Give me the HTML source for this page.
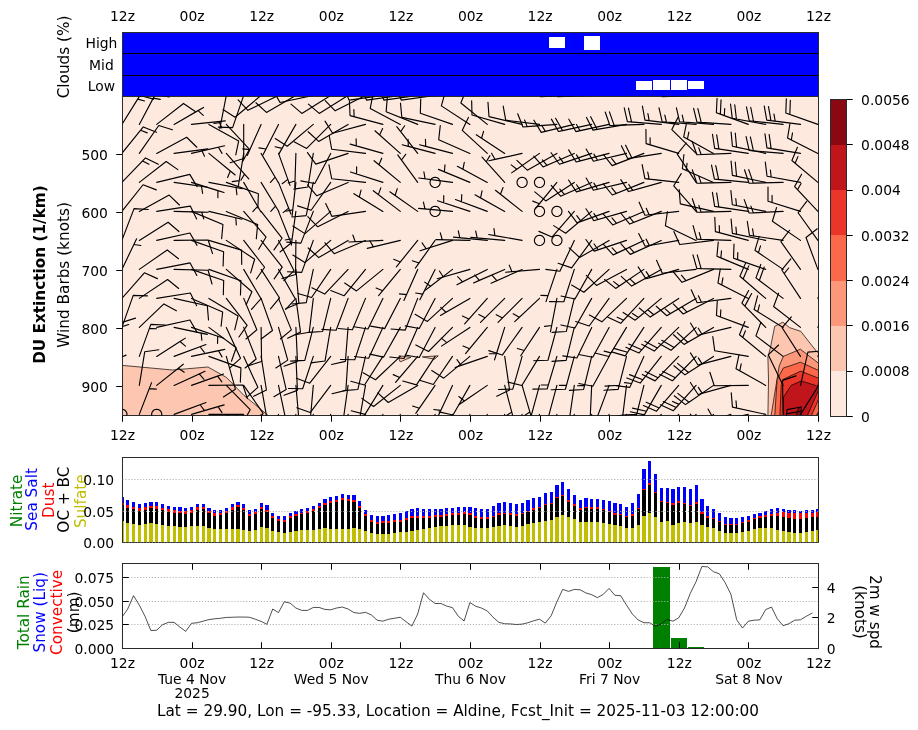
<!DOCTYPE html>
<html lang="en"><head><meta charset="utf-8"><title>Meteogram - Aldine</title>
<style>html,body{margin:0;padding:0;background:#fff;overflow:hidden}body{width:918px;height:730px;font-family:"DejaVu Sans","Liberation Sans",sans-serif}svg{display:block}g[id^=cr] path{shape-rendering:crispEdges}</style>
</head><body>
<svg width="918" height="730" viewBox="0 0 660.96 525.6">
 <defs>
  <style type="text/css">*{stroke-linejoin: round; stroke-linecap: butt}</style>
 </defs>
 <g id="figure_1">
  <g id="patch_1">
   <path d="M 0 525.6 L 660.96 525.6 L 660.96 0 L 0 0 z
" style="fill: #ffffff"/>
  </g>
  <g id="text_1">
   <text style="font-size: 11px; font-family: 'DejaVu Sans', 'Liberation Sans', sans-serif; text-anchor: middle" x="49.752" y="40.968" transform="rotate(-90 49.752 40.968)">Clouds (%)</text>
  </g>
  <g id="text_2">
   <text style="font-weight: 700; font-size: 11px; font-family: 'DejaVu Sans', 'Liberation Sans', sans-serif; text-anchor: middle" x="32.4" y="197.712" transform="rotate(-90 32.4 197.712)">DU Extinction (1/km)</text>
  </g>
  <g id="text_3">
   <text style="font-size: 11px; font-family: 'DejaVu Sans', 'Liberation Sans', sans-serif; text-anchor: middle" x="49.464" y="197.928" transform="rotate(-90 49.464 197.928)">Wind Barbs (knots)</text>
  </g>
  <g id="text_4">
   <text style="font-size: 11px; font-family: 'DejaVu Sans', 'Liberation Sans', sans-serif; text-anchor: middle; fill: #008000" x="15.984" y="360.648" transform="rotate(-90 15.984 360.648)">Nitrate</text>
  </g>
  <g id="text_5">
   <text style="font-size: 11px; font-family: 'DejaVu Sans', 'Liberation Sans', sans-serif; text-anchor: middle; fill: #0000ff" x="26.784" y="359.568" transform="rotate(-90 26.784 359.568)">Sea Salt</text>
  </g>
  <g id="text_6">
   <text style="font-size: 11px; font-family: 'DejaVu Sans', 'Liberation Sans', sans-serif; text-anchor: middle; fill: #ff0000" x="38.88" y="360.144" transform="rotate(-90 38.88 360.144)">Dust</text>
  </g>
  <g id="text_7">
   <text style="font-size: 11px; font-family: 'DejaVu Sans', 'Liberation Sans', sans-serif; text-anchor: middle" x="49.536" y="359.712" transform="rotate(-90 49.536 359.712)">OC + BC</text>
  </g>
  <g id="text_8">
   <text style="font-size: 11px; font-family: 'DejaVu Sans', 'Liberation Sans', sans-serif; text-anchor: middle; fill: #bfbf00" x="61.92" y="360.864" transform="rotate(-90 61.92 360.864)">Sulfate</text>
  </g>
  <g id="text_9">
   <text style="font-size: 11px; font-family: 'DejaVu Sans', 'Liberation Sans', sans-serif; text-anchor: middle; fill: #008000" x="21.24" y="440.856" transform="rotate(-90 21.24 440.856)">Total Rain</text>
  </g>
  <g id="text_10">
   <text style="font-size: 11px; font-family: 'DejaVu Sans', 'Liberation Sans', sans-serif; text-anchor: middle; fill: #0000ff" x="32.616" y="440.856" transform="rotate(-90 32.616 440.856)">Snow (Liq)</text>
  </g>
  <g id="text_11">
   <text style="font-size: 11px; font-family: 'DejaVu Sans', 'Liberation Sans', sans-serif; text-anchor: middle; fill: #ff0000" x="45" y="440.856" transform="rotate(-90 45 440.856)">Convective</text>
  </g>
  <g id="text_12">
   <text style="font-size: 11px; font-family: 'DejaVu Sans', 'Liberation Sans', sans-serif; text-anchor: middle" x="56.736" y="440.856" transform="rotate(-90 56.736 440.856)">(mm)</text>
  </g>
  <g id="text_13">
   <text style="font-size: 11px; font-family: 'DejaVu Sans', 'Liberation Sans', sans-serif; text-anchor: middle" x="626.616" y="440.64" transform="rotate(-270 626.616 440.64)">2m w spd</text>
  </g>
  <g id="text_14">
   <text style="font-size: 11px; font-family: 'DejaVu Sans', 'Liberation Sans', sans-serif; text-anchor: middle" x="615.6" y="440.64" transform="rotate(-270 615.6 440.64)">(knots)</text>
  </g>
  <g id="axes_1">
   <g id="patch_2">
    <path d="M 88.2 69.48 L 589.32 69.48 L 589.32 23.4 L 88.2 23.4 z
" style="fill: #0000ff"/>
   </g>
   <g id="matplotlib.axis_1">
    <g id="xtick_1">
     <g id="line2d_1"/>
     <g id="text_15">
      <text style="font-size: 10px; font-family: 'DejaVu Sans', 'Liberation Sans', sans-serif; text-anchor: middle" x="88.2" y="15.120313" transform="rotate(-0 88.2 15.120313)">12z</text>
     </g>
    </g>
    <g id="xtick_2">
     <g id="line2d_2"/>
     <g id="text_16">
      <text style="font-size: 10px; font-family: 'DejaVu Sans', 'Liberation Sans', sans-serif; text-anchor: middle" x="138.312" y="15.120313" transform="rotate(-0 138.312 15.120313)">00z</text>
     </g>
    </g>
    <g id="xtick_3">
     <g id="line2d_3"/>
     <g id="text_17">
      <text style="font-size: 10px; font-family: 'DejaVu Sans', 'Liberation Sans', sans-serif; text-anchor: middle" x="188.424" y="15.120313" transform="rotate(-0 188.424 15.120313)">12z</text>
     </g>
    </g>
    <g id="xtick_4">
     <g id="line2d_4"/>
     <g id="text_18">
      <text style="font-size: 10px; font-family: 'DejaVu Sans', 'Liberation Sans', sans-serif; text-anchor: middle" x="238.536" y="15.120313" transform="rotate(-0 238.536 15.120313)">00z</text>
     </g>
    </g>
    <g id="xtick_5">
     <g id="line2d_5"/>
     <g id="text_19">
      <text style="font-size: 10px; font-family: 'DejaVu Sans', 'Liberation Sans', sans-serif; text-anchor: middle" x="288.648" y="15.120313" transform="rotate(-0 288.648 15.120313)">12z</text>
     </g>
    </g>
    <g id="xtick_6">
     <g id="line2d_6"/>
     <g id="text_20">
      <text style="font-size: 10px; font-family: 'DejaVu Sans', 'Liberation Sans', sans-serif; text-anchor: middle" x="338.76" y="15.120313" transform="rotate(-0 338.76 15.120313)">00z</text>
     </g>
    </g>
    <g id="xtick_7">
     <g id="line2d_7"/>
     <g id="text_21">
      <text style="font-size: 10px; font-family: 'DejaVu Sans', 'Liberation Sans', sans-serif; text-anchor: middle" x="388.872" y="15.120313" transform="rotate(-0 388.872 15.120313)">12z</text>
     </g>
    </g>
    <g id="xtick_8">
     <g id="line2d_8"/>
     <g id="text_22">
      <text style="font-size: 10px; font-family: 'DejaVu Sans', 'Liberation Sans', sans-serif; text-anchor: middle" x="438.984" y="15.120313" transform="rotate(-0 438.984 15.120313)">00z</text>
     </g>
    </g>
    <g id="xtick_9">
     <g id="line2d_9"/>
     <g id="text_23">
      <text style="font-size: 10px; font-family: 'DejaVu Sans', 'Liberation Sans', sans-serif; text-anchor: middle" x="489.096" y="15.120313" transform="rotate(-0 489.096 15.120313)">12z</text>
     </g>
    </g>
    <g id="xtick_10">
     <g id="line2d_10"/>
     <g id="text_24">
      <text style="font-size: 10px; font-family: 'DejaVu Sans', 'Liberation Sans', sans-serif; text-anchor: middle" x="539.208" y="15.120313" transform="rotate(-0 539.208 15.120313)">00z</text>
     </g>
    </g>
    <g id="xtick_11">
     <g id="line2d_11"/>
     <g id="text_25">
      <text style="font-size: 10px; font-family: 'DejaVu Sans', 'Liberation Sans', sans-serif; text-anchor: middle" x="589.32" y="15.120313" transform="rotate(-0 589.32 15.120313)">12z</text>
     </g>
    </g>
   </g>
   <g id="matplotlib.axis_2"/>
   <g id="line2d_12">
    <path d="M 88.2 38.52 L 589.32 38.52 
" clip-path="url(#pad1b31eeb8)" style="fill: none; stroke: #000000; stroke-width: 0.8"/>
   </g>
   <g id="line2d_13">
    <path d="M 88.2 54.36 L 589.32 54.36 
" clip-path="url(#pad1b31eeb8)" style="fill: none; stroke: #000000; stroke-width: 0.8"/>
   </g>
   <g id="patch_3">
    <path d="M 88.2 69.48 L 88.2 23.4 
" style="fill: none; stroke: #2b2b2b; stroke-width: 0.72; stroke-linejoin: miter; stroke-linecap: square"/>
   </g>
   <g id="patch_4">
    <path d="M 589.32 69.48 L 589.32 23.4 
" style="fill: none; stroke: #2b2b2b; stroke-width: 0.72; stroke-linejoin: miter; stroke-linecap: square"/>
   </g>
   <g id="patch_5">
    <path d="M 88.2 69.48 L 589.32 69.48 
" style="fill: none; stroke: #2b2b2b; stroke-width: 0.72; stroke-linejoin: miter; stroke-linecap: square"/>
   </g>
   <g id="patch_6">
    <path d="M 88.2 23.4 L 589.32 23.4 
" style="fill: none; stroke: #2b2b2b; stroke-width: 0.72; stroke-linejoin: miter; stroke-linecap: square"/>
   </g>
   <g id="cr1">
    <path d="M 395.28 26.64 L 406.8 26.64 L 406.8 34.56 L 395.28 34.56 z
" clip-path="url(#pad1b31eeb8)" style="fill: #ffffff"/>
   </g>
   <g id="cr2">
    <path d="M 420.48 25.92 L 432 25.92 L 432 36 L 420.48 36 z
" clip-path="url(#pad1b31eeb8)" style="fill: #ffffff"/>
   </g>
   <g id="cr3">
    <path d="M 457.92 58.32 L 469.44 58.32 L 469.44 64.8 L 457.92 64.8 z
" clip-path="url(#pad1b31eeb8)" style="fill: #ffffff"/>
   </g>
   <g id="cr4">
    <path d="M 470.16 57.6 L 482.4 57.6 L 482.4 64.8 L 470.16 64.8 z
" clip-path="url(#pad1b31eeb8)" style="fill: #ffffff"/>
   </g>
   <g id="cr5">
    <path d="M 483.12 57.6 L 494.64 57.6 L 494.64 64.8 L 483.12 64.8 z
" clip-path="url(#pad1b31eeb8)" style="fill: #ffffff"/>
   </g>
   <g id="cr6">
    <path d="M 495.36 58.32 L 506.88 58.32 L 506.88 64.08 L 495.36 64.08 z
" clip-path="url(#pad1b31eeb8)" style="fill: #ffffff"/>
   </g>
  </g>
  <g id="axes_2">
   <g id="patch_7">
    <path d="M 88.2 299.16 L 589.32 299.16 L 589.32 69.48 L 88.2 69.48 z
" style="fill: #fee9df"/>
   </g>
   <g id="patch_8">
    <path d="M 87.48 263.016 L 124.2 266.4 L 149.76 264.24 L 163.08 271.8 L 175.68 284.688 L 192.96 299.016 L 192.96 299.88 L 87.48 299.88 z
" clip-path="url(#p995d3564c0)" style="fill: #fdc6b0; stroke: #000000; stroke-width: 0.5; stroke-linejoin: miter"/>
   </g>
   <g id="patch_9">
    <path d="M 287.28 256.176 L 295.848 257.256 L 288.144 260.568 L 287.28 258.48 z
" clip-path="url(#p995d3564c0)" style="fill: #fdc6b0; stroke: #000000; stroke-width: 0.5; stroke-linejoin: miter"/>
   </g>
   <g id="patch_10">
    <path d="M 304.056 256.968 L 315.576 256.176 L 312.84 258.624 z
" clip-path="url(#p995d3564c0)" style="fill: #fdc6b0; stroke: #000000; stroke-width: 0.5; stroke-linejoin: miter"/>
   </g>
   <g id="patch_11">
    <path d="M 552.888 299.88 L 553.32 273.6 L 552.888 257.04 L 554.616 250.704 L 557.784 234.936 L 563.688 231.984 L 568.44 235.872 L 576.576 238.608 L 587.664 252.72 L 590.04 254.88 L 590.04 299.88 z
" clip-path="url(#p995d3564c0)" style="fill: #fdc6b0; stroke: #000000; stroke-width: 0.5; stroke-linejoin: miter"/>
   </g>
   <g id="patch_12">
    <path d="M 555.12 299.88 L 561.024 263.52 L 563.976 256.608 L 576.288 251.424 L 590.04 262.08 L 590.04 299.88 z
" clip-path="url(#p995d3564c0)" style="fill: #fc9879; stroke: #000000; stroke-width: 0.5; stroke-linejoin: miter"/>
   </g>
   <g id="patch_13">
    <path d="M 557.784 299.88 L 559.512 273.384 L 563.976 264.96 L 568.44 263.52 L 576.288 260.784 L 590.04 266.976 L 590.04 295.2 L 587.304 299.88 z
" clip-path="url(#p995d3564c0)" style="fill: #fb694a; stroke: #000000; stroke-width: 0.5; stroke-linejoin: miter"/>
   </g>
   <g id="patch_14">
    <path d="M 561.528 299.88 L 562.464 276.84 L 563.76 273.168 L 576.576 267.192 L 590.04 272.592 L 590.04 286.056 L 583.92 299.88 z
" clip-path="url(#p995d3564c0)" style="fill: #ea362a; stroke: #000000; stroke-width: 0.5; stroke-linejoin: miter"/>
   </g>
   <g id="patch_15">
    <path d="M 564.12 299.88 L 564.12 286.056 L 569.52 277.56 L 576.936 274.248 L 587.304 277.56 L 590.04 279.36 L 581.04 299.88 z
" clip-path="url(#p995d3564c0)" style="fill: #bf151b; stroke: #000000; stroke-width: 0.5; stroke-linejoin: miter"/>
   </g>
   <g id="patch_16">
    <path d="M 575.28 293.472 L 576.936 293.04 L 576.936 299.88 L 572.76 299.88 z
" clip-path="url(#p995d3564c0)" style="fill: #8a0812; stroke: #000000; stroke-width: 0.5; stroke-linejoin: miter"/>
   </g>
   <g id="matplotlib.axis_3">
    <g id="xtick_12">
     <g id="line2d_14">
      
      <g>
       <path d="M 0 0 L 0 4.5 " transform="translate(88.2000 299.1600)" style="stroke: #000000; stroke-width: 0.72"/>
      </g>
     </g>
     <g id="text_26">
      <text style="font-size: 10px; font-family: 'DejaVu Sans', 'Liberation Sans', sans-serif; text-anchor: middle" x="88.2" y="316.938437" transform="rotate(-0 88.2 316.938437)">12z</text>
     </g>
    </g>
    <g id="xtick_13">
     <g id="line2d_15">
      <g>
       <path d="M 0 0 L 0 4.5 " transform="translate(138.6000 299.1600)" style="stroke: #000000; stroke-width: 0.72"/>
      </g>
     </g>
     <g id="text_27">
      <text style="font-size: 10px; font-family: 'DejaVu Sans', 'Liberation Sans', sans-serif; text-anchor: middle" x="138.312" y="316.938437" transform="rotate(-0 138.312 316.938437)">00z</text>
     </g>
    </g>
    <g id="xtick_14">
     <g id="line2d_16">
      <g>
       <path d="M 0 0 L 0 4.5 " transform="translate(188.2800 299.1600)" style="stroke: #000000; stroke-width: 0.72"/>
      </g>
     </g>
     <g id="text_28">
      <text style="font-size: 10px; font-family: 'DejaVu Sans', 'Liberation Sans', sans-serif; text-anchor: middle" x="188.424" y="316.938437" transform="rotate(-0 188.424 316.938437)">12z</text>
     </g>
    </g>
    <g id="xtick_15">
     <g id="line2d_17">
      <g>
       <path d="M 0 0 L 0 4.5 " transform="translate(238.6800 299.1600)" style="stroke: #000000; stroke-width: 0.72"/>
      </g>
     </g>
     <g id="text_29">
      <text style="font-size: 10px; font-family: 'DejaVu Sans', 'Liberation Sans', sans-serif; text-anchor: middle" x="238.536" y="316.938437" transform="rotate(-0 238.536 316.938437)">00z</text>
     </g>
    </g>
    <g id="xtick_16">
     <g id="line2d_18">
      <g>
       <path d="M 0 0 L 0 4.5 " transform="translate(288.3600 299.1600)" style="stroke: #000000; stroke-width: 0.72"/>
      </g>
     </g>
     <g id="text_30">
      <text style="font-size: 10px; font-family: 'DejaVu Sans', 'Liberation Sans', sans-serif; text-anchor: middle" x="288.648" y="316.938437" transform="rotate(-0 288.648 316.938437)">12z</text>
     </g>
    </g>
    <g id="xtick_17">
     <g id="line2d_19">
      <g>
       <path d="M 0 0 L 0 4.5 " transform="translate(338.7600 299.1600)" style="stroke: #000000; stroke-width: 0.72"/>
      </g>
     </g>
     <g id="text_31">
      <text style="font-size: 10px; font-family: 'DejaVu Sans', 'Liberation Sans', sans-serif; text-anchor: middle" x="338.76" y="316.938437" transform="rotate(-0 338.76 316.938437)">00z</text>
     </g>
    </g>
    <g id="xtick_18">
     <g id="line2d_20">
      <g>
       <path d="M 0 0 L 0 4.5 " transform="translate(389.1600 299.1600)" style="stroke: #000000; stroke-width: 0.72"/>
      </g>
     </g>
     <g id="text_32">
      <text style="font-size: 10px; font-family: 'DejaVu Sans', 'Liberation Sans', sans-serif; text-anchor: middle" x="388.872" y="316.938437" transform="rotate(-0 388.872 316.938437)">12z</text>
     </g>
    </g>
    <g id="xtick_19">
     <g id="line2d_21">
      <g>
       <path d="M 0 0 L 0 4.5 " transform="translate(438.8400 299.1600)" style="stroke: #000000; stroke-width: 0.72"/>
      </g>
     </g>
     <g id="text_33">
      <text style="font-size: 10px; font-family: 'DejaVu Sans', 'Liberation Sans', sans-serif; text-anchor: middle" x="438.984" y="316.938437" transform="rotate(-0 438.984 316.938437)">00z</text>
     </g>
    </g>
    <g id="xtick_20">
     <g id="line2d_22">
      <g>
       <path d="M 0 0 L 0 4.5 " transform="translate(489.2400 299.1600)" style="stroke: #000000; stroke-width: 0.72"/>
      </g>
     </g>
     <g id="text_34">
      <text style="font-size: 10px; font-family: 'DejaVu Sans', 'Liberation Sans', sans-serif; text-anchor: middle" x="489.096" y="316.938437" transform="rotate(-0 489.096 316.938437)">12z</text>
     </g>
    </g>
    <g id="xtick_21">
     <g id="line2d_23">
      <g>
       <path d="M 0 0 L 0 4.5 " transform="translate(538.9200 299.1600)" style="stroke: #000000; stroke-width: 0.72"/>
      </g>
     </g>
     <g id="text_35">
      <text style="font-size: 10px; font-family: 'DejaVu Sans', 'Liberation Sans', sans-serif; text-anchor: middle" x="539.208" y="316.938437" transform="rotate(-0 539.208 316.938437)">00z</text>
     </g>
    </g>
    <g id="xtick_22">
     <g id="line2d_24">
      <g>
       <path d="M 0 0 L 0 4.5 " transform="translate(589.3200 299.1600)" style="stroke: #000000; stroke-width: 0.72"/>
      </g>
     </g>
     <g id="text_36">
      <text style="font-size: 10px; font-family: 'DejaVu Sans', 'Liberation Sans', sans-serif; text-anchor: middle" x="589.32" y="316.938437" transform="rotate(-0 589.32 316.938437)">12z</text>
     </g>
    </g>
   </g>
   <g id="matplotlib.axis_4">
    <g id="ytick_1">
     <g id="line2d_25">
      
      <g>
       <path d="M 0 0 L -4.5 0 " transform="translate(88.2000 111.2400)" style="stroke: #000000; stroke-width: 0.72"/>
      </g>
     </g>
     <g id="text_37">
      <text style="font-size: 10px; font-family: 'DejaVu Sans', 'Liberation Sans', sans-serif; text-anchor: end" x="77.7" y="115.039219" transform="rotate(-0 77.7 115.039219)">500</text>
     </g>
    </g>
    <g id="ytick_2">
     <g id="line2d_26">
      <g>
       <path d="M 0 0 L -4.5 0 " transform="translate(88.2000 153.0000)" style="stroke: #000000; stroke-width: 0.72"/>
      </g>
     </g>
     <g id="text_38">
      <text style="font-size: 10px; font-family: 'DejaVu Sans', 'Liberation Sans', sans-serif; text-anchor: end" x="77.7" y="156.799219" transform="rotate(-0 77.7 156.799219)">600</text>
     </g>
    </g>
    <g id="ytick_3">
     <g id="line2d_27">
      <g>
       <path d="M 0 0 L -4.5 0 " transform="translate(88.2000 194.7600)" style="stroke: #000000; stroke-width: 0.72"/>
      </g>
     </g>
     <g id="text_39">
      <text style="font-size: 10px; font-family: 'DejaVu Sans', 'Liberation Sans', sans-serif; text-anchor: end" x="77.7" y="198.559219" transform="rotate(-0 77.7 198.559219)">700</text>
     </g>
    </g>
    <g id="ytick_4">
     <g id="line2d_28">
      <g>
       <path d="M 0 0 L -4.5 0 " transform="translate(88.2000 236.5200)" style="stroke: #000000; stroke-width: 0.72"/>
      </g>
     </g>
     <g id="text_40">
      <text style="font-size: 10px; font-family: 'DejaVu Sans', 'Liberation Sans', sans-serif; text-anchor: end" x="77.7" y="240.319219" transform="rotate(-0 77.7 240.319219)">800</text>
     </g>
    </g>
    <g id="ytick_5">
     <g id="line2d_29">
      <g>
       <path d="M 0 0 L -4.5 0 " transform="translate(88.2000 278.2800)" style="stroke: #000000; stroke-width: 0.72"/>
      </g>
     </g>
     <g id="text_41">
      <text style="font-size: 10px; font-family: 'DejaVu Sans', 'Liberation Sans', sans-serif; text-anchor: end" x="77.7" y="282.079219" transform="rotate(-0 77.7 282.079219)">900</text>
     </g>
    </g>
   </g>
   <g id="patch_17">
    <path d="M 88.2 299.16 L 88.2 69.48 
" style="fill: none; stroke: #2b2b2b; stroke-width: 0.72; stroke-linejoin: miter; stroke-linecap: square"/>
   </g>
   <g id="patch_18">
    <path d="M 589.32 299.16 L 589.32 69.48 
" style="fill: none; stroke: #2b2b2b; stroke-width: 0.72; stroke-linejoin: miter; stroke-linecap: square"/>
   </g>
   <g id="patch_19">
    <path d="M 88.2 299.16 L 589.32 299.16 
" style="fill: none; stroke: #2b2b2b; stroke-width: 0.72; stroke-linejoin: miter; stroke-linecap: square"/>
   </g>
   <g id="patch_20">
    <path d="M 88.2 69.48 L 589.32 69.48 
" style="fill: none; stroke: #2b2b2b; stroke-width: 0.72; stroke-linejoin: miter; stroke-linecap: square"/>
   </g>
   <g id="Barbs_1">
    <path d="M 87.768 68.688 L 100.018 47.470378 L 110.036299 49.718175 L 100.018 47.470378 L 98.48675 50.12258 L 103.495899 51.246479 L 98.48675 50.12258 z
" clip-path="url(#p995d3564c0)" style="stroke: #000000; stroke-width: 0.82"/>
    <path d="M 100.296 68.688 L 112.546 47.470378 L 122.564299 49.718175 L 112.546 47.470378 L 111.01475 50.12258 L 116.023899 51.246479 L 111.01475 50.12258 z
" clip-path="url(#p995d3564c0)" style="stroke: #000000; stroke-width: 0.82"/>
    <path d="M 112.824 68.688 L 128.572296 49.919911 L 138.048069 53.873219 L 128.572296 49.919911 z
" clip-path="url(#p995d3564c0)" style="stroke: #000000; stroke-width: 0.82"/>
    <path d="M 125.352 68.688 L 144.120089 52.939704 L 152.765419 58.478402 L 144.120089 52.939704 z
" clip-path="url(#p995d3564c0)" style="stroke: #000000; stroke-width: 0.82"/>
    <path d="M 137.88 68.688 L 160.902469 60.308506 L 156.585756 61.879662 L 159.700559 65.960437 L 156.585756 61.879662 z
" clip-path="url(#p995d3564c0)" style="stroke: #000000; stroke-width: 0.82"/>
    <path d="M 150.408 68.688 L 171.625622 56.438 L 167.647318 58.734875 L 171.42342 62.212774 L 167.647318 58.734875 z
" clip-path="url(#p995d3564c0)" style="stroke: #000000; stroke-width: 0.82"/>
    <path d="M 162.936 68.688 L 158.26118 92.737866 L 159.137708 88.228516 L 154.035559 88.796669 L 159.137708 88.228516 z
" clip-path="url(#p995d3564c0)" style="stroke: #000000; stroke-width: 0.82"/>
    <path d="M 175.464 68.688 L 167.48758 91.853205 L 157.224446 91.558288 L 167.48758 91.853205 z
" clip-path="url(#p995d3564c0)" style="stroke: #000000; stroke-width: 0.82"/>
    <path d="M 187.992 68.688 L 169.223911 84.436296 L 160.578581 78.897598 L 169.223911 84.436296 z
" clip-path="url(#p995d3564c0)" style="stroke: #000000; stroke-width: 0.82"/>
    <path d="M 200.52 68.688 L 178.499546 79.428093 L 171.450952 71.962423 L 178.499546 79.428093 z
" clip-path="url(#p995d3564c0)" style="stroke: #000000; stroke-width: 0.82"/>
    <path d="M 213.048 68.688 L 191.830378 80.938 L 184.278175 73.982201 L 191.830378 80.938 z
" clip-path="url(#p995d3564c0)" style="stroke: #000000; stroke-width: 0.82"/>
    <path d="M 225.576 68.688 L 201.611384 73.781836 L 196.578272 64.832719 L 201.611384 73.781836 z
" clip-path="url(#p995d3564c0)" style="stroke: #000000; stroke-width: 0.82"/>
    <path d="M 238.104 68.688 L 217.326822 81.671022 L 209.536466 74.983028 L 217.326822 81.671022 z
" clip-path="url(#p995d3564c0)" style="stroke: #000000; stroke-width: 0.82"/>
    <path d="M 250.632 68.688 L 229.854822 81.671022 L 222.064466 74.983028 L 229.854822 81.671022 z
" clip-path="url(#p995d3564c0)" style="stroke: #000000; stroke-width: 0.82"/>
    <path d="M 263.16 68.688 L 241.33034 79.810767 L 234.152526 72.469249 L 241.33034 79.810767 z
" clip-path="url(#p995d3564c0)" style="stroke: #000000; stroke-width: 0.82"/>
    <path d="M 275.688 68.688 L 251.426432 72.097741 L 247.02984 62.819332 L 251.426432 72.097741 z
" clip-path="url(#p995d3564c0)" style="stroke: #000000; stroke-width: 0.82"/>
    <path d="M 288.216 68.688 L 263.954432 72.097741 L 259.55784 62.819332 L 263.954432 72.097741 z
" clip-path="url(#p995d3564c0)" style="stroke: #000000; stroke-width: 0.82"/>
    <path d="M 300.744 68.688 L 276.482432 72.097741 L 272.08584 62.819332 L 276.482432 72.097741 z
" clip-path="url(#p995d3564c0)" style="stroke: #000000; stroke-width: 0.82"/>
    <path d="M 313.272 68.688 L 289.010432 72.097741 L 284.61384 62.819332 L 289.010432 72.097741 z
" clip-path="url(#p995d3564c0)" style="stroke: #000000; stroke-width: 0.82"/>
    <path d="M 325.8 68.688 L 302.777531 60.308506 L 303.25152 50.052082 L 302.777531 60.308506 z
" clip-path="url(#p995d3564c0)" style="stroke: #000000; stroke-width: 0.82"/>
    <path d="M 338.328 68.688 L 317.110378 56.438 L 319.358175 46.419701 L 317.110378 56.438 z
" clip-path="url(#p995d3564c0)" style="stroke: #000000; stroke-width: 0.82"/>
    <path d="M 350.856 68.688 L 330.786775 54.635377 L 333.899171 44.851109 L 330.786775 54.635377 z
" clip-path="url(#p995d3564c0)" style="stroke: #000000; stroke-width: 0.82"/>
    <path d="M 363.384 68.688 L 339.25621 64.43362 L 337.941988 54.250706 L 339.25621 64.43362 z
" clip-path="url(#p995d3564c0)" style="stroke: #000000; stroke-width: 0.82"/>
    <path d="M 375.912 68.688 L 351.78421 64.43362 L 350.469988 54.250706 L 351.78421 64.43362 z
" clip-path="url(#p995d3564c0)" style="stroke: #000000; stroke-width: 0.82"/>
    <path d="M 388.44 68.688 L 364.03323 66.552684 L 361.83651 56.523062 L 364.03323 66.552684 z
" clip-path="url(#p995d3564c0)" style="stroke: #000000; stroke-width: 0.82"/>
    <path d="M 400.968 68.688 L 376.56123 66.552684 L 374.36451 56.523062 L 376.56123 66.552684 z
" clip-path="url(#p995d3564c0)" style="stroke: #000000; stroke-width: 0.82"/>
    <path d="M 413.496 68.688 L 389.010925 69.543038 L 385.608275 59.855887 L 389.010925 69.543038 L 392.071559 69.436158 L 390.370234 64.592583 L 392.071559 69.436158 z
" clip-path="url(#p995d3564c0)" style="stroke: #000000; stroke-width: 0.82"/>
    <path d="M 426.024 68.688 L 401.538925 69.543038 L 398.136275 59.855887 L 401.538925 69.543038 L 404.599559 69.436158 L 402.898234 64.592583 L 404.599559 69.436158 z
" clip-path="url(#p995d3564c0)" style="stroke: #000000; stroke-width: 0.82"/>
    <path d="M 438.552 68.688 L 414.14523 66.552684 L 411.94851 56.523062 L 414.14523 66.552684 L 417.196076 66.819599 L 416.097716 61.804788 L 417.196076 66.819599 z
" clip-path="url(#p995d3564c0)" style="stroke: #000000; stroke-width: 0.82"/>
    <path d="M 451.08 68.688 L 426.67323 66.552684 L 424.47651 56.523062 L 426.67323 66.552684 L 429.724076 66.819599 L 428.625716 61.804788 L 429.724076 66.819599 z
" clip-path="url(#p995d3564c0)" style="stroke: #000000; stroke-width: 0.82"/>
    <path d="M 463.608 68.688 L 439.20123 66.552684 L 437.00451 56.523062 L 439.20123 66.552684 L 442.252076 66.819599 L 441.153716 61.804788 L 442.252076 66.819599 z
" clip-path="url(#p995d3564c0)" style="stroke: #000000; stroke-width: 0.82"/>
    <path d="M 476.136 68.688 L 451.72923 66.552684 L 449.53251 56.523062 L 451.72923 66.552684 L 454.780076 66.819599 L 453.681716 61.804788 L 454.780076 66.819599 z
" clip-path="url(#p995d3564c0)" style="stroke: #000000; stroke-width: 0.82"/>
    <path d="M 488.664 68.688 L 464.178925 67.832962 L 461.460305 57.932053 L 464.178925 67.832962 L 467.239559 67.939842 L 465.880249 62.989387 L 467.239559 67.939842 z
" clip-path="url(#p995d3564c0)" style="stroke: #000000; stroke-width: 0.82"/>
    <path d="M 501.192 68.688 L 476.706925 69.543038 L 473.304275 59.855887 L 476.706925 69.543038 L 479.767559 69.436158 L 478.066234 64.592583 L 479.767559 69.436158 z
" clip-path="url(#p995d3564c0)" style="stroke: #000000; stroke-width: 0.82"/>
    <path d="M 513.72 68.688 L 489.234925 67.832962 L 486.516305 57.932053 L 489.234925 67.832962 L 492.295559 67.939842 L 490.936249 62.989387 L 492.295559 67.939842 z
" clip-path="url(#p995d3564c0)" style="stroke: #000000; stroke-width: 0.82"/>
    <path d="M 526.248 68.688 L 502.12021 64.43362 L 500.805988 54.250706 L 502.12021 64.43362 L 505.136184 64.965417 L 503.821962 54.782504 L 505.136184 64.965417 z
" clip-path="url(#p995d3564c0)" style="stroke: #000000; stroke-width: 0.82"/>
    <path d="M 538.776 68.688 L 515.753531 60.308506 L 516.22752 50.052082 L 515.753531 60.308506 L 518.631339 61.355943 L 519.105328 51.099519 L 518.631339 61.355943 z
" clip-path="url(#p995d3564c0)" style="stroke: #000000; stroke-width: 0.82"/>
    <path d="M 551.304 68.688 L 528.281531 60.308506 L 528.75552 50.052082 L 528.281531 60.308506 L 531.159339 61.355943 L 531.633328 51.099519 L 531.159339 61.355943 z
" clip-path="url(#p995d3564c0)" style="stroke: #000000; stroke-width: 0.82"/>
    <path d="M 563.832 68.688 L 540.809531 60.308506 L 541.28352 50.052082 L 540.809531 60.308506 L 543.687339 61.355943 L 544.161328 51.099519 L 543.687339 61.355943 z
" clip-path="url(#p995d3564c0)" style="stroke: #000000; stroke-width: 0.82"/>
    <path d="M 576.36 68.688 L 553.337531 60.308506 L 553.81152 50.052082 L 553.337531 60.308506 L 556.215339 61.355943 L 556.689328 51.099519 L 556.215339 61.355943 z
" clip-path="url(#p995d3564c0)" style="stroke: #000000; stroke-width: 0.82"/>
    <path d="M 588.888 68.688 L 565.865531 60.308506 L 566.33952 50.052082 L 565.865531 60.308506 L 568.743339 61.355943 L 569.217328 51.099519 L 568.743339 61.355943 z
" clip-path="url(#p995d3564c0)" style="stroke: #000000; stroke-width: 0.82"/>
    <path d="M 87.768 89.568 L 100.751022 68.790822 L 110.684771 71.386883 L 100.751022 68.790822 L 99.128144 71.387969 L 104.095019 72.686 L 99.128144 71.387969 z
" clip-path="url(#p995d3564c0)" style="stroke: #000000; stroke-width: 0.82"/>
    <path d="M 100.296 89.568 L 111.798053 67.935784 L 121.888696 69.832578 L 111.798053 67.935784 L 110.360297 70.639811 L 115.405618 71.588208 L 110.360297 70.639811 z
" clip-path="url(#p995d3564c0)" style="stroke: #000000; stroke-width: 0.82"/>
    <path d="M 112.824 89.568 L 132.130263 74.484294 L 140.577029 80.321336 L 132.130263 74.484294 z
" clip-path="url(#p995d3564c0)" style="stroke: #000000; stroke-width: 0.82"/>
    <path d="M 125.352 89.568 L 146.569622 77.318 L 142.591318 79.614875 L 146.36742 83.092774 L 142.591318 79.614875 z
" clip-path="url(#p995d3564c0)" style="stroke: #000000; stroke-width: 0.82"/>
    <path d="M 137.88 89.568 L 162.245786 87.007053 L 157.677201 87.48723 L 159.712253 92.200328 L 157.677201 87.48723 z
" clip-path="url(#p995d3564c0)" style="stroke: #000000; stroke-width: 0.82"/>
    <path d="M 150.408 89.568 L 171.836183 101.445836 L 169.763571 111.501838 L 171.836183 101.445836 z
" clip-path="url(#p995d3564c0)" style="stroke: #000000; stroke-width: 0.82"/>
    <path d="M 162.936 89.568 L 179.64496 107.486166 L 174.566314 116.40952 L 179.64496 107.486166 z
" clip-path="url(#p995d3564c0)" style="stroke: #000000; stroke-width: 0.82"/>
    <path d="M 175.464 89.568 L 175.464 114.068 L 165.664 117.1305 L 175.464 114.068 z
" clip-path="url(#p995d3564c0)" style="stroke: #000000; stroke-width: 0.82"/>
    <path d="M 187.992 89.568 L 178.026952 111.949864 L 179.895399 107.753264 L 174.79621 107.159121 L 179.895399 107.753264 z
" clip-path="url(#p995d3564c0)" style="stroke: #000000; stroke-width: 0.82"/>
    <path d="M 200.52 89.568 L 189.397233 111.39766 L 191.482752 107.304599 L 186.421647 106.444399 L 191.482752 107.304599 z
" clip-path="url(#p995d3564c0)" style="stroke: #000000; stroke-width: 0.82"/>
    <path d="M 213.048 89.568 L 200.798 110.785622 L 203.094875 106.807318 L 198.085726 105.68342 L 203.094875 106.807318 z
" clip-path="url(#p995d3564c0)" style="stroke: #000000; stroke-width: 0.82"/>
    <path d="M 225.576 89.568 L 206.807911 105.316296 L 198.162581 99.777598 L 206.807911 105.316296 z
" clip-path="url(#p995d3564c0)" style="stroke: #000000; stroke-width: 0.82"/>
    <path d="M 238.104 89.568 L 220.779884 106.892116 L 211.684723 102.127984 L 220.779884 106.892116 z
" clip-path="url(#p995d3564c0)" style="stroke: #000000; stroke-width: 0.82"/>
    <path d="M 250.632 89.568 L 229.414378 101.818 L 221.862175 94.862201 L 229.414378 101.818 z
" clip-path="url(#p995d3564c0)" style="stroke: #000000; stroke-width: 0.82"/>
    <path d="M 263.16 89.568 L 239.494817 95.909067 L 234.000243 87.235627 L 239.494817 95.909067 z
" clip-path="url(#p995d3564c0)" style="stroke: #000000; stroke-width: 0.82"/>
    <path d="M 275.688 89.568 L 252.022817 83.226933 L 251.601096 72.968227 L 252.022817 83.226933 L 254.980965 84.019567 L 254.770104 78.890214 L 254.980965 84.019567 z
" clip-path="url(#p995d3564c0)" style="stroke: #000000; stroke-width: 0.82"/>
    <path d="M 288.216 89.568 L 266.583784 78.065947 L 268.480578 67.975304 L 266.583784 78.065947 z
" clip-path="url(#p995d3564c0)" style="stroke: #000000; stroke-width: 0.82"/>
    <path d="M 300.744 89.568 L 278.027996 80.390138 L 278.85964 70.156504 L 278.027996 80.390138 z
" clip-path="url(#p995d3564c0)" style="stroke: #000000; stroke-width: 0.82"/>
    <path d="M 313.272 89.568 L 289.307384 84.474164 L 288.349341 74.251588 L 289.307384 84.474164 z
" clip-path="url(#p995d3564c0)" style="stroke: #000000; stroke-width: 0.82"/>
    <path d="M 325.8 89.568 L 302.634795 81.59158 L 302.929712 71.328446 L 302.634795 81.59158 z
" clip-path="url(#p995d3564c0)" style="stroke: #000000; stroke-width: 0.82"/>
    <path d="M 338.328 89.568 L 317.780571 76.224344 L 320.549605 66.337415 L 317.780571 76.224344 z
" clip-path="url(#p995d3564c0)" style="stroke: #000000; stroke-width: 0.82"/>
    <path d="M 350.856 89.568 L 331.815924 74.14965 L 335.603254 64.606326 L 331.815924 74.14965 z
" clip-path="url(#p995d3564c0)" style="stroke: #000000; stroke-width: 0.82"/>
    <path d="M 363.384 89.568 L 339.833088 82.814885 L 339.590471 72.550381 L 339.833088 82.814885 z
" clip-path="url(#p995d3564c0)" style="stroke: #000000; stroke-width: 0.82"/>
    <path d="M 375.912 89.568 L 352.068105 83.936065 L 351.340393 73.694515 L 352.068105 83.936065 z
" clip-path="url(#p995d3564c0)" style="stroke: #000000; stroke-width: 0.82"/>
    <path d="M 388.44 89.568 L 364.128637 86.533596 L 362.303478 76.42975 L 364.128637 86.533596 z
" clip-path="url(#p995d3564c0)" style="stroke: #000000; stroke-width: 0.82"/>
    <path d="M 400.968 89.568 L 376.538484 91.425085 L 372.741961 81.885415 L 376.538484 91.425085 L 379.592174 91.19295 L 377.693912 86.423114 L 379.592174 91.19295 z
" clip-path="url(#p995d3564c0)" style="stroke: #000000; stroke-width: 0.82"/>
    <path d="M 413.496 89.568 L 389.684031 95.333427 L 384.401365 86.529317 L 389.684031 95.333427 L 392.660527 94.612748 L 390.019194 90.210694 L 392.660527 94.612748 z
" clip-path="url(#p995d3564c0)" style="stroke: #000000; stroke-width: 0.82"/>
    <path d="M 426.024 89.568 L 402.070697 94.714774 L 397.017825 85.7768 L 402.070697 94.714774 L 405.06486 94.071428 L 400.011987 85.133453 L 405.06486 94.071428 z
" clip-path="url(#p995d3564c0)" style="stroke: #000000; stroke-width: 0.82"/>
    <path d="M 438.552 89.568 L 414.603091 94.735181 L 409.542605 85.801515 L 414.603091 94.735181 L 417.596705 94.089284 L 415.066462 89.622451 L 417.596705 94.089284 z
" clip-path="url(#p995d3564c0)" style="stroke: #000000; stroke-width: 0.82"/>
    <path d="M 451.08 89.568 L 426.929656 93.692425 L 422.261093 84.547841 L 426.929656 93.692425 L 429.948449 93.176872 L 425.279886 84.032288 L 429.948449 93.176872 z
" clip-path="url(#p995d3564c0)" style="stroke: #000000; stroke-width: 0.82"/>
    <path d="M 463.608 89.568 L 439.120962 90.364848 L 435.741343 80.669638 L 439.120962 90.364848 L 442.181842 90.265242 L 438.802223 80.570033 L 442.181842 90.265242 z
" clip-path="url(#p995d3564c0)" style="stroke: #000000; stroke-width: 0.82"/>
    <path d="M 476.136 89.568 L 451.714702 87.605805 L 449.446918 77.592011 L 451.714702 87.605805 L 454.767364 87.851079 L 452.49958 77.837285 L 454.767364 87.851079 z
" clip-path="url(#p995d3564c0)" style="stroke: #000000; stroke-width: 0.82"/>
    <path d="M 488.664 89.568 L 464.356412 86.503499 L 462.543764 76.397401 L 464.356412 86.503499 L 467.394861 86.886562 L 466.488536 81.833513 L 467.394861 86.886562 z
" clip-path="url(#p995d3564c0)" style="stroke: #000000; stroke-width: 0.82"/>
    <path d="M 501.192 89.568 L 476.768495 87.633469 L 474.489369 77.622251 L 476.768495 87.633469 L 479.821433 87.875285 L 478.68187 82.869676 L 479.821433 87.875285 z
" clip-path="url(#p995d3564c0)" style="stroke: #000000; stroke-width: 0.82"/>
    <path d="M 513.72 89.568 L 489.297115 87.625657 L 487.021192 77.61371 L 489.297115 87.625657 L 492.349976 87.86845 L 491.212014 82.862476 L 492.349976 87.86845 z
" clip-path="url(#p995d3564c0)" style="stroke: #000000; stroke-width: 0.82"/>
    <path d="M 526.248 89.568 L 501.801792 87.94537 L 499.395068 77.964058 L 501.801792 87.94537 L 504.857568 88.148199 L 502.450844 78.166887 L 504.857568 88.148199 z
" clip-path="url(#p995d3564c0)" style="stroke: #000000; stroke-width: 0.82"/>
    <path d="M 538.776 89.568 L 515.779243 81.118198 L 516.284569 70.86327 L 515.779243 81.118198 L 518.653837 82.174423 L 519.159163 71.919495 L 518.653837 82.174423 L 521.528432 83.230649 L 521.781095 78.103184 L 521.528432 83.230649 z
" clip-path="url(#p995d3564c0)" style="stroke: #000000; stroke-width: 0.82"/>
    <path d="M 463.608 110.448 L 440.747842 119.26067 L 434.365254 111.218191 L 440.747842 119.26067 L 443.605361 118.159087 L 440.414067 114.137847 L 443.605361 118.159087 z
" clip-path="url(#p995d3564c0)" style="stroke: #000000; stroke-width: 0.82"/>
    <path d="M 476.136 110.448 L 451.923935 114.193117 L 447.39938 104.976431 L 451.923935 114.193117 L 454.950443 113.724977 L 450.425888 104.508291 L 454.950443 113.724977 z
" clip-path="url(#p995d3564c0)" style="stroke: #000000; stroke-width: 0.82"/>
    <path d="M 488.664 110.448 L 465.189491 103.433912 L 465.060813 93.167347 L 465.189491 103.433912 L 468.123805 104.310673 L 468.059466 99.17739 L 468.123805 104.310673 z
" clip-path="url(#p995d3564c0)" style="stroke: #000000; stroke-width: 0.82"/>
    <path d="M 501.192 110.448 L 483.703878 93.289457 L 488.38128 84.149391 L 483.703878 93.289457 z
" clip-path="url(#p995d3564c0)" style="stroke: #000000; stroke-width: 0.82"/>
    <path d="M 513.72 110.448 L 492.260248 98.627295 L 494.306061 88.565807 L 492.260248 98.627295 L 494.942717 100.104883 L 495.965624 95.074139 L 494.942717 100.104883 z
" clip-path="url(#p995d3564c0)" style="stroke: #000000; stroke-width: 0.82"/>
    <path d="M 526.248 110.448 L 501.766236 111.393097 L 498.327976 101.718528 L 501.766236 111.393097 L 504.826456 111.27496 L 503.107326 106.437675 L 504.826456 111.27496 z
" clip-path="url(#p995d3564c0)" style="stroke: #000000; stroke-width: 0.82"/>
    <path d="M 551.304 89.568 L 527.215591 85.096027 L 525.993329 74.901667 L 527.215591 85.096027 L 530.226642 85.655024 L 529.00438 75.460664 L 530.226642 85.655024 z
" clip-path="url(#p995d3564c0)" style="stroke: #000000; stroke-width: 0.82"/>
    <path d="M 563.832 89.568 L 539.469739 86.973728 L 537.462166 76.904539 L 539.469739 86.973728 L 542.515022 87.298012 L 540.507448 77.228823 L 542.515022 87.298012 z
" clip-path="url(#p995d3564c0)" style="stroke: #000000; stroke-width: 0.82"/>
    <path d="M 576.36 89.568 L 552.058735 86.453758 L 550.266773 76.343971 L 552.058735 86.453758 L 555.096393 86.843038 L 553.304432 76.733252 L 555.096393 86.843038 L 558.134051 87.232318 L 557.23807 82.177425 L 558.134051 87.232318 z
" clip-path="url(#p995d3564c0)" style="stroke: #000000; stroke-width: 0.82"/>
    <path d="M 588.888 89.568 L 565.786574 81.408703 L 566.162615 71.148221 L 565.786574 81.408703 L 568.674252 82.428615 L 569.050293 72.168133 L 568.674252 82.428615 z
" clip-path="url(#p995d3564c0)" style="stroke: #000000; stroke-width: 0.82"/>
    <path d="M 538.776 110.448 L 514.550534 106.790568 L 512.985324 96.643202 L 514.550534 106.790568 L 517.578718 107.247747 L 516.013507 97.100381 L 517.578718 107.247747 z
" clip-path="url(#p995d3564c0)" style="stroke: #000000; stroke-width: 0.82"/>
    <path d="M 551.304 110.448 L 527.345939 105.32342 L 526.401013 95.099624 L 527.345939 105.32342 L 530.340697 105.963993 L 529.395771 95.740196 L 530.340697 105.963993 z
" clip-path="url(#p995d3564c0)" style="stroke: #000000; stroke-width: 0.82"/>
    <path d="M 563.832 110.448 L 539.420543 108.366947 L 537.201533 98.342232 L 539.420543 108.366947 L 542.471975 108.627078 L 540.252965 98.602364 L 542.471975 108.627078 z
" clip-path="url(#p995d3564c0)" style="stroke: #000000; stroke-width: 0.82"/>
    <path d="M 576.36 110.448 L 552.18467 106.472649 L 550.752894 96.305598 L 552.18467 106.472649 L 555.206586 106.969568 L 553.77481 96.802517 L 555.206586 106.969568 z
" clip-path="url(#p995d3564c0)" style="stroke: #000000; stroke-width: 0.82"/>
    <path d="M 588.888 110.448 L 567.021556 99.397724 L 568.708361 89.269861 L 567.021556 99.397724 L 569.754861 100.779008 L 570.598264 95.715077 L 569.754861 100.779008 z
" clip-path="url(#p995d3564c0)" style="stroke: #000000; stroke-width: 0.82"/>
    <path d="M 87.768 110.448 L 103.16339 91.389355 L 112.711272 95.16518 L 103.16339 91.389355 L 101.238966 93.771685 L 106.012907 95.659598 L 101.238966 93.771685 z
" clip-path="url(#p995d3564c0)" style="stroke: #000000; stroke-width: 0.82"/>
    <path d="M 100.296 110.448 L 114.323831 90.361438 L 124.111935 93.461751 L 114.323831 90.361438 z
" clip-path="url(#p995d3564c0)" style="stroke: #000000; stroke-width: 0.82"/>
    <path d="M 112.824 110.448 L 134.399662 98.840209 L 141.739736 106.019501 L 134.399662 98.840209 z
" clip-path="url(#p995d3564c0)" style="stroke: #000000; stroke-width: 0.82"/>
    <path d="M 125.352 110.448 L 149.634296 107.189152 L 145.081366 107.800186 L 147.250779 112.452967 L 145.081366 107.800186 z
" clip-path="url(#p995d3564c0)" style="stroke: #000000; stroke-width: 0.82"/>
    <path d="M 137.88 110.448 L 161.756461 104.95577 L 157.279625 105.985563 L 159.87035 110.417591 L 157.279625 105.985563 z
" clip-path="url(#p995d3564c0)" style="stroke: #000000; stroke-width: 0.82"/>
    <path d="M 150.408 110.448 L 169.349049 125.987842 L 165.797602 123.074121 L 163.873449 127.833571 L 165.797602 123.074121 z
" clip-path="url(#p995d3564c0)" style="stroke: #000000; stroke-width: 0.82"/>
    <path d="M 162.936 110.448 L 179.113801 128.847151 L 176.080464 125.39731 L 173.411746 129.782817 L 176.080464 125.39731 z
" clip-path="url(#p995d3564c0)" style="stroke: #000000; stroke-width: 0.82"/>
    <path d="M 275.688 110.448 L 252.122894 103.744585 L 256.541351 105.001475 L 256.409215 99.86949 L 256.541351 105.001475 z
" clip-path="url(#p995d3564c0)" style="stroke: #000000; stroke-width: 0.82"/>
    <path d="M 288.216 110.448 L 269.928673 94.1439 L 273.357547 97.200918 L 275.475409 92.524447 L 273.357547 97.200918 z
" clip-path="url(#p995d3564c0)" style="stroke: #000000; stroke-width: 0.82"/>
    <path d="M 300.744 110.448 L 285.641094 91.156752 L 288.472889 94.773861 L 291.387207 90.547577 L 288.472889 94.773861 z
" clip-path="url(#p995d3564c0)" style="stroke: #000000; stroke-width: 0.82"/>
    <path d="M 313.272 110.448 L 289.578209 104.21468 L 294.020795 105.383428 L 293.786597 100.255087 L 294.020795 105.383428 z
" clip-path="url(#p995d3564c0)" style="stroke: #000000; stroke-width: 0.82"/>
    <path d="M 325.8 110.448 L 302.098579 104.243757 L 306.542595 105.407052 L 306.302105 100.279003 L 306.542595 105.407052 z
" clip-path="url(#p995d3564c0)" style="stroke: #000000; stroke-width: 0.82"/>
    <path d="M 338.328 110.448 L 315.876111 100.641743 L 316.992128 90.435205 L 315.876111 100.641743 z
" clip-path="url(#p995d3564c0)" style="stroke: #000000; stroke-width: 0.82"/>
    <path d="M 350.856 110.448 L 332.853022 93.830455 L 337.249668 84.552071 L 332.853022 93.830455 z
" clip-path="url(#p995d3564c0)" style="stroke: #000000; stroke-width: 0.82"/>
    <path d="M 363.384 110.448 L 342.906263 96.997636 L 346.745839 99.519579 L 348.156053 94.583384 L 346.745839 99.519579 z
" clip-path="url(#p995d3564c0)" style="stroke: #000000; stroke-width: 0.82"/>
    <path d="M 375.912 110.448 L 351.998439 115.776378 L 356.482232 114.777307 L 353.921959 110.327618 L 356.482232 114.777307 z
" clip-path="url(#p995d3564c0)" style="stroke: #000000; stroke-width: 0.82"/>
    <path d="M 388.44 110.448 L 368.363983 124.490918 L 372.128236 121.857871 L 368.064901 118.72035 L 372.128236 121.857871 z
" clip-path="url(#p995d3564c0)" style="stroke: #000000; stroke-width: 0.82"/>
    <path d="M 400.968 110.448 L 379.656762 122.534402 L 372.158296 115.520707 L 379.656762 122.534402 z
" clip-path="url(#p995d3564c0)" style="stroke: #000000; stroke-width: 0.82"/>
    <path d="M 413.496 110.448 L 391.03195 120.226368 L 384.312597 112.463044 L 391.03195 120.226368 L 393.839957 119.004072 L 390.48028 115.12241 L 393.839957 119.004072 z
" clip-path="url(#p995d3564c0)" style="stroke: #000000; stroke-width: 0.82"/>
    <path d="M 426.024 110.448 L 402.805882 118.269062 L 396.775193 109.959448 L 402.805882 118.269062 L 405.708147 117.29143 L 402.692802 113.136623 L 405.708147 117.29143 z
" clip-path="url(#p995d3564c0)" style="stroke: #000000; stroke-width: 0.82"/>
    <path d="M 438.552 110.448 L 414.841947 116.619173 L 409.409721 107.906548 L 414.841947 116.619173 L 417.805703 115.847776 L 415.08959 111.491464 L 417.805703 115.847776 z
" clip-path="url(#p995d3564c0)" style="stroke: #000000; stroke-width: 0.82"/>
    <path d="M 451.08 110.448 L 427.245253 116.118522 L 421.9977 107.293438 L 427.245253 116.118522 L 430.224596 115.409707 L 427.60082 110.997165 L 430.224596 115.409707 z
" clip-path="url(#p995d3564c0)" style="stroke: #000000; stroke-width: 0.82"/>
    <path d="M 87.768 131.328 L 104.780332 113.697613 L 113.959029 118.298748 L 104.780332 113.697613 L 102.653791 115.901411 L 107.243139 118.201979 L 102.653791 115.901411 z
" clip-path="url(#p995d3564c0)" style="stroke: #000000; stroke-width: 0.82"/>
    <path d="M 100.296 131.328 L 119.633735 116.284663 L 128.068287 122.13934 L 119.633735 116.284663 z
" clip-path="url(#p995d3564c0)" style="stroke: #000000; stroke-width: 0.82"/>
    <path d="M 112.824 131.328 L 136.636002 125.562709 L 141.918618 134.366848 L 136.636002 125.562709 z
" clip-path="url(#p995d3564c0)" style="stroke: #000000; stroke-width: 0.82"/>
    <path d="M 125.352 131.328 L 149.605607 134.793911 L 145.058056 134.144053 L 145.880724 139.211393 L 145.058056 134.144053 z
" clip-path="url(#p995d3564c0)" style="stroke: #000000; stroke-width: 0.82"/>
    <path d="M 137.88 131.328 L 161.262797 138.642014 L 156.878523 137.270636 L 156.877145 142.404322 L 156.878523 137.270636 z
" clip-path="url(#p995d3564c0)" style="stroke: #000000; stroke-width: 0.82"/>
    <path d="M 150.408 131.328 L 174.485613 135.85774 L 169.971061 135.008414 L 170.569964 140.107045 L 169.971061 135.008414 z
" clip-path="url(#p995d3564c0)" style="stroke: #000000; stroke-width: 0.82"/>
    <path d="M 175.464 110.448 L 171.504095 134.625865 L 172.246577 130.092515 L 167.16351 130.811651 L 172.246577 130.092515 z
" clip-path="url(#p995d3564c0)" style="stroke: #000000; stroke-width: 0.82"/>
    <path d="M 162.936 131.328 L 186.037963 139.485774 L 185.662599 149.746282 L 186.037963 139.485774 z
" clip-path="url(#p995d3564c0)" style="stroke: #000000; stroke-width: 0.82"/>
    <path d="M 175.464 131.328 L 187.795103 152.49859 L 185.483021 148.529105 L 182.019597 152.318487 L 185.483021 148.529105 z
" clip-path="url(#p995d3564c0)" style="stroke: #000000; stroke-width: 0.82"/>
    <path d="M 87.768 152.208 L 103.004194 133.021849 L 112.583178 136.718057 L 103.004194 133.021849 z
" clip-path="url(#p995d3564c0)" style="stroke: #000000; stroke-width: 0.82"/>
    <path d="M 100.296 152.208 L 121.799159 140.466443 L 129.183676 147.600012 L 121.799159 140.466443 z
" clip-path="url(#p995d3564c0)" style="stroke: #000000; stroke-width: 0.82"/>
    <path d="M 112.824 152.208 L 137.024767 148.390555 L 141.576841 157.593682 L 137.024767 148.390555 z
" clip-path="url(#p995d3564c0)" style="stroke: #000000; stroke-width: 0.82"/>
    <path d="M 125.352 152.208 L 149.843909 152.837602 L 145.251676 152.719552 L 146.6565 157.657283 L 145.251676 152.719552 z
" clip-path="url(#p995d3564c0)" style="stroke: #000000; stroke-width: 0.82"/>
    <path d="M 137.88 152.208 L 160.512945 161.58882 L 159.589736 171.814601 L 160.512945 161.58882 z
" clip-path="url(#p995d3564c0)" style="stroke: #000000; stroke-width: 0.82"/>
    <path d="M 150.408 152.208 L 174.256826 157.819016 L 169.785171 156.766951 L 170.153519 161.887404 L 169.785171 156.766951 z
" clip-path="url(#p995d3564c0)" style="stroke: #000000; stroke-width: 0.82"/>
    <path d="M 162.936 152.208 L 185.514085 161.720102 L 184.531504 171.940349 L 185.514085 161.720102 z
" clip-path="url(#p995d3564c0)" style="stroke: #000000; stroke-width: 0.82"/>
    <path d="M 87.768 173.088 L 96.514201 150.202328 L 106.761745 150.8401 L 96.514201 150.202328 z
" clip-path="url(#p995d3564c0)" style="stroke: #000000; stroke-width: 0.82"/>
    <path d="M 187.992 110.448 L 200.486475 131.522584 L 198.143761 127.5711 L 194.709749 131.387156 L 198.143761 127.5711 z
" clip-path="url(#p995d3564c0)" style="stroke: #000000; stroke-width: 0.82"/>
    <path d="M 200.52 110.448 L 208.809624 133.502981 L 207.255319 129.180172 L 203.162425 132.279033 L 207.255319 129.180172 z
" clip-path="url(#p995d3564c0)" style="stroke: #000000; stroke-width: 0.82"/>
    <path d="M 213.048 110.448 L 212.262635 134.935409 L 212.409891 130.34402 L 207.463324 131.71741 L 212.409891 130.34402 z
" clip-path="url(#p995d3564c0)" style="stroke: #000000; stroke-width: 0.82"/>
    <path d="M 225.576 110.448 L 221.73519 134.64507 L 211.576261 136.133379 L 221.73519 134.64507 z
" clip-path="url(#p995d3564c0)" style="stroke: #000000; stroke-width: 0.82"/>
    <path d="M 238.104 110.448 L 226.663644 132.112908 L 216.567636 130.244879 L 226.663644 132.112908 z
" clip-path="url(#p995d3564c0)" style="stroke: #000000; stroke-width: 0.82"/>
    <path d="M 250.632 110.448 L 227.384793 118.18217 L 221.385225 109.850059 L 227.384793 118.18217 z
" clip-path="url(#p995d3564c0)" style="stroke: #000000; stroke-width: 0.82"/>
    <path d="M 263.16 110.448 L 238.839544 107.487356 L 236.983744 97.389094 L 238.839544 107.487356 z
" clip-path="url(#p995d3564c0)" style="stroke: #000000; stroke-width: 0.82"/>
    <path d="M 187.992 131.328 L 200.740492 152.249901 L 198.35015 148.327045 L 194.96255 152.184362 L 198.35015 148.327045 z
" clip-path="url(#p995d3564c0)" style="stroke: #000000; stroke-width: 0.82"/>
    <path d="M 200.52 131.328 L 209.495811 154.124597 L 207.812846 149.850235 L 203.814515 153.070184 L 207.812846 149.850235 z
" clip-path="url(#p995d3564c0)" style="stroke: #000000; stroke-width: 0.82"/>
    <path d="M 213.048 131.328 L 210.272689 155.670302 L 210.793059 151.10612 L 205.751142 152.072452 L 210.793059 151.10612 z
" clip-path="url(#p995d3564c0)" style="stroke: #000000; stroke-width: 0.82"/>
    <path d="M 225.576 131.328 L 220.437097 155.282993 L 210.212737 156.221806 L 220.437097 155.282993 z
" clip-path="url(#p995d3564c0)" style="stroke: #000000; stroke-width: 0.82"/>
    <path d="M 238.104 131.328 L 224.01267 151.370066 L 214.234428 148.238793 L 224.01267 151.370066 z
" clip-path="url(#p995d3564c0)" style="stroke: #000000; stroke-width: 0.82"/>
    <path d="M 250.632 131.328 L 228.109328 140.970576 L 221.436964 133.166829 L 228.109328 140.970576 z
" clip-path="url(#p995d3564c0)" style="stroke: #000000; stroke-width: 0.82"/>
    <path d="M 263.16 131.328 L 238.804399 128.671932 L 236.822376 118.597683 L 238.804399 128.671932 z
" clip-path="url(#p995d3564c0)" style="stroke: #000000; stroke-width: 0.82"/>
    <path d="M 275.688 131.328 L 252.369084 123.812805 L 256.741381 125.221904 L 256.786988 120.088421 L 256.741381 125.221904 z
" clip-path="url(#p995d3564c0)" style="stroke: #000000; stroke-width: 0.82"/>
    <path d="M 175.464 152.208 L 191.584389 170.657473 L 186.219648 179.411813 L 191.584389 170.657473 z
" clip-path="url(#p995d3564c0)" style="stroke: #000000; stroke-width: 0.82"/>
    <path d="M 187.992 152.208 L 203.085275 171.506784 L 197.252421 179.956442 L 203.085275 171.506784 z
" clip-path="url(#p995d3564c0)" style="stroke: #000000; stroke-width: 0.82"/>
    <path d="M 200.52 152.208 L 209.588775 174.967774 L 201.618462 181.440256 L 209.588775 174.967774 z
" clip-path="url(#p995d3564c0)" style="stroke: #000000; stroke-width: 0.82"/>
    <path d="M 263.16 152.208 L 238.922195 155.782744 L 234.462571 146.534465 L 238.922195 155.782744 z
" clip-path="url(#p995d3564c0)" style="stroke: #000000; stroke-width: 0.82"/>
    <path d="M 275.688 152.208 L 254.787487 139.424473 L 258.706333 141.821385 L 259.956756 136.842311 L 258.706333 141.821385 z
" clip-path="url(#p995d3564c0)" style="stroke: #000000; stroke-width: 0.82"/>
    <path d="M 288.216 131.328 L 269.334574 115.71577 L 272.874841 118.643063 L 274.817198 113.891013 L 272.874841 118.643063 z
" clip-path="url(#p995d3564c0)" style="stroke: #000000; stroke-width: 0.82"/>
    <path d="M 300.744 131.328 L 286.357689 111.496609 L 289.055122 115.214995 L 292.122256 111.098271 L 289.055122 115.214995 z
" clip-path="url(#p995d3564c0)" style="stroke: #000000; stroke-width: 0.82"/>
    <path d="M 313.272 127.653 L 312.136363 127.832867 L 311.111889 128.354863 L 310.298863 129.167889 L 309.776867 130.192363 L 309.597 131.328 L 309.776867 132.463637 L 310.298863 133.488111 L 311.111889 134.301137 L 312.136363 134.823133 L 313.272 135.003 L 314.407637 134.823133 L 315.432111 134.301137 L 316.245137 133.488111 L 316.767133 132.463637 L 316.947 131.328 L 316.767133 130.192363 L 316.245137 129.167889 L 315.432111 128.354863 L 314.407637 127.832867 L 313.272 127.653 L 313.272 127.653 L 314.407637 127.832867 L 315.432111 128.354863 L 316.245137 129.167889 L 316.767133 130.192363 L 316.947 131.328 L 316.767133 132.463637 L 316.245137 133.488111 L 315.432111 134.301137 L 314.407637 134.823133 L 313.272 135.003 L 312.136363 134.823133 L 311.111889 134.301137 L 310.298863 133.488111 L 309.776867 132.463637 L 309.597 131.328 L 309.776867 130.192363 L 310.298863 129.167889 L 311.111889 128.354863 L 312.136363 127.832867 L 313.272 127.653 z
" clip-path="url(#p995d3564c0)" style="stroke: #000000; stroke-width: 0.82"/>
    <path d="M 325.8 131.328 L 301.509482 128.13101 L 306.063954 128.730446 L 305.185195 123.67253 L 306.063954 128.730446 z
" clip-path="url(#p995d3564c0)" style="stroke: #000000; stroke-width: 0.82"/>
    <path d="M 338.328 131.328 L 315.694496 121.948528 L 319.938278 123.707179 L 320.399578 118.594261 L 319.938278 123.707179 z
" clip-path="url(#p995d3564c0)" style="stroke: #000000; stroke-width: 0.82"/>
    <path d="M 350.856 131.328 L 329.270294 119.738897 L 333.317614 121.911854 L 334.286328 116.870394 L 333.317614 121.911854 z
" clip-path="url(#p995d3564c0)" style="stroke: #000000; stroke-width: 0.82"/>
    <path d="M 363.384 131.328 L 347.068741 113.050628 L 350.127852 116.477635 L 352.763623 112.072248 L 350.127852 116.477635 z
" clip-path="url(#p995d3564c0)" style="stroke: #000000; stroke-width: 0.82"/>
    <path d="M 288.216 152.208 L 268.764137 137.31253 L 272.411361 140.105431 L 274.174714 135.284091 L 272.411361 140.105431 z
" clip-path="url(#p995d3564c0)" style="stroke: #000000; stroke-width: 0.82"/>
    <path d="M 300.744 152.208 L 280.721828 138.088417 L 284.475985 140.735839 L 286.048516 135.848931 L 284.475985 140.735839 z
" clip-path="url(#p995d3564c0)" style="stroke: #000000; stroke-width: 0.82"/>
    <path d="M 313.272 148.533 L 312.136363 148.712867 L 311.111889 149.234863 L 310.298863 150.047889 L 309.776867 151.072363 L 309.597 152.208 L 309.776867 153.343637 L 310.298863 154.368111 L 311.111889 155.181137 L 312.136363 155.703133 L 313.272 155.883 L 314.407637 155.703133 L 315.432111 155.181137 L 316.245137 154.368111 L 316.767133 153.343637 L 316.947 152.208 L 316.767133 151.072363 L 316.245137 150.047889 L 315.432111 149.234863 L 314.407637 148.712867 L 313.272 148.533 L 313.272 148.533 L 314.407637 148.712867 L 315.432111 149.234863 L 316.245137 150.047889 L 316.767133 151.072363 L 316.947 152.208 L 316.767133 153.343637 L 316.245137 154.368111 L 315.432111 155.181137 L 314.407637 155.703133 L 313.272 155.883 L 312.136363 155.703133 L 311.111889 155.181137 L 310.298863 154.368111 L 309.776867 153.343637 L 309.597 152.208 L 309.776867 151.072363 L 310.298863 150.047889 L 311.111889 149.234863 L 312.136363 148.712867 L 313.272 148.533 z
" clip-path="url(#p995d3564c0)" style="stroke: #000000; stroke-width: 0.82"/>
    <path d="M 325.8 152.208 L 301.393588 150.068593 L 305.96979 150.469732 L 304.872271 145.454736 L 305.96979 150.469732 z
" clip-path="url(#p995d3564c0)" style="stroke: #000000; stroke-width: 0.82"/>
    <path d="M 338.328 152.208 L 315.072421 144.499042 L 319.432842 145.944471 L 319.52116 140.811546 L 319.432842 145.944471 z
" clip-path="url(#p995d3564c0)" style="stroke: #000000; stroke-width: 0.82"/>
    <path d="M 350.856 152.208 L 327.904894 143.634975 L 332.208227 145.242417 L 332.488388 140.116382 L 332.208227 145.242417 z
" clip-path="url(#p995d3564c0)" style="stroke: #000000; stroke-width: 0.82"/>
    <path d="M 363.384 152.208 L 342.009185 140.234392 L 346.016963 142.479444 L 347.075758 137.45613 L 346.016963 142.479444 z
" clip-path="url(#p995d3564c0)" style="stroke: #000000; stroke-width: 0.82"/>
    <path d="M 375.912 127.653 L 374.776363 127.832867 L 373.751889 128.354863 L 372.938863 129.167889 L 372.416867 130.192363 L 372.237 131.328 L 372.416867 132.463637 L 372.938863 133.488111 L 373.751889 134.301137 L 374.776363 134.823133 L 375.912 135.003 L 377.047637 134.823133 L 378.072111 134.301137 L 378.885137 133.488111 L 379.407133 132.463637 L 379.587 131.328 L 379.407133 130.192363 L 378.885137 129.167889 L 378.072111 128.354863 L 377.047637 127.832867 L 375.912 127.653 L 375.912 127.653 L 377.047637 127.832867 L 378.072111 128.354863 L 378.885137 129.167889 L 379.407133 130.192363 L 379.587 131.328 L 379.407133 132.463637 L 378.885137 133.488111 L 378.072111 134.301137 L 377.047637 134.823133 L 375.912 135.003 L 374.776363 134.823133 L 373.751889 134.301137 L 372.938863 133.488111 L 372.416867 132.463637 L 372.237 131.328 L 372.416867 130.192363 L 372.938863 129.167889 L 373.751889 128.354863 L 374.776363 127.832867 L 375.912 127.653 z
" clip-path="url(#p995d3564c0)" style="stroke: #000000; stroke-width: 0.82"/>
    <path d="M 388.44 127.653 L 387.304363 127.832867 L 386.279889 128.354863 L 385.466863 129.167889 L 384.944867 130.192363 L 384.765 131.328 L 384.944867 132.463637 L 385.466863 133.488111 L 386.279889 134.301137 L 387.304363 134.823133 L 388.44 135.003 L 389.575637 134.823133 L 390.600111 134.301137 L 391.413137 133.488111 L 391.935133 132.463637 L 392.115 131.328 L 391.935133 130.192363 L 391.413137 129.167889 L 390.600111 128.354863 L 389.575637 127.832867 L 388.44 127.653 L 388.44 127.653 L 389.575637 127.832867 L 390.600111 128.354863 L 391.413137 129.167889 L 391.935133 130.192363 L 392.115 131.328 L 391.935133 132.463637 L 391.413137 133.488111 L 390.600111 134.301137 L 389.575637 134.823133 L 388.44 135.003 L 387.304363 134.823133 L 386.279889 134.301137 L 385.466863 133.488111 L 384.944867 132.463637 L 384.765 131.328 L 384.944867 130.192363 L 385.466863 129.167889 L 386.279889 128.354863 L 387.304363 127.832867 L 388.44 127.653 z
" clip-path="url(#p995d3564c0)" style="stroke: #000000; stroke-width: 0.82"/>
    <path d="M 400.968 131.328 L 385.43397 150.273815 L 388.3466 146.721475 L 383.586561 144.798782 L 388.3466 146.721475 z
" clip-path="url(#p995d3564c0)" style="stroke: #000000; stroke-width: 0.82"/>
    <path d="M 413.496 131.328 L 392.944529 144.66543 L 385.040623 138.11202 L 392.944529 144.66543 z
" clip-path="url(#p995d3564c0)" style="stroke: #000000; stroke-width: 0.82"/>
    <path d="M 426.024 131.328 L 403.615233 141.232402 L 396.852377 133.506946 L 403.615233 141.232402 L 406.416329 139.994352 L 403.034901 136.131624 L 406.416329 139.994352 z
" clip-path="url(#p995d3564c0)" style="stroke: #000000; stroke-width: 0.82"/>
    <path d="M 438.552 131.328 L 415.019666 138.145571 L 409.351096 129.584834 L 415.019666 138.145571 L 417.961208 137.293375 L 415.126923 133.013006 L 417.961208 137.293375 z
" clip-path="url(#p995d3564c0)" style="stroke: #000000; stroke-width: 0.82"/>
    <path d="M 451.08 131.328 L 427.241402 136.982313 L 421.999852 128.153663 L 427.241402 136.982313 L 430.221227 136.275524 L 427.600452 131.861199 L 430.221227 136.275524 z
" clip-path="url(#p995d3564c0)" style="stroke: #000000; stroke-width: 0.82"/>
    <path d="M 463.608 131.328 L 440.847849 140.395829 L 434.375698 132.425248 L 440.847849 140.395829 L 443.692868 139.262351 L 440.456793 135.27706 L 443.692868 139.262351 z
" clip-path="url(#p995d3564c0)" style="stroke: #000000; stroke-width: 0.82"/>
    <path d="M 375.912 152.208 L 356.72288 136.975545 L 360.32084 139.83163 L 362.168011 135.041778 L 360.32084 139.83163 z
" clip-path="url(#p995d3564c0)" style="stroke: #000000; stroke-width: 0.82"/>
    <path d="M 388.44 148.533 L 387.304363 148.712867 L 386.279889 149.234863 L 385.466863 150.047889 L 384.944867 151.072363 L 384.765 152.208 L 384.944867 153.343637 L 385.466863 154.368111 L 386.279889 155.181137 L 387.304363 155.703133 L 388.44 155.883 L 389.575637 155.703133 L 390.600111 155.181137 L 391.413137 154.368111 L 391.935133 153.343637 L 392.115 152.208 L 391.935133 151.072363 L 391.413137 150.047889 L 390.600111 149.234863 L 389.575637 148.712867 L 388.44 148.533 L 388.44 148.533 L 389.575637 148.712867 L 390.600111 149.234863 L 391.413137 150.047889 L 391.935133 151.072363 L 392.115 152.208 L 391.935133 153.343637 L 391.413137 154.368111 L 390.600111 155.181137 L 389.575637 155.703133 L 388.44 155.883 L 387.304363 155.703133 L 386.279889 155.181137 L 385.466863 154.368111 L 384.944867 153.343637 L 384.765 152.208 L 384.944867 151.072363 L 385.466863 150.047889 L 386.279889 149.234863 L 387.304363 148.712867 L 388.44 148.533 z
" clip-path="url(#p995d3564c0)" style="stroke: #000000; stroke-width: 0.82"/>
    <path d="M 400.968 148.533 L 399.832363 148.712867 L 398.807889 149.234863 L 397.994863 150.047889 L 397.472867 151.072363 L 397.293 152.208 L 397.472867 153.343637 L 397.994863 154.368111 L 398.807889 155.181137 L 399.832363 155.703133 L 400.968 155.883 L 402.103637 155.703133 L 403.128111 155.181137 L 403.941137 154.368111 L 404.463133 153.343637 L 404.643 152.208 L 404.463133 151.072363 L 403.941137 150.047889 L 403.128111 149.234863 L 402.103637 148.712867 L 400.968 148.533 L 400.968 148.533 L 402.103637 148.712867 L 403.128111 149.234863 L 403.941137 150.047889 L 404.463133 151.072363 L 404.643 152.208 L 404.463133 153.343637 L 403.941137 154.368111 L 403.128111 155.181137 L 402.103637 155.703133 L 400.968 155.883 L 399.832363 155.703133 L 398.807889 155.181137 L 397.994863 154.368111 L 397.472867 153.343637 L 397.293 152.208 L 397.472867 151.072363 L 397.994863 150.047889 L 398.807889 149.234863 L 399.832363 148.712867 L 400.968 148.533 z
" clip-path="url(#p995d3564c0)" style="stroke: #000000; stroke-width: 0.82"/>
    <path d="M 476.136 131.328 L 452.542771 137.931753 L 446.952116 129.319931 L 452.542771 137.931753 L 455.491925 137.106284 L 452.696597 132.800373 L 455.491925 137.106284 z
" clip-path="url(#p995d3564c0)" style="stroke: #000000; stroke-width: 0.82"/>
    <path d="M 488.664 131.328 L 464.313919 128.621792 L 462.352642 118.543484 L 464.313919 128.621792 L 467.357679 128.960068 L 466.377041 123.920914 L 467.357679 128.960068 z
" clip-path="url(#p995d3564c0)" style="stroke: #000000; stroke-width: 0.82"/>
    <path d="M 501.192 131.328 L 487.621076 110.92996 L 494.083927 102.951836 L 487.621076 110.92996 z
" clip-path="url(#p995d3564c0)" style="stroke: #000000; stroke-width: 0.82"/>
    <path d="M 513.72 131.328 L 491.292796 121.465418 L 492.434428 111.261714 L 491.292796 121.465418 L 494.096196 122.698241 L 494.667012 117.596389 L 494.096196 122.698241 z
" clip-path="url(#p995d3564c0)" style="stroke: #000000; stroke-width: 0.82"/>
    <path d="M 526.248 131.328 L 501.755195 131.921716 L 498.456108 122.198808 L 501.755195 131.921716 L 504.816796 131.847501 L 503.167252 126.986047 L 504.816796 131.847501 z
" clip-path="url(#p995d3564c0)" style="stroke: #000000; stroke-width: 0.82"/>
    <path d="M 538.776 131.328 L 514.390651 128.96056 L 512.289459 118.910491 L 514.390651 128.96056 L 517.43882 129.25649 L 515.337627 119.206421 L 517.43882 129.25649 z
" clip-path="url(#p995d3564c0)" style="stroke: #000000; stroke-width: 0.82"/>
    <path d="M 551.304 131.328 L 527.336828 126.246202 L 526.373651 116.024108 L 527.336828 126.246202 L 530.332725 126.881427 L 529.369547 116.659333 L 530.332725 126.881427 z
" clip-path="url(#p995d3564c0)" style="stroke: #000000; stroke-width: 0.82"/>
    <path d="M 488.664 152.208 L 464.319423 154.963276 L 460.17424 145.569855 L 464.319423 154.963276 L 467.362495 154.618867 L 465.289903 149.922156 L 467.362495 154.618867 z
" clip-path="url(#p995d3564c0)" style="stroke: #000000; stroke-width: 0.82"/>
    <path d="M 501.192 152.208 L 485.083559 133.748094 L 490.453967 124.997229 L 485.083559 133.748094 z
" clip-path="url(#p995d3564c0)" style="stroke: #000000; stroke-width: 0.82"/>
    <path d="M 513.72 152.208 L 489.828804 146.780223 L 489.013515 136.545273 L 489.828804 146.780223 z
" clip-path="url(#p995d3564c0)" style="stroke: #000000; stroke-width: 0.82"/>
    <path d="M 526.248 152.208 L 501.754984 152.792965 L 498.459371 143.06888 L 501.754984 152.792965 L 504.816611 152.719845 L 503.168805 147.857802 L 504.816611 152.719845 z
" clip-path="url(#p995d3564c0)" style="stroke: #000000; stroke-width: 0.82"/>
    <path d="M 538.776 152.208 L 514.54114 148.613341 L 512.949647 138.470064 L 514.54114 148.613341 L 517.570498 149.062673 L 515.979004 138.919397 L 517.570498 149.062673 z
" clip-path="url(#p995d3564c0)" style="stroke: #000000; stroke-width: 0.82"/>
    <path d="M 551.304 152.208 L 527.283524 147.384441 L 526.210388 137.173306 L 527.283524 147.384441 L 530.286083 147.987386 L 529.749515 142.881818 L 530.286083 147.987386 z
" clip-path="url(#p995d3564c0)" style="stroke: #000000; stroke-width: 0.82"/>
    <path d="M 563.832 131.328 L 539.339629 131.939373 L 536.033534 122.218846 L 539.339629 131.939373 L 542.401176 131.862951 L 539.09508 122.142424 L 542.401176 131.862951 z
" clip-path="url(#p995d3564c0)" style="stroke: #000000; stroke-width: 0.82"/>
    <path d="M 576.36 131.328 L 552.262449 126.905553 L 551.019234 116.713727 L 552.262449 126.905553 L 555.274643 127.458359 L 554.653035 122.362446 L 555.274643 127.458359 z
" clip-path="url(#p995d3564c0)" style="stroke: #000000; stroke-width: 0.82"/>
    <path d="M 588.888 131.328 L 570.166309 115.524574 L 574.147468 106.060469 L 570.166309 115.524574 L 572.50652 117.500002 L 574.4971 112.76795 L 572.50652 117.500002 z
" clip-path="url(#p995d3564c0)" style="stroke: #000000; stroke-width: 0.82"/>
    <path d="M 563.832 152.208 L 539.359934 153.377599 L 535.833086 143.734972 L 539.359934 153.377599 L 542.418942 153.231399 L 540.655518 148.410086 L 542.418942 153.231399 z
" clip-path="url(#p995d3564c0)" style="stroke: #000000; stroke-width: 0.82"/>
    <path d="M 576.36 152.208 L 552.969178 144.91969 L 552.96065 134.652323 L 552.969178 144.91969 L 555.893031 145.830729 L 555.888767 140.697045 L 555.893031 145.830729 z
" clip-path="url(#p995d3564c0)" style="stroke: #000000; stroke-width: 0.82"/>
    <path d="M 588.888 152.208 L 572.126118 134.339331 L 577.178351 125.400995 L 572.126118 134.339331 L 574.221354 136.572915 L 576.74747 132.103747 L 574.221354 136.572915 z
" clip-path="url(#p995d3564c0)" style="stroke: #000000; stroke-width: 0.82"/>
    <path d="M 100.296 173.088 L 121.033094 160.041049 L 128.844011 166.705017 L 121.033094 160.041049 z
" clip-path="url(#p995d3564c0)" style="stroke: #000000; stroke-width: 0.82"/>
    <path d="M 112.824 173.088 L 136.735084 167.748516 L 141.859762 176.645514 L 136.735084 167.748516 z
" clip-path="url(#p995d3564c0)" style="stroke: #000000; stroke-width: 0.82"/>
    <path d="M 125.352 173.088 L 149.850475 172.814611 L 153.02214 182.579827 L 149.850475 172.814611 z
" clip-path="url(#p995d3564c0)" style="stroke: #000000; stroke-width: 0.82"/>
    <path d="M 137.88 173.088 L 160.995538 181.207229 L 160.637289 191.468348 L 160.995538 181.207229 z
" clip-path="url(#p995d3564c0)" style="stroke: #000000; stroke-width: 0.82"/>
    <path d="M 150.408 173.088 L 173.892872 180.06731 L 174.036758 190.333672 L 173.892872 180.06731 z
" clip-path="url(#p995d3564c0)" style="stroke: #000000; stroke-width: 0.82"/>
    <path d="M 162.936 173.088 L 183.336838 186.654716 L 180.460257 196.510891 L 183.336838 186.654716 z
" clip-path="url(#p995d3564c0)" style="stroke: #000000; stroke-width: 0.82"/>
    <path d="M 175.464 173.088 L 190.502359 192.429607 L 184.645512 200.862651 L 190.502359 192.429607 z
" clip-path="url(#p995d3564c0)" style="stroke: #000000; stroke-width: 0.82"/>
    <path d="M 87.768 193.968 L 98.36964 171.880555 L 96.381832 176.021951 L 101.461924 176.761813 L 96.381832 176.021951 z
" clip-path="url(#p995d3564c0)" style="stroke: #000000; stroke-width: 0.82"/>
    <path d="M 100.296 193.968 L 120.397015 179.960888 L 128.512487 186.250405 L 120.397015 179.960888 z
" clip-path="url(#p995d3564c0)" style="stroke: #000000; stroke-width: 0.82"/>
    <path d="M 112.824 193.968 L 136.87565 189.302366 L 141.74836 198.339822 L 136.87565 189.302366 z
" clip-path="url(#p995d3564c0)" style="stroke: #000000; stroke-width: 0.82"/>
    <path d="M 125.352 193.968 L 149.843909 194.597602 L 152.653557 204.473066 L 149.843909 194.597602 z
" clip-path="url(#p995d3564c0)" style="stroke: #000000; stroke-width: 0.82"/>
    <path d="M 137.88 193.968 L 161.05964 201.902374 L 160.783345 212.166027 L 161.05964 201.902374 z
" clip-path="url(#p995d3564c0)" style="stroke: #000000; stroke-width: 0.82"/>
    <path d="M 150.408 193.968 L 173.50461 202.140918 L 173.122519 212.401177 L 173.50461 202.140918 z
" clip-path="url(#p995d3564c0)" style="stroke: #000000; stroke-width: 0.82"/>
    <path d="M 162.936 193.968 L 181.384946 210.088993 L 177.242667 219.483695 L 181.384946 210.088993 z
" clip-path="url(#p995d3564c0)" style="stroke: #000000; stroke-width: 0.82"/>
    <path d="M 175.464 193.968 L 187.950869 215.047091 L 181.080092 222.676726 L 187.950869 215.047091 z
" clip-path="url(#p995d3564c0)" style="stroke: #000000; stroke-width: 0.82"/>
    <path d="M 87.768 214.848 L 103.948366 196.451105 L 113.32967 200.623639 L 103.948366 196.451105 z
" clip-path="url(#p995d3564c0)" style="stroke: #000000; stroke-width: 0.82"/>
    <path d="M 213.048 152.208 L 209.726643 176.481825 L 210.349397 171.930483 L 205.287048 172.783326 L 210.349397 171.930483 z
" clip-path="url(#p995d3564c0)" style="stroke: #000000; stroke-width: 0.82"/>
    <path d="M 225.576 152.208 L 216.655262 175.026204 L 206.412888 174.310184 L 216.655262 175.026204 z
" clip-path="url(#p995d3564c0)" style="stroke: #000000; stroke-width: 0.82"/>
    <path d="M 238.104 152.208 L 219.546141 168.203495 L 210.82821 162.779788 L 219.546141 168.203495 z
" clip-path="url(#p995d3564c0)" style="stroke: #000000; stroke-width: 0.82"/>
    <path d="M 250.632 152.208 L 228.781983 163.290723 L 221.617641 155.936056 L 228.781983 163.290723 z
" clip-path="url(#p995d3564c0)" style="stroke: #000000; stroke-width: 0.82"/>
    <path d="M 187.992 173.088 L 203.202675 192.294389 L 197.421454 200.779457 L 203.202675 192.294389 z
" clip-path="url(#p995d3564c0)" style="stroke: #000000; stroke-width: 0.82"/>
    <path d="M 200.52 173.088 L 211.712531 194.881973 L 204.394008 202.083232 L 211.712531 194.881973 z
" clip-path="url(#p995d3564c0)" style="stroke: #000000; stroke-width: 0.82"/>
    <path d="M 213.048 173.088 L 212.812223 197.586865 L 202.983204 200.554913 L 212.812223 197.586865 z
" clip-path="url(#p995d3564c0)" style="stroke: #000000; stroke-width: 0.82"/>
    <path d="M 225.576 173.088 L 217.234051 196.1241 L 206.976868 195.666833 L 217.234051 196.1241 z
" clip-path="url(#p995d3564c0)" style="stroke: #000000; stroke-width: 0.82"/>
    <path d="M 238.104 173.088 L 219.537944 189.07398 L 210.822795 183.645805 L 219.537944 189.07398 z
" clip-path="url(#p995d3564c0)" style="stroke: #000000; stroke-width: 0.82"/>
    <path d="M 250.632 173.088 L 229.482503 185.455247 L 221.891918 178.541354 L 229.482503 185.455247 z
" clip-path="url(#p995d3564c0)" style="stroke: #000000; stroke-width: 0.82"/>
    <path d="M 263.16 173.088 L 240.602086 182.647838 L 233.958411 174.819652 L 240.602086 182.647838 z
" clip-path="url(#p995d3564c0)" style="stroke: #000000; stroke-width: 0.82"/>
    <path d="M 275.688 173.088 L 251.215053 174.239025 L 255.80373 174.023208 L 254.043966 169.200557 L 255.80373 174.023208 z
" clip-path="url(#p995d3564c0)" style="stroke: #000000; stroke-width: 0.82"/>
    <path d="M 187.992 193.968 L 201.29408 214.542369 L 194.727092 222.434997 L 201.29408 214.542369 z
" clip-path="url(#p995d3564c0)" style="stroke: #000000; stroke-width: 0.82"/>
    <path d="M 200.52 193.968 L 212.686803 215.233439 L 205.701478 222.75834 L 212.686803 215.233439 z
" clip-path="url(#p995d3564c0)" style="stroke: #000000; stroke-width: 0.82"/>
    <path d="M 213.048 193.968 L 215.224364 218.371144 L 205.735152 222.292083 L 215.224364 218.371144 z
" clip-path="url(#p995d3564c0)" style="stroke: #000000; stroke-width: 0.82"/>
    <path d="M 225.576 193.968 L 220.508002 217.938094 L 210.286465 218.907156 L 220.508002 217.938094 z
" clip-path="url(#p995d3564c0)" style="stroke: #000000; stroke-width: 0.82"/>
    <path d="M 238.104 193.968 L 224.340607 214.236671 L 214.512715 211.264898 L 224.340607 214.236671 z
" clip-path="url(#p995d3564c0)" style="stroke: #000000; stroke-width: 0.82"/>
    <path d="M 250.632 193.968 L 233.776444 211.748333 L 224.557367 207.228652 L 233.776444 211.748333 z
" clip-path="url(#p995d3564c0)" style="stroke: #000000; stroke-width: 0.82"/>
    <path d="M 263.16 193.968 L 247.691566 212.967409 L 238.158248 209.154961 L 247.691566 212.967409 z
" clip-path="url(#p995d3564c0)" style="stroke: #000000; stroke-width: 0.82"/>
    <path d="M 288.216 173.088 L 264.398963 178.832453 L 268.864657 177.755368 L 266.227202 173.350989 L 268.864657 177.755368 z
" clip-path="url(#p995d3564c0)" style="stroke: #000000; stroke-width: 0.82"/>
    <path d="M 300.744 173.088 L 285.383924 192.175118 L 288.263938 188.596283 L 283.48651 186.717213 L 288.263938 188.596283 z
" clip-path="url(#p995d3564c0)" style="stroke: #000000; stroke-width: 0.82"/>
    <path d="M 313.272 173.088 L 299.065348 193.048487 L 301.729095 189.305895 L 296.849082 187.712095 L 301.729095 189.305895 z
" clip-path="url(#p995d3564c0)" style="stroke: #000000; stroke-width: 0.82"/>
    <path d="M 325.8 173.088 L 302.455151 180.522248 L 306.832311 179.128327 L 303.886408 174.923997 L 306.832311 179.128327 z
" clip-path="url(#p995d3564c0)" style="stroke: #000000; stroke-width: 0.82"/>
    <path d="M 338.328 173.088 L 313.835331 172.488704 L 318.427706 172.601072 L 317.016774 167.665082 L 318.427706 172.601072 z
" clip-path="url(#p995d3564c0)" style="stroke: #000000; stroke-width: 0.82"/>
    <path d="M 350.856 173.088 L 326.46871 170.74064 L 331.041327 171.18077 L 329.986593 166.156602 L 331.041327 171.18077 z
" clip-path="url(#p995d3564c0)" style="stroke: #000000; stroke-width: 0.82"/>
    <path d="M 363.384 173.088 L 338.980133 170.919754 L 343.555858 171.3263 L 342.464266 166.310011 L 343.555858 171.3263 z
" clip-path="url(#p995d3564c0)" style="stroke: #000000; stroke-width: 0.82"/>
    <path d="M 375.912 173.088 L 351.785975 168.823625 L 356.309604 169.623195 L 355.654603 164.531467 L 356.309604 169.623195 z
" clip-path="url(#p995d3564c0)" style="stroke: #000000; stroke-width: 0.82"/>
    <path d="M 275.688 193.968 L 256.71081 209.463685 L 248.140387 203.80977 L 256.71081 209.463685 z
" clip-path="url(#p995d3564c0)" style="stroke: #000000; stroke-width: 0.82"/>
    <path d="M 288.216 193.968 L 272.606017 212.851285 L 275.532889 209.310669 L 270.780608 207.368877 L 275.532889 209.310669 z
" clip-path="url(#p995d3564c0)" style="stroke: #000000; stroke-width: 0.82"/>
    <path d="M 300.744 193.968 L 290.826839 216.371123 L 292.686307 212.170538 L 287.58586 211.587301 L 292.686307 212.170538 z
" clip-path="url(#p995d3564c0)" style="stroke: #000000; stroke-width: 0.82"/>
    <path d="M 313.272 193.968 L 302.307461 215.877561 L 304.363312 211.769519 L 299.296116 210.945958 L 304.363312 211.769519 z
" clip-path="url(#p995d3564c0)" style="stroke: #000000; stroke-width: 0.82"/>
    <path d="M 325.8 193.968 L 306.354469 208.871736 L 310.000506 206.077285 L 305.804414 203.119663 L 310.000506 206.077285 z
" clip-path="url(#p995d3564c0)" style="stroke: #000000; stroke-width: 0.82"/>
    <path d="M 338.328 193.968 L 314.764313 200.676401 L 319.182504 199.418576 L 316.368093 195.125113 L 319.182504 199.418576 z
" clip-path="url(#p995d3564c0)" style="stroke: #000000; stroke-width: 0.82"/>
    <path d="M 350.856 193.968 L 328.967556 204.974635 L 333.071639 202.910891 L 329.502285 199.221117 L 333.071639 202.910891 z
" clip-path="url(#p995d3564c0)" style="stroke: #000000; stroke-width: 0.82"/>
    <path d="M 413.496 152.208 L 397.425731 170.701146 L 388.019689 166.584682 L 397.425731 170.701146 z
" clip-path="url(#p995d3564c0)" style="stroke: #000000; stroke-width: 0.82"/>
    <path d="M 426.024 152.208 L 407.266541 167.968956 L 398.617476 162.436092 L 407.266541 167.968956 z
" clip-path="url(#p995d3564c0)" style="stroke: #000000; stroke-width: 0.82"/>
    <path d="M 438.552 152.208 L 415.474061 160.433494 L 409.299122 152.230505 L 415.474061 160.433494 L 418.358804 159.405307 L 415.271334 155.303813 L 418.358804 159.405307 z
" clip-path="url(#p995d3564c0)" style="stroke: #000000; stroke-width: 0.82"/>
    <path d="M 451.08 152.208 L 427.517373 158.920124 L 421.887195 150.334089 L 427.517373 158.920124 L 430.462701 158.081109 L 427.647612 153.788091 L 430.462701 158.081109 z
" clip-path="url(#p995d3564c0)" style="stroke: #000000; stroke-width: 0.82"/>
    <path d="M 463.608 152.208 L 441.137515 161.971569 L 434.423276 154.203821 L 441.137515 161.971569 L 443.946325 160.751123 L 440.589206 156.867249 L 443.946325 160.751123 z
" clip-path="url(#p995d3564c0)" style="stroke: #000000; stroke-width: 0.82"/>
    <path d="M 388.44 169.413 L 387.304363 169.592867 L 386.279889 170.114863 L 385.466863 170.927889 L 384.944867 171.952363 L 384.765 173.088 L 384.944867 174.223637 L 385.466863 175.248111 L 386.279889 176.061137 L 387.304363 176.583133 L 388.44 176.763 L 389.575637 176.583133 L 390.600111 176.061137 L 391.413137 175.248111 L 391.935133 174.223637 L 392.115 173.088 L 391.935133 171.952363 L 391.413137 170.927889 L 390.600111 170.114863 L 389.575637 169.592867 L 388.44 169.413 L 388.44 169.413 L 389.575637 169.592867 L 390.600111 170.114863 L 391.413137 170.927889 L 391.935133 171.952363 L 392.115 173.088 L 391.935133 174.223637 L 391.413137 175.248111 L 390.600111 176.061137 L 389.575637 176.583133 L 388.44 176.763 L 387.304363 176.583133 L 386.279889 176.061137 L 385.466863 175.248111 L 384.944867 174.223637 L 384.765 173.088 L 384.944867 171.952363 L 385.466863 170.927889 L 386.279889 170.114863 L 387.304363 169.592867 L 388.44 169.413 z
" clip-path="url(#p995d3564c0)" style="stroke: #000000; stroke-width: 0.82"/>
    <path d="M 400.968 169.413 L 399.832363 169.592867 L 398.807889 170.114863 L 397.994863 170.927889 L 397.472867 171.952363 L 397.293 173.088 L 397.472867 174.223637 L 397.994863 175.248111 L 398.807889 176.061137 L 399.832363 176.583133 L 400.968 176.763 L 402.103637 176.583133 L 403.128111 176.061137 L 403.941137 175.248111 L 404.463133 174.223637 L 404.643 173.088 L 404.463133 171.952363 L 403.941137 170.927889 L 403.128111 170.114863 L 402.103637 169.592867 L 400.968 169.413 L 400.968 169.413 L 402.103637 169.592867 L 403.128111 170.114863 L 403.941137 170.927889 L 404.463133 171.952363 L 404.643 173.088 L 404.463133 174.223637 L 403.941137 175.248111 L 403.128111 176.061137 L 402.103637 176.583133 L 400.968 176.763 L 399.832363 176.583133 L 398.807889 176.061137 L 397.994863 175.248111 L 397.472867 174.223637 L 397.293 173.088 L 397.472867 171.952363 L 397.994863 170.927889 L 398.807889 170.114863 L 399.832363 169.592867 L 400.968 169.413 z
" clip-path="url(#p995d3564c0)" style="stroke: #000000; stroke-width: 0.82"/>
    <path d="M 413.496 173.088 L 403.123679 195.284057 L 392.948716 193.909636 L 403.123679 195.284057 z
" clip-path="url(#p995d3564c0)" style="stroke: #000000; stroke-width: 0.82"/>
    <path d="M 426.024 173.088 L 411.563474 192.86534 L 401.844972 189.553297 L 411.563474 192.86534 z
" clip-path="url(#p995d3564c0)" style="stroke: #000000; stroke-width: 0.82"/>
    <path d="M 438.552 173.088 L 417.361709 185.385219 L 409.794036 178.446255 L 417.361709 185.385219 z
" clip-path="url(#p995d3564c0)" style="stroke: #000000; stroke-width: 0.82"/>
    <path d="M 451.08 173.088 L 427.82171 180.788774 L 421.834114 172.448055 L 427.82171 180.788774 L 430.728996 179.826178 L 427.735198 175.655818 L 430.728996 179.826178 z
" clip-path="url(#p995d3564c0)" style="stroke: #000000; stroke-width: 0.82"/>
    <path d="M 463.608 173.088 L 441.457922 183.55815 L 434.501102 176.006887 L 441.457922 183.55815 L 444.226682 182.249381 L 440.748272 178.47375 L 444.226682 182.249381 z
" clip-path="url(#p995d3564c0)" style="stroke: #000000; stroke-width: 0.82"/>
    <path d="M 363.384 193.968 L 340.904329 203.710401 L 345.119267 201.883701 L 341.765807 197.996667 L 345.119267 201.883701 z
" clip-path="url(#p995d3564c0)" style="stroke: #000000; stroke-width: 0.82"/>
    <path d="M 375.912 193.968 L 353.534144 203.942045 L 357.729992 202.071911 L 354.336567 198.219718 L 357.729992 202.071911 z
" clip-path="url(#p995d3564c0)" style="stroke: #000000; stroke-width: 0.82"/>
    <path d="M 388.44 193.968 L 364.025779 196.016373 L 368.603446 195.632303 L 366.667882 190.877482 L 368.603446 195.632303 z
" clip-path="url(#p995d3564c0)" style="stroke: #000000; stroke-width: 0.82"/>
    <path d="M 400.968 193.968 L 393.113466 217.174816 L 394.586191 212.823538 L 389.45392 212.703057 L 394.586191 212.823538 z
" clip-path="url(#p995d3564c0)" style="stroke: #000000; stroke-width: 0.82"/>
    <path d="M 413.496 193.968 L 405.935037 217.272116 L 395.66827 217.160746 L 405.935037 217.272116 z
" clip-path="url(#p995d3564c0)" style="stroke: #000000; stroke-width: 0.82"/>
    <path d="M 426.024 193.968 L 413.981622 215.304146 L 403.941867 213.154214 L 413.981622 215.304146 z
" clip-path="url(#p995d3564c0)" style="stroke: #000000; stroke-width: 0.82"/>
    <path d="M 438.552 193.968 L 420.405971 210.429216 L 411.553231 205.228456 L 420.405971 210.429216 z
" clip-path="url(#p995d3564c0)" style="stroke: #000000; stroke-width: 0.82"/>
    <path d="M 476.136 152.208 L 453.395423 161.324807 L 446.906128 153.368177 L 453.395423 161.324807 L 456.237995 160.185206 L 452.993348 156.206891 L 456.237995 160.185206 z
" clip-path="url(#p995d3564c0)" style="stroke: #000000; stroke-width: 0.82"/>
    <path d="M 476.136 173.088 L 453.79281 183.139461 L 446.979327 175.458618 L 453.79281 183.139461 L 456.585709 181.883028 L 453.178967 178.042607 L 456.585709 181.883028 z
" clip-path="url(#p995d3564c0)" style="stroke: #000000; stroke-width: 0.82"/>
    <path d="M 488.664 173.088 L 464.522596 177.264434 L 459.834347 168.129927 L 464.522596 177.264434 L 467.540271 176.74238 L 465.196147 172.175126 L 467.540271 176.74238 z
" clip-path="url(#p995d3564c0)" style="stroke: #000000; stroke-width: 0.82"/>
    <path d="M 501.192 173.088 L 479.07841 162.541003 L 480.53301 152.377193 L 479.07841 162.541003 z
" clip-path="url(#p995d3564c0)" style="stroke: #000000; stroke-width: 0.82"/>
    <path d="M 513.72 173.088 L 489.403625 176.081975 L 485.166488 166.729671 L 489.403625 176.081975 z
" clip-path="url(#p995d3564c0)" style="stroke: #000000; stroke-width: 0.82"/>
    <path d="M 526.248 173.088 L 501.761471 172.275652 L 499.025594 162.379497 L 501.761471 172.275652 L 504.822287 172.377196 L 503.454349 167.429118 L 504.822287 172.377196 z
" clip-path="url(#p995d3564c0)" style="stroke: #000000; stroke-width: 0.82"/>
    <path d="M 538.776 173.088 L 515.098082 166.794653 L 514.655682 156.536817 L 515.098082 166.794653 L 518.057822 167.581321 L 517.836622 162.452404 L 518.057822 167.581321 z
" clip-path="url(#p995d3564c0)" style="stroke: #000000; stroke-width: 0.82"/>
    <path d="M 551.304 173.088 L 527.336828 168.006202 L 526.373651 157.784108 L 527.336828 168.006202 L 530.332725 168.641427 L 529.851136 163.53038 L 530.332725 168.641427 z
" clip-path="url(#p995d3564c0)" style="stroke: #000000; stroke-width: 0.82"/>
    <path d="M 451.08 193.968 L 429.450639 205.475421 L 422.144 198.262104 L 429.450639 205.475421 z
" clip-path="url(#p995d3564c0)" style="stroke: #000000; stroke-width: 0.82"/>
    <path d="M 463.608 193.968 L 443.287844 207.655266 L 435.272918 201.238112 L 443.287844 207.655266 L 445.827864 205.944358 L 441.820401 202.735781 L 445.827864 205.944358 z
" clip-path="url(#p995d3564c0)" style="stroke: #000000; stroke-width: 0.82"/>
    <path d="M 476.136 193.968 L 454.787907 205.989186 L 447.310921 198.952597 L 454.787907 205.989186 L 457.456418 204.486538 L 453.717925 200.968243 L 457.456418 204.486538 z
" clip-path="url(#p995d3564c0)" style="stroke: #000000; stroke-width: 0.82"/>
    <path d="M 488.664 193.968 L 465.12041 200.746598 L 459.466023 192.176487 L 465.12041 200.746598 L 468.063359 199.899273 L 465.236165 195.614218 L 468.063359 199.899273 z
" clip-path="url(#p995d3564c0)" style="stroke: #000000; stroke-width: 0.82"/>
    <path d="M 501.192 193.968 L 476.850753 196.75255 L 472.694278 187.36412 L 476.850753 196.75255 z
" clip-path="url(#p995d3564c0)" style="stroke: #000000; stroke-width: 0.82"/>
    <path d="M 513.72 193.968 L 491.058645 203.279981 L 484.501183 195.379437 L 491.058645 203.279981 L 493.891314 202.115983 L 490.612584 198.165711 L 493.891314 202.115983 z
" clip-path="url(#p995d3564c0)" style="stroke: #000000; stroke-width: 0.82"/>
    <path d="M 526.248 193.968 L 501.755852 193.347758 L 498.94243 183.473369 L 501.755852 193.347758 L 504.817371 193.425288 L 502.003949 183.550899 L 504.817371 193.425288 z
" clip-path="url(#p995d3564c0)" style="stroke: #000000; stroke-width: 0.82"/>
    <path d="M 538.776 193.968 L 516.178539 184.502021 L 517.140248 174.279789 L 516.178539 184.502021 L 519.003222 185.685268 L 519.484076 180.574152 L 519.003222 185.685268 z
" clip-path="url(#p995d3564c0)" style="stroke: #000000; stroke-width: 0.82"/>
    <path d="M 551.304 193.968 L 528.156736 185.939666 L 528.474661 175.677218 L 528.156736 185.939666 L 531.050144 186.943207 L 531.209107 181.811984 L 531.050144 186.943207 z
" clip-path="url(#p995d3564c0)" style="stroke: #000000; stroke-width: 0.82"/>
    <path d="M 563.832 173.088 L 539.605648 169.43644 L 538.037979 159.289454 L 539.605648 169.43644 L 542.633942 169.892885 L 541.850107 164.819392 L 542.633942 169.892885 z
" clip-path="url(#p995d3564c0)" style="stroke: #000000; stroke-width: 0.82"/>
    <path d="M 576.36 173.088 L 556.116686 159.287339 L 559.106537 149.46493 L 556.116686 159.287339 z
" clip-path="url(#p995d3564c0)" style="stroke: #000000; stroke-width: 0.82"/>
    <path d="M 588.888 173.088 L 574.622036 153.169861 L 580.806046 144.973708 L 574.622036 153.169861 z
" clip-path="url(#p995d3564c0)" style="stroke: #000000; stroke-width: 0.82"/>
    <path d="M 563.832 193.968 L 543.554903 180.217025 L 546.520656 170.387314 L 543.554903 180.217025 L 546.08954 181.935897 L 547.572416 177.021041 L 546.08954 181.935897 z
" clip-path="url(#p995d3564c0)" style="stroke: #000000; stroke-width: 0.82"/>
    <path d="M 576.36 193.968 L 562.236222 173.948787 L 568.478435 165.796874 L 562.236222 173.948787 z
" clip-path="url(#p995d3564c0)" style="stroke: #000000; stroke-width: 0.82"/>
    <path d="M 588.888 193.968 L 580.329919 171.011318 L 588.442831 164.7185 L 580.329919 171.011318 z
" clip-path="url(#p995d3564c0)" style="stroke: #000000; stroke-width: 0.82"/>
    <path d="M 100.296 214.848 L 120.681415 201.25812 L 128.665544 207.713551 L 120.681415 201.25812 z
" clip-path="url(#p995d3564c0)" style="stroke: #000000; stroke-width: 0.82"/>
    <path d="M 112.824 214.848 L 137.013807 210.961709 L 141.592049 220.151845 L 137.013807 210.961709 z
" clip-path="url(#p995d3564c0)" style="stroke: #000000; stroke-width: 0.82"/>
    <path d="M 125.352 214.848 L 149.267121 220.169369 L 150.127964 230.400588 L 149.267121 220.169369 z
" clip-path="url(#p995d3564c0)" style="stroke: #000000; stroke-width: 0.82"/>
    <path d="M 137.88 214.848 L 160.315317 224.692113 L 159.182087 234.896753 L 160.315317 224.692113 z
" clip-path="url(#p995d3564c0)" style="stroke: #000000; stroke-width: 0.82"/>
    <path d="M 150.408 214.848 L 171.411709 227.461256 L 168.99187 237.439396 L 171.411709 227.461256 z
" clip-path="url(#p995d3564c0)" style="stroke: #000000; stroke-width: 0.82"/>
    <path d="M 162.936 214.848 L 177.913895 234.236467 L 172.030745 242.651184 L 177.913895 234.236467 z
" clip-path="url(#p995d3564c0)" style="stroke: #000000; stroke-width: 0.82"/>
    <path d="M 175.464 214.848 L 184.943243 237.4399 L 177.091389 244.055585 L 184.943243 237.4399 z
" clip-path="url(#p995d3564c0)" style="stroke: #000000; stroke-width: 0.82"/>
    <path d="M 87.768 235.728 L 95.928643 212.62705 L 106.189103 213.003688 L 95.928643 212.62705 z
" clip-path="url(#p995d3564c0)" style="stroke: #000000; stroke-width: 0.82"/>
    <path d="M 100.296 235.728 L 118.00414 218.796615 L 126.990211 223.763448 L 118.00414 218.796615 z
" clip-path="url(#p995d3564c0)" style="stroke: #000000; stroke-width: 0.82"/>
    <path d="M 112.824 235.728 L 136.742022 230.419685 L 141.855101 239.323355 L 136.742022 230.419685 z
" clip-path="url(#p995d3564c0)" style="stroke: #000000; stroke-width: 0.82"/>
    <path d="M 125.352 235.728 L 149.324669 240.783804 L 144.829793 239.835841 L 145.316924 244.946363 L 144.829793 239.835841 z
" clip-path="url(#p995d3564c0)" style="stroke: #000000; stroke-width: 0.82"/>
    <path d="M 137.88 235.728 L 161.094288 243.560421 L 156.741609 242.091842 L 156.626018 247.224226 L 156.741609 242.091842 z
" clip-path="url(#p995d3564c0)" style="stroke: #000000; stroke-width: 0.82"/>
    <path d="M 150.408 235.728 L 170.05378 250.366761 L 166.653999 260.054918 L 170.05378 250.366761 z
" clip-path="url(#p995d3564c0)" style="stroke: #000000; stroke-width: 0.82"/>
    <path d="M 162.936 235.728 L 173.163932 257.99096 L 165.53724 264.865003 L 173.163932 257.99096 z
" clip-path="url(#p995d3564c0)" style="stroke: #000000; stroke-width: 0.82"/>
    <path d="M 175.464 235.728 L 184.449092 258.52094 L 176.455052 264.964095 L 184.449092 258.52094 z
" clip-path="url(#p995d3564c0)" style="stroke: #000000; stroke-width: 0.82"/>
    <path d="M 87.768 256.608 L 87.768 232.108 L 97.568 229.0455 L 87.768 232.108 L 87.768 235.1705 L 92.668 233.63925 L 87.768 235.1705 z
" clip-path="url(#p995d3564c0)" style="stroke: #000000; stroke-width: 0.82"/>
    <path d="M 100.296 256.608 L 108.606753 233.560627 L 118.864546 234.004007 L 108.606753 233.560627 L 107.567909 236.441549 L 112.696806 236.663239 L 107.567909 236.441549 z
" clip-path="url(#p995d3564c0)" style="stroke: #000000; stroke-width: 0.82"/>
    <path d="M 187.992 214.848 L 196.196702 237.933339 L 187.988154 244.100887 L 196.196702 237.933339 z
" clip-path="url(#p995d3564c0)" style="stroke: #000000; stroke-width: 0.82"/>
    <path d="M 200.52 214.848 L 209.784721 237.528717 L 201.870524 244.069696 L 209.784721 237.528717 z
" clip-path="url(#p995d3564c0)" style="stroke: #000000; stroke-width: 0.82"/>
    <path d="M 213.048 214.848 L 216.364904 239.122434 L 207.069743 243.4835 L 216.364904 239.122434 z
" clip-path="url(#p995d3564c0)" style="stroke: #000000; stroke-width: 0.82"/>
    <path d="M 225.576 214.848 L 222.681815 239.176454 L 212.58866 241.059837 L 222.681815 239.176454 z
" clip-path="url(#p995d3564c0)" style="stroke: #000000; stroke-width: 0.82"/>
    <path d="M 238.104 214.848 L 232.295655 238.649536 L 222.048997 239.30139 L 232.295655 238.649536 z
" clip-path="url(#p995d3564c0)" style="stroke: #000000; stroke-width: 0.82"/>
    <path d="M 250.632 214.848 L 241.995428 237.775268 L 231.744949 237.186548 L 241.995428 237.775268 z
" clip-path="url(#p995d3564c0)" style="stroke: #000000; stroke-width: 0.82"/>
    <path d="M 263.16 214.848 L 253.732637 237.461598 L 243.508777 236.517353 L 253.732637 237.461598 z
" clip-path="url(#p995d3564c0)" style="stroke: #000000; stroke-width: 0.82"/>
    <path d="M 275.688 214.848 L 264.92602 236.857766 L 254.776866 235.304195 L 264.92602 236.857766 z
" clip-path="url(#p995d3564c0)" style="stroke: #000000; stroke-width: 0.82"/>
    <path d="M 187.992 235.728 L 188.337547 260.225563 L 178.581716 263.425977 L 188.337547 260.225563 z
" clip-path="url(#p995d3564c0)" style="stroke: #000000; stroke-width: 0.82"/>
    <path d="M 200.52 235.728 L 207.180695 259.305216 L 198.582396 264.916647 L 207.180695 259.305216 z
" clip-path="url(#p995d3564c0)" style="stroke: #000000; stroke-width: 0.82"/>
    <path d="M 213.048 235.728 L 214.151438 260.203139 L 204.499312 263.703906 L 214.151438 260.203139 z
" clip-path="url(#p995d3564c0)" style="stroke: #000000; stroke-width: 0.82"/>
    <path d="M 225.576 235.728 L 219.468036 259.454415 L 209.213974 259.977031 L 219.468036 259.454415 z
" clip-path="url(#p995d3564c0)" style="stroke: #000000; stroke-width: 0.82"/>
    <path d="M 238.104 235.728 L 234.034793 259.887709 L 223.862258 261.27999 L 234.034793 259.887709 z
" clip-path="url(#p995d3564c0)" style="stroke: #000000; stroke-width: 0.82"/>
    <path d="M 250.632 235.728 L 248.68675 260.150653 L 238.674532 262.425385 L 248.68675 260.150653 z
" clip-path="url(#p995d3564c0)" style="stroke: #000000; stroke-width: 0.82"/>
    <path d="M 263.16 235.728 L 255.452184 258.983958 L 245.186324 258.807826 L 255.452184 258.983958 z
" clip-path="url(#p995d3564c0)" style="stroke: #000000; stroke-width: 0.82"/>
    <path d="M 288.216 214.848 L 276.945806 236.601913 L 266.835467 234.813074 L 276.945806 236.601913 z
" clip-path="url(#p995d3564c0)" style="stroke: #000000; stroke-width: 0.82"/>
    <path d="M 300.744 214.848 L 291.780024 237.649253 L 281.539026 236.913819 L 291.780024 237.649253 z
" clip-path="url(#p995d3564c0)" style="stroke: #000000; stroke-width: 0.82"/>
    <path d="M 313.272 214.848 L 301.859608 236.527652 L 291.761198 234.672652 L 301.859608 236.527652 z
" clip-path="url(#p995d3564c0)" style="stroke: #000000; stroke-width: 0.82"/>
    <path d="M 325.8 214.848 L 307.739942 231.403492 L 298.860238 226.248906 L 307.739942 231.403492 z
" clip-path="url(#p995d3564c0)" style="stroke: #000000; stroke-width: 0.82"/>
    <path d="M 338.328 214.848 L 317.119114 227.11312 L 321.09578 224.81341 L 317.317201 221.338203 L 321.09578 224.81341 z
" clip-path="url(#p995d3564c0)" style="stroke: #000000; stroke-width: 0.82"/>
    <path d="M 350.856 214.848 L 334.532779 233.118262 L 337.593383 229.692588 L 332.91913 227.569835 L 337.593383 229.692588 z
" clip-path="url(#p995d3564c0)" style="stroke: #000000; stroke-width: 0.82"/>
    <path d="M 363.384 214.848 L 345.960083 232.071737 L 349.227067 228.842286 L 344.693325 226.433986 L 349.227067 228.842286 z
" clip-path="url(#p995d3564c0)" style="stroke: #000000; stroke-width: 0.82"/>
    <path d="M 275.688 235.728 L 265.425729 257.975152 L 255.244084 256.651138 L 265.425729 257.975152 z
" clip-path="url(#p995d3564c0)" style="stroke: #000000; stroke-width: 0.82"/>
    <path d="M 288.216 235.728 L 276.231637 257.096787 L 266.186077 254.97414 L 276.231637 257.096787 z
" clip-path="url(#p995d3564c0)" style="stroke: #000000; stroke-width: 0.82"/>
    <path d="M 300.744 235.728 L 290.883259 258.156013 L 280.679461 257.015219 L 290.883259 258.156013 z
" clip-path="url(#p995d3564c0)" style="stroke: #000000; stroke-width: 0.82"/>
    <path d="M 313.272 235.728 L 301.866597 257.41133 L 291.76759 255.559585 L 301.866597 257.41133 z
" clip-path="url(#p995d3564c0)" style="stroke: #000000; stroke-width: 0.82"/>
    <path d="M 325.8 235.728 L 308.513212 253.089364 L 299.407818 248.34482 L 308.513212 253.089364 z
" clip-path="url(#p995d3564c0)" style="stroke: #000000; stroke-width: 0.82"/>
    <path d="M 338.328 235.728 L 317.871981 249.211371 L 321.707485 246.683239 L 317.732309 243.434746 L 321.707485 246.683239 z
" clip-path="url(#p995d3564c0)" style="stroke: #000000; stroke-width: 0.82"/>
    <path d="M 350.856 235.728 L 335.195268 254.569217 L 338.131655 251.036489 L 333.384616 249.081919 L 338.131655 251.036489 z
" clip-path="url(#p995d3564c0)" style="stroke: #000000; stroke-width: 0.82"/>
    <path d="M 375.912 214.848 L 358.592782 232.177013 L 361.840135 228.927823 L 357.291882 226.547043 L 361.840135 228.927823 z
" clip-path="url(#p995d3564c0)" style="stroke: #000000; stroke-width: 0.82"/>
    <path d="M 388.44 214.848 L 370.574854 231.613637 L 373.924569 228.47008 L 369.45487 225.944903 L 373.924569 228.47008 z
" clip-path="url(#p995d3564c0)" style="stroke: #000000; stroke-width: 0.82"/>
    <path d="M 400.968 214.848 L 396.323478 238.903736 L 397.194326 234.393285 L 392.092896 234.967864 L 397.194326 234.393285 z
" clip-path="url(#p995d3564c0)" style="stroke: #000000; stroke-width: 0.82"/>
    <path d="M 413.496 214.848 L 407.759285 238.666902 L 397.514635 239.349579 L 407.759285 238.666902 z
" clip-path="url(#p995d3564c0)" style="stroke: #000000; stroke-width: 0.82"/>
    <path d="M 426.024 214.848 L 413.914457 236.146098 L 403.881525 233.964543 L 413.914457 236.146098 z
" clip-path="url(#p995d3564c0)" style="stroke: #000000; stroke-width: 0.82"/>
    <path d="M 438.552 214.848 L 424.210603 234.711895 L 414.47237 231.458323 L 424.210603 234.711895 z
" clip-path="url(#p995d3564c0)" style="stroke: #000000; stroke-width: 0.82"/>
    <path d="M 451.08 214.848 L 433.342072 231.748175 L 424.364761 226.765526 L 433.342072 231.748175 z
" clip-path="url(#p995d3564c0)" style="stroke: #000000; stroke-width: 0.82"/>
    <path d="M 363.384 235.728 L 356.069698 259.110707 L 357.44113 254.726449 L 352.307445 254.725008 L 357.44113 254.726449 z
" clip-path="url(#p995d3564c0)" style="stroke: #000000; stroke-width: 0.82"/>
    <path d="M 375.912 235.728 L 361.664668 255.659471 L 351.911163 252.451972 L 361.664668 255.659471 z
" clip-path="url(#p995d3564c0)" style="stroke: #000000; stroke-width: 0.82"/>
    <path d="M 388.44 235.728 L 374.922564 256.161525 L 377.457084 252.330239 L 372.525539 250.903847 L 377.457084 252.330239 z
" clip-path="url(#p995d3564c0)" style="stroke: #000000; stroke-width: 0.82"/>
    <path d="M 400.968 235.728 L 394.553203 259.373304 L 384.293232 259.763048 L 394.553203 259.373304 z
" clip-path="url(#p995d3564c0)" style="stroke: #000000; stroke-width: 0.82"/>
    <path d="M 413.496 235.728 L 407.63175 259.515824 L 397.383589 260.143602 L 407.63175 259.515824 z
" clip-path="url(#p995d3564c0)" style="stroke: #000000; stroke-width: 0.82"/>
    <path d="M 426.024 235.728 L 415.357183 257.784043 L 405.201414 256.274321 L 415.357183 257.784043 z
" clip-path="url(#p995d3564c0)" style="stroke: #000000; stroke-width: 0.82"/>
    <path d="M 438.552 235.728 L 426.789065 257.219472 L 416.72211 255.200732 L 426.789065 257.219472 z
" clip-path="url(#p995d3564c0)" style="stroke: #000000; stroke-width: 0.82"/>
    <path d="M 463.608 214.848 L 446.941718 232.805868 L 437.675285 228.384089 L 446.941718 232.805868 L 449.025003 230.561135 L 444.391787 228.350245 L 449.025003 230.561135 z
" clip-path="url(#p995d3564c0)" style="stroke: #000000; stroke-width: 0.82"/>
    <path d="M 476.136 214.848 L 457.30613 230.522374 L 448.682647 224.949722 L 457.30613 230.522374 L 459.659864 228.563077 L 455.348122 225.776751 L 459.659864 228.563077 z
" clip-path="url(#p995d3564c0)" style="stroke: #000000; stroke-width: 0.82"/>
    <path d="M 488.664 214.848 L 468.191 228.305573 L 460.248846 221.79857 L 468.191 228.305573 L 470.750125 226.623376 L 466.779048 223.369875 L 470.750125 226.623376 z
" clip-path="url(#p995d3564c0)" style="stroke: #000000; stroke-width: 0.82"/>
    <path d="M 501.192 214.848 L 480.128765 227.361598 L 472.490421 220.500503 L 480.128765 227.361598 L 482.761669 225.797398 L 478.942498 222.366851 L 482.761669 225.797398 z
" clip-path="url(#p995d3564c0)" style="stroke: #000000; stroke-width: 0.82"/>
    <path d="M 513.72 214.848 L 491.952094 226.091144 L 484.733849 218.789374 L 491.952094 226.091144 L 494.673082 224.685751 L 491.06396 221.034866 L 494.673082 224.685751 z
" clip-path="url(#p995d3564c0)" style="stroke: #000000; stroke-width: 0.82"/>
    <path d="M 526.248 214.848 L 501.950216 217.989287 L 497.656478 208.662834 L 501.950216 217.989287 L 504.987439 217.596626 L 502.84057 212.9334 L 504.987439 217.596626 z
" clip-path="url(#p995d3564c0)" style="stroke: #000000; stroke-width: 0.82"/>
    <path d="M 538.776 214.848 L 516.911431 203.794013 L 518.599955 193.666437 L 516.911431 203.794013 L 519.644502 205.175761 L 520.488764 200.111973 L 519.644502 205.175761 z
" clip-path="url(#p995d3564c0)" style="stroke: #000000; stroke-width: 0.82"/>
    <path d="M 451.08 235.728 L 438.344183 256.657619 L 428.380358 254.179495 L 438.344183 256.657619 L 439.93616 254.041417 L 434.954248 252.802355 L 439.93616 254.041417 z
" clip-path="url(#p995d3564c0)" style="stroke: #000000; stroke-width: 0.82"/>
    <path d="M 463.608 235.728 L 450.156388 256.204917 L 440.28417 253.383887 L 450.156388 256.204917 L 451.83784 253.645303 L 441.965621 250.824273 L 451.83784 253.645303 z
" clip-path="url(#p995d3564c0)" style="stroke: #000000; stroke-width: 0.82"/>
    <path d="M 476.136 235.728 L 460.002873 254.166335 L 450.610898 250.017876 L 460.002873 254.166335 L 462.019514 251.861543 L 452.627539 247.713084 L 462.019514 251.861543 z
" clip-path="url(#p995d3564c0)" style="stroke: #000000; stroke-width: 0.82"/>
    <path d="M 488.664 235.728 L 471.071049 252.779043 L 462.051513 247.873243 L 471.071049 252.779043 L 473.270168 250.647663 L 464.250632 245.741862 L 473.270168 250.647663 z
" clip-path="url(#p995d3564c0)" style="stroke: #000000; stroke-width: 0.82"/>
    <path d="M 501.192 235.728 L 483.106942 252.256179 L 474.235039 247.088178 L 483.106942 252.256179 L 485.367575 250.190156 L 476.495671 245.022156 L 485.367575 250.190156 z
" clip-path="url(#p995d3564c0)" style="stroke: #000000; stroke-width: 0.82"/>
    <path d="M 513.72 235.728 L 492.495017 247.965242 L 484.946997 241.004903 L 492.495017 247.965242 L 495.14814 246.435586 L 487.60012 239.475248 L 495.14814 246.435586 z
" clip-path="url(#p995d3564c0)" style="stroke: #000000; stroke-width: 0.82"/>
    <path d="M 526.248 235.728 L 502.415676 241.4087 L 497.164356 232.585858 L 502.415676 241.4087 L 505.394717 240.698612 L 502.769057 236.287191 L 505.394717 240.698612 z
" clip-path="url(#p995d3564c0)" style="stroke: #000000; stroke-width: 0.82"/>
    <path d="M 538.776 235.728 L 515.845267 227.100631 L 516.429873 216.849917 L 515.845267 227.100631 L 518.711609 228.179052 L 519.003912 223.053695 L 518.711609 228.179052 z
" clip-path="url(#p995d3564c0)" style="stroke: #000000; stroke-width: 0.82"/>
    <path d="M 551.304 214.848 L 532.733722 198.866925 L 536.804867 189.441179 L 532.733722 198.866925 L 535.055006 200.864559 L 539.126152 191.438814 L 535.055006 200.864559 z
" clip-path="url(#p995d3564c0)" style="stroke: #000000; stroke-width: 0.82"/>
    <path d="M 563.832 214.848 L 544.292721 200.067385 L 547.762557 190.404097 L 544.292721 200.067385 L 546.735131 201.914962 L 550.204967 192.251674 L 546.735131 201.914962 z
" clip-path="url(#p995d3564c0)" style="stroke: #000000; stroke-width: 0.82"/>
    <path d="M 576.36 214.848 L 562.901219 194.375794 L 569.407754 186.433256 L 562.901219 194.375794 L 564.583567 196.93482 L 567.836834 192.963551 L 564.583567 196.93482 z
" clip-path="url(#p995d3564c0)" style="stroke: #000000; stroke-width: 0.82"/>
    <path d="M 588.888 214.848 L 597.267494 191.825531 L 607.523918 192.29952 L 597.267494 191.825531 z
" clip-path="url(#p995d3564c0)" style="stroke: #000000; stroke-width: 0.82"/>
    <path d="M 551.304 235.728 L 534.168811 218.216995 L 539.031314 209.174044 L 534.168811 218.216995 L 536.310709 220.405871 L 541.173213 211.36292 L 536.310709 220.405871 z
" clip-path="url(#p995d3564c0)" style="stroke: #000000; stroke-width: 0.82"/>
    <path d="M 563.832 235.728 L 542.952828 222.909648 L 545.470272 212.955685 L 542.952828 222.909648 L 545.562724 224.511942 L 546.821446 219.53496 L 545.562724 224.511942 z
" clip-path="url(#p995d3564c0)" style="stroke: #000000; stroke-width: 0.82"/>
    <path d="M 576.36 235.728 L 557.015729 220.693068 L 560.611668 211.075993 L 557.015729 220.693068 z
" clip-path="url(#p995d3564c0)" style="stroke: #000000; stroke-width: 0.82"/>
    <path d="M 588.888 235.728 L 597.267494 212.705531 L 607.523918 213.17952 L 597.267494 212.705531 z
" clip-path="url(#p995d3564c0)" style="stroke: #000000; stroke-width: 0.82"/>
    <path d="M 112.824 256.608 L 133.489868 243.448521 L 129.615018 245.915923 L 133.53853 249.226629 L 129.615018 245.915923 z
" clip-path="url(#p995d3564c0)" style="stroke: #000000; stroke-width: 0.82"/>
    <path d="M 125.352 256.608 L 148.318087 248.07519 L 144.011946 249.675092 L 147.153888 253.735009 L 144.011946 249.675092 z
" clip-path="url(#p995d3564c0)" style="stroke: #000000; stroke-width: 0.82"/>
    <path d="M 137.88 256.608 L 161.846895 251.524897 L 157.353102 252.477979 L 159.867654 256.953664 L 157.353102 252.477979 z
" clip-path="url(#p995d3564c0)" style="stroke: #000000; stroke-width: 0.82"/>
    <path d="M 150.408 256.608 L 173.471862 264.872882 L 173.048892 275.131537 L 173.471862 264.872882 z
" clip-path="url(#p995d3564c0)" style="stroke: #000000; stroke-width: 0.82"/>
    <path d="M 162.936 256.608 L 169.471915 280.220112 L 160.844059 285.785992 L 169.471915 280.220112 z
" clip-path="url(#p995d3564c0)" style="stroke: #000000; stroke-width: 0.82"/>
    <path d="M 175.464 256.608 L 185.654045 278.888327 L 178.01567 285.749386 L 185.654045 278.888327 z
" clip-path="url(#p995d3564c0)" style="stroke: #000000; stroke-width: 0.82"/>
    <path d="M 87.768 277.488 L 85.632684 253.08123 L 86.033056 257.657499 L 90.780953 255.705013 L 86.033056 257.657499 z
" clip-path="url(#p995d3564c0)" style="stroke: #000000; stroke-width: 0.82"/>
    <path d="M 100.296 277.488 L 104.198762 253.300845 L 114.361469 251.838556 L 104.198762 253.300845 z
" clip-path="url(#p995d3564c0)" style="stroke: #000000; stroke-width: 0.82"/>
    <path d="M 112.824 277.488 L 131.98095 262.215107 L 128.389022 265.078774 L 132.64091 267.955608 L 128.389022 265.078774 z
" clip-path="url(#p995d3564c0)" style="stroke: #000000; stroke-width: 0.82"/>
    <path d="M 125.352 277.488 L 147.651226 267.339379 L 143.470121 269.242246 L 146.893547 273.067802 L 143.470121 269.242246 z
" clip-path="url(#p995d3564c0)" style="stroke: #000000; stroke-width: 0.82"/>
    <path d="M 137.88 277.488 L 160.966352 269.286149 L 156.637661 270.823996 L 159.720928 274.928651 L 156.637661 270.823996 z
" clip-path="url(#p995d3564c0)" style="stroke: #000000; stroke-width: 0.82"/>
    <path d="M 150.408 277.488 L 174.906278 277.197531 L 178.08475 286.960534 L 174.906278 277.197531 z
" clip-path="url(#p995d3564c0)" style="stroke: #000000; stroke-width: 0.82"/>
    <path d="M 162.936 277.488 L 180.127721 294.943507 L 175.294483 304.002134 L 180.127721 294.943507 z
" clip-path="url(#p995d3564c0)" style="stroke: #000000; stroke-width: 0.82"/>
    <path d="M 100.296 298.368 L 109.127772 275.515215 L 107.471815 279.800112 L 112.594358 280.138167 L 107.471815 279.800112 z
" clip-path="url(#p995d3564c0)" style="stroke: #000000; stroke-width: 0.82"/>
    <path d="M 187.992 256.608 L 191.824644 280.806364 L 182.624379 285.364218 L 191.824644 280.806364 z
" clip-path="url(#p995d3564c0)" style="stroke: #000000; stroke-width: 0.82"/>
    <path d="M 200.52 256.608 L 206.068825 280.471372 L 197.217079 285.673824 L 206.068825 280.471372 z
" clip-path="url(#p995d3564c0)" style="stroke: #000000; stroke-width: 0.82"/>
    <path d="M 213.048 256.608 L 214.142214 281.083553 L 204.48877 284.580683 L 214.142214 281.083553 z
" clip-path="url(#p995d3564c0)" style="stroke: #000000; stroke-width: 0.82"/>
    <path d="M 225.576 256.608 L 217.921899 279.881692 L 207.65566 279.729263 L 217.921899 279.881692 z
" clip-path="url(#p995d3564c0)" style="stroke: #000000; stroke-width: 0.82"/>
    <path d="M 238.104 256.608 L 223.013055 275.908606 L 213.406444 272.284803 L 223.013055 275.908606 z
" clip-path="url(#p995d3564c0)" style="stroke: #000000; stroke-width: 0.82"/>
    <path d="M 250.632 256.608 L 249.033654 281.055807 L 239.054738 283.472445 L 249.033654 281.055807 z
" clip-path="url(#p995d3564c0)" style="stroke: #000000; stroke-width: 0.82"/>
    <path d="M 263.16 256.608 L 257.624314 280.474424 L 247.385784 281.243452 L 257.624314 280.474424 z
" clip-path="url(#p995d3564c0)" style="stroke: #000000; stroke-width: 0.82"/>
    <path d="M 275.688 256.608 L 262.471786 277.237631 L 252.567907 274.52985 L 262.471786 277.237631 z
" clip-path="url(#p995d3564c0)" style="stroke: #000000; stroke-width: 0.82"/>
    <path d="M 175.464 277.488 L 189.475112 297.586228 L 183.18721 305.702951 L 189.475112 297.586228 z
" clip-path="url(#p995d3564c0)" style="stroke: #000000; stroke-width: 0.82"/>
    <path d="M 187.992 277.488 L 192.24638 301.61579 L 183.127062 306.333516 L 192.24638 301.61579 z
" clip-path="url(#p995d3564c0)" style="stroke: #000000; stroke-width: 0.82"/>
    <path d="M 200.52 277.488 L 205.613836 301.452616 L 196.664719 306.485728 L 205.613836 301.452616 z
" clip-path="url(#p995d3564c0)" style="stroke: #000000; stroke-width: 0.82"/>
    <path d="M 213.048 277.488 L 215.183316 301.89477 L 205.687522 305.799743 L 215.183316 301.89477 z
" clip-path="url(#p995d3564c0)" style="stroke: #000000; stroke-width: 0.82"/>
    <path d="M 225.576 277.488 L 223.440684 301.89477 L 213.411062 304.09149 L 223.440684 301.89477 z
" clip-path="url(#p995d3564c0)" style="stroke: #000000; stroke-width: 0.82"/>
    <path d="M 238.104 277.488 L 223.359532 297.05457 L 213.689845 293.602604 L 223.359532 297.05457 z
" clip-path="url(#p995d3564c0)" style="stroke: #000000; stroke-width: 0.82"/>
    <path d="M 250.632 277.488 L 247.222259 301.749568 L 237.091414 303.418367 L 247.222259 301.749568 z
" clip-path="url(#p995d3564c0)" style="stroke: #000000; stroke-width: 0.82"/>
    <path d="M 263.16 277.488 L 258.90562 301.61579 L 248.722706 302.930012 L 258.90562 301.61579 z
" clip-path="url(#p995d3564c0)" style="stroke: #000000; stroke-width: 0.82"/>
    <path d="M 288.216 256.608 L 270.384829 273.409766 L 261.435226 268.377518 L 270.384829 273.409766 z
" clip-path="url(#p995d3564c0)" style="stroke: #000000; stroke-width: 0.82"/>
    <path d="M 300.744 256.608 L 284.830674 275.236367 L 287.814423 271.743548 L 283.094166 269.725156 L 287.814423 271.743548 z
" clip-path="url(#p995d3564c0)" style="stroke: #000000; stroke-width: 0.82"/>
    <path d="M 313.272 256.608 L 299.872998 277.119381 L 289.99357 274.323702 L 299.872998 277.119381 z
" clip-path="url(#p995d3564c0)" style="stroke: #000000; stroke-width: 0.82"/>
    <path d="M 325.8 256.608 L 311.975214 276.834846 L 302.156378 273.833288 L 311.975214 276.834846 z
" clip-path="url(#p995d3564c0)" style="stroke: #000000; stroke-width: 0.82"/>
    <path d="M 338.328 256.608 L 319.502715 272.28788 L 310.877602 266.717751 L 319.502715 272.28788 z
" clip-path="url(#p995d3564c0)" style="stroke: #000000; stroke-width: 0.82"/>
    <path d="M 350.856 256.608 L 327.691782 264.587285 L 332.035073 263.091169 L 328.991452 258.957031 L 332.035073 263.091169 z
" clip-path="url(#p995d3564c0)" style="stroke: #000000; stroke-width: 0.82"/>
    <path d="M 275.688 277.488 L 262.792846 298.319826 L 252.848221 295.765743 L 262.792846 298.319826 z
" clip-path="url(#p995d3564c0)" style="stroke: #000000; stroke-width: 0.82"/>
    <path d="M 288.216 277.488 L 268.971288 292.650159 L 260.500836 286.847544 L 268.971288 292.650159 z
" clip-path="url(#p995d3564c0)" style="stroke: #000000; stroke-width: 0.82"/>
    <path d="M 300.744 277.488 L 279.55016 289.779099 L 271.98449 282.837951 L 279.55016 289.779099 z
" clip-path="url(#p995d3564c0)" style="stroke: #000000; stroke-width: 0.82"/>
    <path d="M 313.272 277.488 L 299.3854 297.672458 L 301.989137 293.887872 L 297.084333 292.372081 L 301.989137 293.887872 z
" clip-path="url(#p995d3564c0)" style="stroke: #000000; stroke-width: 0.82"/>
    <path d="M 325.8 277.488 L 315.403219 299.672611 L 317.352616 295.512996 L 312.265895 294.820178 L 317.352616 295.512996 z
" clip-path="url(#p995d3564c0)" style="stroke: #000000; stroke-width: 0.82"/>
    <path d="M 338.328 277.488 L 326.17185 298.75953 L 316.143719 296.556012 L 326.17185 298.75953 z
" clip-path="url(#p995d3564c0)" style="stroke: #000000; stroke-width: 0.82"/>
    <path d="M 350.856 277.488 L 330.603376 291.274995 L 334.400743 288.689933 L 330.377555 285.501096 L 334.400743 288.689933 z
" clip-path="url(#p995d3564c0)" style="stroke: #000000; stroke-width: 0.82"/>
    <path d="M 363.384 256.608 L 366.915524 280.85214 L 357.659309 285.295267 L 366.915524 280.85214 z
" clip-path="url(#p995d3564c0)" style="stroke: #000000; stroke-width: 0.82"/>
    <path d="M 375.912 256.608 L 369.196419 280.169642 L 358.932314 280.428614 L 369.196419 280.169642 z
" clip-path="url(#p995d3564c0)" style="stroke: #000000; stroke-width: 0.82"/>
    <path d="M 388.44 256.608 L 375.734634 277.556119 L 365.767216 275.092487 L 375.734634 277.556119 z
" clip-path="url(#p995d3564c0)" style="stroke: #000000; stroke-width: 0.82"/>
    <path d="M 400.968 256.608 L 393.932634 280.076141 L 383.665957 280.195512 L 393.932634 280.076141 L 394.812054 277.142623 L 389.678716 277.202308 L 394.812054 277.142623 z
" clip-path="url(#p995d3564c0)" style="stroke: #000000; stroke-width: 0.82"/>
    <path d="M 413.496 256.608 L 407.086864 280.254838 L 396.826986 280.647039 L 407.086864 280.254838 L 407.888006 277.298984 L 402.758067 277.495084 L 407.888006 277.298984 z
" clip-path="url(#p995d3564c0)" style="stroke: #000000; stroke-width: 0.82"/>
    <path d="M 426.024 256.608 L 420.174249 280.399394 L 409.926473 281.033418 L 420.174249 280.399394 L 420.905468 277.42547 L 415.78158 277.742482 L 420.905468 277.42547 z
" clip-path="url(#p995d3564c0)" style="stroke: #000000; stroke-width: 0.82"/>
    <path d="M 438.552 256.608 L 426.822924 278.117969 L 416.752802 276.115085 L 426.822924 278.117969 z
" clip-path="url(#p995d3564c0)" style="stroke: #000000; stroke-width: 0.82"/>
    <path d="M 451.08 256.608 L 445.095976 280.365977 L 434.844782 280.942114 L 445.095976 280.365977 L 445.843979 277.39623 L 435.592785 277.972367 L 445.843979 277.39623 z
" clip-path="url(#p995d3564c0)" style="stroke: #000000; stroke-width: 0.82"/>
    <path d="M 363.384 277.488 L 369.642801 301.175073 L 368.469276 296.733746 L 364.123037 299.465949 L 368.469276 296.733746 z
" clip-path="url(#p995d3564c0)" style="stroke: #000000; stroke-width: 0.82"/>
    <path d="M 375.912 277.488 L 382.785149 301.004161 L 381.496434 296.594881 L 377.222773 299.439271 L 381.496434 296.594881 z
" clip-path="url(#p995d3564c0)" style="stroke: #000000; stroke-width: 0.82"/>
    <path d="M 388.44 277.488 L 381.987005 301.122908 L 371.726418 301.496073 L 381.987005 301.122908 z
" clip-path="url(#p995d3564c0)" style="stroke: #000000; stroke-width: 0.82"/>
    <path d="M 400.968 277.488 L 394.609983 301.148634 L 384.350977 301.563007 L 394.609983 301.148634 z
" clip-path="url(#p995d3564c0)" style="stroke: #000000; stroke-width: 0.82"/>
    <path d="M 413.496 277.488 L 409.962773 301.731892 L 399.823562 303.349088 L 409.962773 301.731892 z
" clip-path="url(#p995d3564c0)" style="stroke: #000000; stroke-width: 0.82"/>
    <path d="M 426.024 277.488 L 424.886215 301.961566 L 414.954566 304.565648 L 424.886215 301.961566 z
" clip-path="url(#p995d3564c0)" style="stroke: #000000; stroke-width: 0.82"/>
    <path d="M 438.552 277.488 L 429.960473 300.432186 L 419.708858 299.863598 L 429.960473 300.432186 z
" clip-path="url(#p995d3564c0)" style="stroke: #000000; stroke-width: 0.82"/>
    <path d="M 463.608 256.608 L 453.463424 278.909067 L 443.274926 277.63887 L 453.463424 278.909067 L 454.731496 276.121434 L 449.637247 275.486335 L 454.731496 276.121434 z
" clip-path="url(#p995d3564c0)" style="stroke: #000000; stroke-width: 0.82"/>
    <path d="M 476.136 256.608 L 460.916416 275.80733 L 451.334236 272.119413 L 460.916416 275.80733 L 462.818864 273.407414 L 453.236684 269.719496 L 462.818864 273.407414 z
" clip-path="url(#p995d3564c0)" style="stroke: #000000; stroke-width: 0.82"/>
    <path d="M 488.664 256.608 L 471.637921 274.225112 L 462.462817 269.61682 L 471.637921 274.225112 L 473.766181 272.022973 L 464.591077 267.414681 L 473.766181 272.022973 z
" clip-path="url(#p995d3564c0)" style="stroke: #000000; stroke-width: 0.82"/>
    <path d="M 501.192 256.608 L 484.110256 274.171143 L 474.94978 269.533839 L 484.110256 274.171143 L 486.245474 271.975751 L 477.084998 267.338446 L 486.245474 271.975751 z
" clip-path="url(#p995d3564c0)" style="stroke: #000000; stroke-width: 0.82"/>
    <path d="M 513.72 256.608 L 493.139917 269.901239 L 485.250112 263.330861 L 493.139917 269.901239 L 495.712428 268.239584 L 487.822622 261.669206 L 495.712428 268.239584 z
" clip-path="url(#p995d3564c0)" style="stroke: #000000; stroke-width: 0.82"/>
    <path d="M 526.248 256.608 L 502.543074 262.798839 L 497.103623 254.090724 L 502.543074 262.798839 L 505.50619 262.024984 L 502.786464 257.670926 L 505.50619 262.024984 z
" clip-path="url(#p995d3564c0)" style="stroke: #000000; stroke-width: 0.82"/>
    <path d="M 538.776 256.608 L 514.610032 252.576131 L 513.202033 242.40576 L 514.610032 252.576131 z
" clip-path="url(#p995d3564c0)" style="stroke: #000000; stroke-width: 0.82"/>
    <path d="M 451.08 277.488 L 448.065002 301.801778 L 437.962616 303.635001 L 448.065002 301.801778 L 448.441877 298.762556 L 443.390684 299.679167 L 448.441877 298.762556 z
" clip-path="url(#p995d3564c0)" style="stroke: #000000; stroke-width: 0.82"/>
    <path d="M 463.608 277.488 L 457.671661 301.257936 L 447.421644 301.854643 L 457.671661 301.257936 L 458.413703 298.286694 L 448.163686 298.883401 L 458.413703 298.286694 z
" clip-path="url(#p995d3564c0)" style="stroke: #000000; stroke-width: 0.82"/>
    <path d="M 476.136 277.488 L 463.90554 298.716892 L 453.885176 296.478319 L 463.90554 298.716892 L 465.434347 296.06328 L 455.413983 293.824708 L 465.434347 296.06328 z
" clip-path="url(#p995d3564c0)" style="stroke: #000000; stroke-width: 0.82"/>
    <path d="M 488.664 277.488 L 472.680846 296.056489 L 463.255556 291.984289 L 472.680846 296.056489 L 474.67874 293.735428 L 465.25345 289.663228 L 474.67874 293.735428 z
" clip-path="url(#p995d3564c0)" style="stroke: #000000; stroke-width: 0.82"/>
    <path d="M 501.192 277.488 L 484.803085 295.699355 L 475.469928 291.420208 L 484.803085 295.699355 L 486.851699 293.422936 L 477.518543 289.143789 L 486.851699 293.422936 L 488.900314 291.146516 L 484.233735 289.006943 L 488.900314 291.146516 z
" clip-path="url(#p995d3564c0)" style="stroke: #000000; stroke-width: 0.82"/>
    <path d="M 513.72 277.488 L 493.506582 291.332412 L 485.44214 284.977596 L 493.506582 291.332412 L 496.033259 289.601861 L 487.968817 283.247045 L 496.033259 289.601861 z
" clip-path="url(#p995d3564c0)" style="stroke: #000000; stroke-width: 0.82"/>
    <path d="M 526.248 277.488 L 502.630986 284.006178 L 497.071588 275.374144 L 502.630986 284.006178 L 505.583113 283.191406 L 502.803414 278.875389 L 505.583113 283.191406 z
" clip-path="url(#p995d3564c0)" style="stroke: #000000; stroke-width: 0.82"/>
    <path d="M 538.776 277.488 L 514.277699 277.776522 L 511.100003 268.013267 L 514.277699 277.776522 z
" clip-path="url(#p995d3564c0)" style="stroke: #000000; stroke-width: 0.82"/>
    <path d="M 551.304 256.608 L 532.426814 240.990643 L 536.314109 231.487599 L 532.426814 240.990643 L 534.786462 242.942812 L 536.730109 238.19129 L 534.786462 242.942812 z
" clip-path="url(#p995d3564c0)" style="stroke: #000000; stroke-width: 0.82"/>
    <path d="M 563.832 256.608 L 544.292721 241.827385 L 547.762557 232.164097 L 544.292721 241.827385 z
" clip-path="url(#p995d3564c0)" style="stroke: #000000; stroke-width: 0.82"/>
    <path d="M 576.36 256.608 L 563.156603 235.970164 L 569.761312 228.109075 L 563.156603 235.970164 z
" clip-path="url(#p995d3564c0)" style="stroke: #000000; stroke-width: 0.82"/>
    <path d="M 588.888 256.608 L 597.267494 233.585531 L 607.523918 234.05952 L 597.267494 233.585531 z
" clip-path="url(#p995d3564c0)" style="stroke: #000000; stroke-width: 0.82"/>
    <path d="M 551.304 277.488 L 529.94182 265.491865 L 532.070001 255.447476 L 529.94182 265.491865 L 532.612092 266.991382 L 533.676183 261.969187 L 532.612092 266.991382 z
" clip-path="url(#p995d3564c0)" style="stroke: #000000; stroke-width: 0.82"/>
    <path d="M 563.832 277.488 L 553.121698 255.453041 L 560.596893 248.41455 L 553.121698 255.453041 z
" clip-path="url(#p995d3564c0)" style="stroke: #000000; stroke-width: 0.82"/>
    <path d="M 576.36 277.488 L 581.686948 253.574121 L 591.918368 252.715665 L 581.686948 253.574121 z
" clip-path="url(#p995d3564c0)" style="stroke: #000000; stroke-width: 0.82"/>
    <path d="M 588.888 277.488 L 597.267494 254.465531 L 607.523918 254.93952 L 597.267494 254.465531 z
" clip-path="url(#p995d3564c0)" style="stroke: #000000; stroke-width: 0.82"/>
    <path d="M 563.832 298.368 L 563.404416 273.871731 L 573.149475 270.638664 L 563.404416 273.871731 z
" clip-path="url(#p995d3564c0)" style="stroke: #000000; stroke-width: 0.82"/>
    <path d="M 87.768 294.693 L 86.632363 294.872867 L 85.607889 295.394863 L 84.794863 296.207889 L 84.272867 297.232363 L 84.093 298.368 L 84.272867 299.503637 L 84.794863 300.528111 L 85.607889 301.341137 L 86.632363 301.863133 L 87.768 302.043 L 88.903637 301.863133 L 89.928111 301.341137 L 90.741137 300.528111 L 91.263133 299.503637 L 91.443 298.368 L 91.263133 297.232363 L 90.741137 296.207889 L 89.928111 295.394863 L 88.903637 294.872867 L 87.768 294.693 L 87.768 294.693 L 88.903637 294.872867 L 89.928111 295.394863 L 90.741137 296.207889 L 91.263133 297.232363 L 91.443 298.368 L 91.263133 299.503637 L 90.741137 300.528111 L 89.928111 301.341137 L 88.903637 301.863133 L 87.768 302.043 L 86.632363 301.863133 L 85.607889 301.341137 L 84.794863 300.528111 L 84.272867 299.503637 L 84.093 298.368 L 84.272867 297.232363 L 84.794863 296.207889 L 85.607889 295.394863 L 86.632363 294.872867 L 87.768 294.693 z
" clip-path="url(#p995d3564c0)" style="stroke: #000000; stroke-width: 0.82"/>
    <path d="M 112.824 294.693 L 111.688363 294.872867 L 110.663889 295.394863 L 109.850863 296.207889 L 109.328867 297.232363 L 109.149 298.368 L 109.328867 299.503637 L 109.850863 300.528111 L 110.663889 301.341137 L 111.688363 301.863133 L 112.824 302.043 L 113.959637 301.863133 L 114.984111 301.341137 L 115.797137 300.528111 L 116.319133 299.503637 L 116.499 298.368 L 116.319133 297.232363 L 115.797137 296.207889 L 114.984111 295.394863 L 113.959637 294.872867 L 112.824 294.693 L 112.824 294.693 L 113.959637 294.872867 L 114.984111 295.394863 L 115.797137 296.207889 L 116.319133 297.232363 L 116.499 298.368 L 116.319133 299.503637 L 115.797137 300.528111 L 114.984111 301.341137 L 113.959637 301.863133 L 112.824 302.043 L 111.688363 301.863133 L 110.663889 301.341137 L 109.850863 300.528111 L 109.328867 299.503637 L 109.149 298.368 L 109.328867 297.232363 L 109.850863 296.207889 L 110.663889 295.394863 L 111.688363 294.872867 L 112.824 294.693 z
" clip-path="url(#p995d3564c0)" style="stroke: #000000; stroke-width: 0.82"/>
    <path d="M 125.352 298.368 L 148.318087 289.83519 L 144.011946 291.435092 L 147.153888 295.495009 L 144.011946 291.435092 z
" clip-path="url(#p995d3564c0)" style="stroke: #000000; stroke-width: 0.82"/>
    <path d="M 137.88 298.368 L 161.401944 291.514668 L 156.991579 292.799668 L 159.832367 297.075723 L 156.991579 292.799668 z
" clip-path="url(#p995d3564c0)" style="stroke: #000000; stroke-width: 0.82"/>
    <path d="M 150.408 298.368 L 174.908 298.368 L 170.31425 298.368 L 171.8455 303.268 L 170.31425 298.368 z
" clip-path="url(#p995d3564c0)" style="stroke: #000000; stroke-width: 0.82"/>
    <path d="M 162.936 298.368 L 184.153622 310.618 L 180.175318 308.321125 L 179.05142 313.330274 L 180.175318 308.321125 z
" clip-path="url(#p995d3564c0)" style="stroke: #000000; stroke-width: 0.82"/>
    <path d="M 175.464 298.368 L 167.084506 321.390469 L 156.828082 320.91648 L 167.084506 321.390469 z
" clip-path="url(#p995d3564c0)" style="stroke: #000000; stroke-width: 0.82"/>
    <path d="M 187.992 298.368 L 179.612506 321.390469 L 169.356082 320.91648 L 179.612506 321.390469 z
" clip-path="url(#p995d3564c0)" style="stroke: #000000; stroke-width: 0.82"/>
    <path d="M 200.52 298.368 L 192.140506 321.390469 L 181.884082 320.91648 L 192.140506 321.390469 z
" clip-path="url(#p995d3564c0)" style="stroke: #000000; stroke-width: 0.82"/>
    <path d="M 213.048 298.368 L 204.668506 321.390469 L 194.412082 320.91648 L 204.668506 321.390469 z
" clip-path="url(#p995d3564c0)" style="stroke: #000000; stroke-width: 0.82"/>
    <path d="M 225.576 298.368 L 217.196506 321.390469 L 206.940082 320.91648 L 217.196506 321.390469 z
" clip-path="url(#p995d3564c0)" style="stroke: #000000; stroke-width: 0.82"/>
    <path d="M 238.104 298.368 L 229.724506 321.390469 L 219.468082 320.91648 L 229.724506 321.390469 z
" clip-path="url(#p995d3564c0)" style="stroke: #000000; stroke-width: 0.82"/>
    <path d="M 250.632 298.368 L 242.252506 321.390469 L 231.996082 320.91648 L 242.252506 321.390469 z
" clip-path="url(#p995d3564c0)" style="stroke: #000000; stroke-width: 0.82"/>
    <path d="M 263.16 298.368 L 254.780506 321.390469 L 244.524082 320.91648 L 254.780506 321.390469 z
" clip-path="url(#p995d3564c0)" style="stroke: #000000; stroke-width: 0.82"/>
    <path d="M 275.688 298.368 L 267.308506 321.390469 L 257.052082 320.91648 L 267.308506 321.390469 z
" clip-path="url(#p995d3564c0)" style="stroke: #000000; stroke-width: 0.82"/>
    <path d="M 288.216 298.368 L 279.836506 321.390469 L 269.580082 320.91648 L 279.836506 321.390469 z
" clip-path="url(#p995d3564c0)" style="stroke: #000000; stroke-width: 0.82"/>
    <path d="M 300.744 298.368 L 292.364506 321.390469 L 282.108082 320.91648 L 292.364506 321.390469 z
" clip-path="url(#p995d3564c0)" style="stroke: #000000; stroke-width: 0.82"/>
    <path d="M 313.272 298.368 L 304.892506 321.390469 L 294.636082 320.91648 L 304.892506 321.390469 z
" clip-path="url(#p995d3564c0)" style="stroke: #000000; stroke-width: 0.82"/>
    <path d="M 325.8 298.368 L 317.420506 321.390469 L 307.164082 320.91648 L 317.420506 321.390469 z
" clip-path="url(#p995d3564c0)" style="stroke: #000000; stroke-width: 0.82"/>
    <path d="M 338.328 298.368 L 329.948506 321.390469 L 319.692082 320.91648 L 329.948506 321.390469 z
" clip-path="url(#p995d3564c0)" style="stroke: #000000; stroke-width: 0.82"/>
    <path d="M 350.856 298.368 L 342.476506 321.390469 L 332.220082 320.91648 L 342.476506 321.390469 z
" clip-path="url(#p995d3564c0)" style="stroke: #000000; stroke-width: 0.82"/>
    <path d="M 363.384 298.368 L 355.004506 321.390469 L 344.748082 320.91648 L 355.004506 321.390469 z
" clip-path="url(#p995d3564c0)" style="stroke: #000000; stroke-width: 0.82"/>
    <path d="M 375.912 298.368 L 367.532506 321.390469 L 357.276082 320.91648 L 367.532506 321.390469 z
" clip-path="url(#p995d3564c0)" style="stroke: #000000; stroke-width: 0.82"/>
    <path d="M 388.44 298.368 L 380.060506 321.390469 L 369.804082 320.91648 L 380.060506 321.390469 z
" clip-path="url(#p995d3564c0)" style="stroke: #000000; stroke-width: 0.82"/>
    <path d="M 400.968 298.368 L 392.588506 321.390469 L 382.332082 320.91648 L 392.588506 321.390469 z
" clip-path="url(#p995d3564c0)" style="stroke: #000000; stroke-width: 0.82"/>
    <path d="M 413.496 298.368 L 405.116506 321.390469 L 394.860082 320.91648 L 405.116506 321.390469 z
" clip-path="url(#p995d3564c0)" style="stroke: #000000; stroke-width: 0.82"/>
    <path d="M 426.024 298.368 L 417.644506 321.390469 L 407.388082 320.91648 L 417.644506 321.390469 z
" clip-path="url(#p995d3564c0)" style="stroke: #000000; stroke-width: 0.82"/>
    <path d="M 438.552 298.368 L 430.172506 321.390469 L 419.916082 320.91648 L 430.172506 321.390469 z
" clip-path="url(#p995d3564c0)" style="stroke: #000000; stroke-width: 0.82"/>
    <path d="M 451.08 298.368 L 442.700506 321.390469 L 432.444082 320.91648 L 442.700506 321.390469 z
" clip-path="url(#p995d3564c0)" style="stroke: #000000; stroke-width: 0.82"/>
    <path d="M 463.608 298.368 L 446.283884 315.692116 L 437.188723 310.927984 L 446.283884 315.692116 z
" clip-path="url(#p995d3564c0)" style="stroke: #000000; stroke-width: 0.82"/>
    <path d="M 476.136 298.368 L 458.811884 315.692116 L 449.716723 310.927984 L 458.811884 315.692116 z
" clip-path="url(#p995d3564c0)" style="stroke: #000000; stroke-width: 0.82"/>
    <path d="M 488.664 298.368 L 471.339884 315.692116 L 462.244723 310.927984 L 471.339884 315.692116 z
" clip-path="url(#p995d3564c0)" style="stroke: #000000; stroke-width: 0.82"/>
    <path d="M 501.192 298.368 L 483.867884 315.692116 L 474.772723 310.927984 L 483.867884 315.692116 z
" clip-path="url(#p995d3564c0)" style="stroke: #000000; stroke-width: 0.82"/>
    <path d="M 513.72 298.368 L 496.395884 315.692116 L 487.300723 310.927984 L 496.395884 315.692116 z
" clip-path="url(#p995d3564c0)" style="stroke: #000000; stroke-width: 0.82"/>
    <path d="M 526.248 298.368 L 503.082795 306.34442 L 496.996576 298.07539 L 503.082795 306.34442 z
" clip-path="url(#p995d3564c0)" style="stroke: #000000; stroke-width: 0.82"/>
    <path d="M 538.776 298.368 L 514.811384 303.461836 L 509.778272 294.512719 L 514.811384 303.461836 z
" clip-path="url(#p995d3564c0)" style="stroke: #000000; stroke-width: 0.82"/>
    <path d="M 551.304 298.368 L 527.3766 293.102118 L 526.492027 282.872923 L 527.3766 293.102118 L 530.367525 293.760353 L 529.925239 288.645755 L 530.367525 293.760353 z
" clip-path="url(#p995d3564c0)" style="stroke: #000000; stroke-width: 0.82"/>
    <path d="M 576.36 298.368 L 589.437494 277.650154 L 599.359319 280.291421 L 589.437494 277.650154 z
" clip-path="url(#p995d3564c0)" style="stroke: #000000; stroke-width: 0.82"/>
    <path d="M 588.888 298.368 L 601.138 277.150378 L 611.156299 279.398175 L 601.138 277.150378 z
" clip-path="url(#p995d3564c0)" style="stroke: #000000; stroke-width: 0.82"/>
    <path d="M 563.832 319.248 L 566.690433 294.915319 L 576.78081 293.017107 L 566.690433 294.915319 L 566.333129 297.956904 L 576.423505 296.058692 L 566.333129 297.956904 z
" clip-path="url(#p995d3564c0)" style="stroke: #000000; stroke-width: 0.82"/>
   </g>
  </g>
  <g id="axes_3">
   <g id="patch_21">
    <path d="M 88.2 390.6 L 589.32 390.6 L 589.32 329.4 L 88.2 329.4 z
" style="fill: #ffffff"/>
   </g>
   <g id="cr14">
    <path d="M 86.4 375.12 L 89.28 375.12 L 89.28 390.24 L 86.4 390.24 z
" clip-path="url(#p1e7e3396a5)" style="fill: #bfbf00"/>
   </g>
   <g id="cr15">
    <path d="M 86.4 363.6 L 89.28 363.6 L 89.28 375.12 L 86.4 375.12 z
" clip-path="url(#p1e7e3396a5)"/>
   </g>
   <g id="cr16">
    <path d="M 86.4 362.16 L 89.28 362.16 L 89.28 363.6 L 86.4 363.6 z
" clip-path="url(#p1e7e3396a5)" style="fill: #ff0000"/>
   </g>
   <g id="cr17">
    <path d="M 86.4 357.84 L 89.28 357.84 L 89.28 362.16 L 86.4 362.16 z
" clip-path="url(#p1e7e3396a5)" style="fill: #0000ff"/>
   </g>
   <g id="cr18">
    <path d="M 90.72 376.56 L 92.88 376.56 L 92.88 390.24 L 90.72 390.24 z
" clip-path="url(#p1e7e3396a5)" style="fill: #bfbf00"/>
   </g>
   <g id="cr19">
    <path d="M 90.72 365.76 L 92.88 365.76 L 92.88 376.56 L 90.72 376.56 z
" clip-path="url(#p1e7e3396a5)"/>
   </g>
   <g id="cr20">
    <path d="M 90.72 363.6 L 92.88 363.6 L 92.88 365.76 L 90.72 365.76 z
" clip-path="url(#p1e7e3396a5)" style="fill: #ff0000"/>
   </g>
   <g id="cr21">
    <path d="M 90.72 360 L 92.88 360 L 92.88 363.6 L 90.72 363.6 z
" clip-path="url(#p1e7e3396a5)" style="fill: #0000ff"/>
   </g>
   <g id="cr22">
    <path d="M 95.04 377.28 L 97.2 377.28 L 97.2 390.24 L 95.04 390.24 z
" clip-path="url(#p1e7e3396a5)" style="fill: #bfbf00"/>
   </g>
   <g id="cr23">
    <path d="M 95.04 366.48 L 97.2 366.48 L 97.2 377.28 L 95.04 377.28 z
" clip-path="url(#p1e7e3396a5)"/>
   </g>
   <g id="cr24">
    <path d="M 95.04 365.04 L 97.2 365.04 L 97.2 366.48 L 95.04 366.48 z
" clip-path="url(#p1e7e3396a5)" style="fill: #ff0000"/>
   </g>
   <g id="cr25">
    <path d="M 95.04 361.44 L 97.2 361.44 L 97.2 365.04 L 95.04 365.04 z
" clip-path="url(#p1e7e3396a5)" style="fill: #0000ff"/>
   </g>
   <g id="cr26">
    <path d="M 99.36 378 L 101.52 378 L 101.52 390.24 L 99.36 390.24 z
" clip-path="url(#p1e7e3396a5)" style="fill: #bfbf00"/>
   </g>
   <g id="cr27">
    <path d="M 99.36 367.92 L 101.52 367.92 L 101.52 378 L 99.36 378 z
" clip-path="url(#p1e7e3396a5)"/>
   </g>
   <g id="cr28">
    <path d="M 99.36 365.76 L 101.52 365.76 L 101.52 367.92 L 99.36 367.92 z
" clip-path="url(#p1e7e3396a5)" style="fill: #ff0000"/>
   </g>
   <g id="cr29">
    <path d="M 99.36 362.88 L 101.52 362.88 L 101.52 365.76 L 99.36 365.76 z
" clip-path="url(#p1e7e3396a5)" style="fill: #0000ff"/>
   </g>
   <g id="cr30">
    <path d="M 103.68 377.28 L 105.84 377.28 L 105.84 390.24 L 103.68 390.24 z
" clip-path="url(#p1e7e3396a5)" style="fill: #bfbf00"/>
   </g>
   <g id="cr31">
    <path d="M 103.68 367.2 L 105.84 367.2 L 105.84 377.28 L 103.68 377.28 z
" clip-path="url(#p1e7e3396a5)"/>
   </g>
   <g id="cr32">
    <path d="M 103.68 365.04 L 105.84 365.04 L 105.84 367.2 L 103.68 367.2 z
" clip-path="url(#p1e7e3396a5)" style="fill: #ff0000"/>
   </g>
   <g id="cr33">
    <path d="M 103.68 362.16 L 105.84 362.16 L 105.84 365.04 L 103.68 365.04 z
" clip-path="url(#p1e7e3396a5)" style="fill: #0000ff"/>
   </g>
   <g id="cr34">
    <path d="M 107.28 376.56 L 110.16 376.56 L 110.16 390.24 L 107.28 390.24 z
" clip-path="url(#p1e7e3396a5)" style="fill: #bfbf00"/>
   </g>
   <g id="cr35">
    <path d="M 107.28 365.76 L 110.16 365.76 L 110.16 376.56 L 107.28 376.56 z
" clip-path="url(#p1e7e3396a5)"/>
   </g>
   <g id="cr36">
    <path d="M 107.28 364.32 L 110.16 364.32 L 110.16 365.76 L 107.28 365.76 z
" clip-path="url(#p1e7e3396a5)" style="fill: #ff0000"/>
   </g>
   <g id="cr37">
    <path d="M 107.28 361.44 L 110.16 361.44 L 110.16 364.32 L 107.28 364.32 z
" clip-path="url(#p1e7e3396a5)" style="fill: #0000ff"/>
   </g>
   <g id="cr38">
    <path d="M 111.6 377.28 L 113.76 377.28 L 113.76 390.24 L 111.6 390.24 z
" clip-path="url(#p1e7e3396a5)" style="fill: #bfbf00"/>
   </g>
   <g id="cr39">
    <path d="M 111.6 366.48 L 113.76 366.48 L 113.76 377.28 L 111.6 377.28 z
" clip-path="url(#p1e7e3396a5)"/>
   </g>
   <g id="cr40">
    <path d="M 111.6 364.32 L 113.76 364.32 L 113.76 366.48 L 111.6 366.48 z
" clip-path="url(#p1e7e3396a5)" style="fill: #ff0000"/>
   </g>
   <g id="cr41">
    <path d="M 111.6 361.44 L 113.76 361.44 L 113.76 364.32 L 111.6 364.32 z
" clip-path="url(#p1e7e3396a5)" style="fill: #0000ff"/>
   </g>
   <g id="cr42">
    <path d="M 115.92 378 L 118.08 378 L 118.08 390.24 L 115.92 390.24 z
" clip-path="url(#p1e7e3396a5)" style="fill: #bfbf00"/>
   </g>
   <g id="cr43">
    <path d="M 115.92 367.2 L 118.08 367.2 L 118.08 378 L 115.92 378 z
" clip-path="url(#p1e7e3396a5)"/>
   </g>
   <g id="cr44">
    <path d="M 115.92 365.76 L 118.08 365.76 L 118.08 367.2 L 115.92 367.2 z
" clip-path="url(#p1e7e3396a5)" style="fill: #ff0000"/>
   </g>
   <g id="cr45">
    <path d="M 115.92 362.88 L 118.08 362.88 L 118.08 365.76 L 115.92 365.76 z
" clip-path="url(#p1e7e3396a5)" style="fill: #0000ff"/>
   </g>
   <g id="cr46">
    <path d="M 120.24 378.72 L 122.4 378.72 L 122.4 390.24 L 120.24 390.24 z
" clip-path="url(#p1e7e3396a5)" style="fill: #bfbf00"/>
   </g>
   <g id="cr47">
    <path d="M 120.24 368.64 L 122.4 368.64 L 122.4 378.72 L 120.24 378.72 z
" clip-path="url(#p1e7e3396a5)"/>
   </g>
   <g id="cr48">
    <path d="M 120.24 366.48 L 122.4 366.48 L 122.4 368.64 L 120.24 368.64 z
" clip-path="url(#p1e7e3396a5)" style="fill: #ff0000"/>
   </g>
   <g id="cr49">
    <path d="M 120.24 364.32 L 122.4 364.32 L 122.4 366.48 L 120.24 366.48 z
" clip-path="url(#p1e7e3396a5)" style="fill: #0000ff"/>
   </g>
   <g id="cr50">
    <path d="M 124.56 378.72 L 126.72 378.72 L 126.72 390.24 L 124.56 390.24 z
" clip-path="url(#p1e7e3396a5)" style="fill: #bfbf00"/>
   </g>
   <g id="cr51">
    <path d="M 124.56 369.36 L 126.72 369.36 L 126.72 378.72 L 124.56 378.72 z
" clip-path="url(#p1e7e3396a5)"/>
   </g>
   <g id="cr52">
    <path d="M 124.56 367.2 L 126.72 367.2 L 126.72 369.36 L 124.56 369.36 z
" clip-path="url(#p1e7e3396a5)" style="fill: #ff0000"/>
   </g>
   <g id="cr53">
    <path d="M 124.56 365.04 L 126.72 365.04 L 126.72 367.2 L 124.56 367.2 z
" clip-path="url(#p1e7e3396a5)" style="fill: #0000ff"/>
   </g>
   <g id="cr54">
    <path d="M 128.16 379.44 L 131.04 379.44 L 131.04 390.24 L 128.16 390.24 z
" clip-path="url(#p1e7e3396a5)" style="fill: #bfbf00"/>
   </g>
   <g id="cr55">
    <path d="M 128.16 369.36 L 131.04 369.36 L 131.04 379.44 L 128.16 379.44 z
" clip-path="url(#p1e7e3396a5)"/>
   </g>
   <g id="cr56">
    <path d="M 128.16 367.92 L 131.04 367.92 L 131.04 369.36 L 128.16 369.36 z
" clip-path="url(#p1e7e3396a5)" style="fill: #ff0000"/>
   </g>
   <g id="cr57">
    <path d="M 128.16 365.04 L 131.04 365.04 L 131.04 367.92 L 128.16 367.92 z
" clip-path="url(#p1e7e3396a5)" style="fill: #0000ff"/>
   </g>
   <g id="cr58">
    <path d="M 132.48 379.44 L 134.64 379.44 L 134.64 390.24 L 132.48 390.24 z
" clip-path="url(#p1e7e3396a5)" style="fill: #bfbf00"/>
   </g>
   <g id="cr59">
    <path d="M 132.48 370.08 L 134.64 370.08 L 134.64 379.44 L 132.48 379.44 z
" clip-path="url(#p1e7e3396a5)"/>
   </g>
   <g id="cr60">
    <path d="M 132.48 367.92 L 134.64 367.92 L 134.64 370.08 L 132.48 370.08 z
" clip-path="url(#p1e7e3396a5)" style="fill: #ff0000"/>
   </g>
   <g id="cr61">
    <path d="M 132.48 365.76 L 134.64 365.76 L 134.64 367.92 L 132.48 367.92 z
" clip-path="url(#p1e7e3396a5)" style="fill: #0000ff"/>
   </g>
   <g id="cr62">
    <path d="M 136.8 378.72 L 138.96 378.72 L 138.96 390.24 L 136.8 390.24 z
" clip-path="url(#p1e7e3396a5)" style="fill: #bfbf00"/>
   </g>
   <g id="cr63">
    <path d="M 136.8 369.36 L 138.96 369.36 L 138.96 378.72 L 136.8 378.72 z
" clip-path="url(#p1e7e3396a5)"/>
   </g>
   <g id="cr64">
    <path d="M 136.8 367.2 L 138.96 367.2 L 138.96 369.36 L 136.8 369.36 z
" clip-path="url(#p1e7e3396a5)" style="fill: #ff0000"/>
   </g>
   <g id="cr65">
    <path d="M 136.8 365.04 L 138.96 365.04 L 138.96 367.2 L 136.8 367.2 z
" clip-path="url(#p1e7e3396a5)" style="fill: #0000ff"/>
   </g>
   <g id="cr66">
    <path d="M 141.12 378.72 L 143.28 378.72 L 143.28 390.24 L 141.12 390.24 z
" clip-path="url(#p1e7e3396a5)" style="fill: #bfbf00"/>
   </g>
   <g id="cr67">
    <path d="M 141.12 367.2 L 143.28 367.2 L 143.28 378.72 L 141.12 378.72 z
" clip-path="url(#p1e7e3396a5)"/>
   </g>
   <g id="cr68">
    <path d="M 141.12 365.04 L 143.28 365.04 L 143.28 367.2 L 141.12 367.2 z
" clip-path="url(#p1e7e3396a5)" style="fill: #ff0000"/>
   </g>
   <g id="cr69">
    <path d="M 141.12 362.88 L 143.28 362.88 L 143.28 365.04 L 141.12 365.04 z
" clip-path="url(#p1e7e3396a5)" style="fill: #0000ff"/>
   </g>
   <g id="cr70">
    <path d="M 145.44 378.72 L 147.6 378.72 L 147.6 390.24 L 145.44 390.24 z
" clip-path="url(#p1e7e3396a5)" style="fill: #bfbf00"/>
   </g>
   <g id="cr71">
    <path d="M 145.44 366.48 L 147.6 366.48 L 147.6 378.72 L 145.44 378.72 z
" clip-path="url(#p1e7e3396a5)"/>
   </g>
   <g id="cr72">
    <path d="M 145.44 365.04 L 147.6 365.04 L 147.6 366.48 L 145.44 366.48 z
" clip-path="url(#p1e7e3396a5)" style="fill: #ff0000"/>
   </g>
   <g id="cr73">
    <path d="M 145.44 362.88 L 147.6 362.88 L 147.6 365.04 L 145.44 365.04 z
" clip-path="url(#p1e7e3396a5)" style="fill: #0000ff"/>
   </g>
   <g id="cr74">
    <path d="M 149.04 380.16 L 151.92 380.16 L 151.92 390.24 L 149.04 390.24 z
" clip-path="url(#p1e7e3396a5)" style="fill: #bfbf00"/>
   </g>
   <g id="cr75">
    <path d="M 149.04 369.36 L 151.92 369.36 L 151.92 380.16 L 149.04 380.16 z
" clip-path="url(#p1e7e3396a5)"/>
   </g>
   <g id="cr76">
    <path d="M 149.04 367.92 L 151.92 367.92 L 151.92 369.36 L 149.04 369.36 z
" clip-path="url(#p1e7e3396a5)" style="fill: #ff0000"/>
   </g>
   <g id="cr77">
    <path d="M 149.04 365.76 L 151.92 365.76 L 151.92 367.92 L 149.04 367.92 z
" clip-path="url(#p1e7e3396a5)" style="fill: #0000ff"/>
   </g>
   <g id="cr78">
    <path d="M 153.36 380.88 L 155.52 380.88 L 155.52 390.24 L 153.36 390.24 z
" clip-path="url(#p1e7e3396a5)" style="fill: #bfbf00"/>
   </g>
   <g id="cr79">
    <path d="M 153.36 371.52 L 155.52 371.52 L 155.52 380.88 L 153.36 380.88 z
" clip-path="url(#p1e7e3396a5)"/>
   </g>
   <g id="cr80">
    <path d="M 153.36 369.36 L 155.52 369.36 L 155.52 371.52 L 153.36 371.52 z
" clip-path="url(#p1e7e3396a5)" style="fill: #ff0000"/>
   </g>
   <g id="cr81">
    <path d="M 153.36 367.2 L 155.52 367.2 L 155.52 369.36 L 153.36 369.36 z
" clip-path="url(#p1e7e3396a5)" style="fill: #0000ff"/>
   </g>
   <g id="cr82">
    <path d="M 157.68 380.88 L 159.84 380.88 L 159.84 390.24 L 157.68 390.24 z
" clip-path="url(#p1e7e3396a5)" style="fill: #bfbf00"/>
   </g>
   <g id="cr83">
    <path d="M 157.68 370.8 L 159.84 370.8 L 159.84 380.88 L 157.68 380.88 z
" clip-path="url(#p1e7e3396a5)"/>
   </g>
   <g id="cr84">
    <path d="M 157.68 369.36 L 159.84 369.36 L 159.84 370.8 L 157.68 370.8 z
" clip-path="url(#p1e7e3396a5)" style="fill: #ff0000"/>
   </g>
   <g id="cr85">
    <path d="M 157.68 367.2 L 159.84 367.2 L 159.84 369.36 L 157.68 369.36 z
" clip-path="url(#p1e7e3396a5)" style="fill: #0000ff"/>
   </g>
   <g id="cr86">
    <path d="M 162 380.88 L 164.16 380.88 L 164.16 390.24 L 162 390.24 z
" clip-path="url(#p1e7e3396a5)" style="fill: #bfbf00"/>
   </g>
   <g id="cr87">
    <path d="M 162 369.36 L 164.16 369.36 L 164.16 380.88 L 162 380.88 z
" clip-path="url(#p1e7e3396a5)"/>
   </g>
   <g id="cr88">
    <path d="M 162 367.92 L 164.16 367.92 L 164.16 369.36 L 162 369.36 z
" clip-path="url(#p1e7e3396a5)" style="fill: #ff0000"/>
   </g>
   <g id="cr89">
    <path d="M 162 365.76 L 164.16 365.76 L 164.16 367.92 L 162 367.92 z
" clip-path="url(#p1e7e3396a5)" style="fill: #0000ff"/>
   </g>
   <g id="cr90">
    <path d="M 166.32 380.88 L 168.48 380.88 L 168.48 390.24 L 166.32 390.24 z
" clip-path="url(#p1e7e3396a5)" style="fill: #bfbf00"/>
   </g>
   <g id="cr91">
    <path d="M 166.32 367.2 L 168.48 367.2 L 168.48 380.88 L 166.32 380.88 z
" clip-path="url(#p1e7e3396a5)"/>
   </g>
   <g id="cr92">
    <path d="M 166.32 365.04 L 168.48 365.04 L 168.48 367.2 L 166.32 367.2 z
" clip-path="url(#p1e7e3396a5)" style="fill: #ff0000"/>
   </g>
   <g id="cr93">
    <path d="M 166.32 362.88 L 168.48 362.88 L 168.48 365.04 L 166.32 365.04 z
" clip-path="url(#p1e7e3396a5)" style="fill: #0000ff"/>
   </g>
   <g id="cr94">
    <path d="M 169.92 380.88 L 172.8 380.88 L 172.8 390.24 L 169.92 390.24 z
" clip-path="url(#p1e7e3396a5)" style="fill: #bfbf00"/>
   </g>
   <g id="cr95">
    <path d="M 169.92 365.04 L 172.8 365.04 L 172.8 380.88 L 169.92 380.88 z
" clip-path="url(#p1e7e3396a5)"/>
   </g>
   <g id="cr96">
    <path d="M 169.92 363.6 L 172.8 363.6 L 172.8 365.04 L 169.92 365.04 z
" clip-path="url(#p1e7e3396a5)" style="fill: #ff0000"/>
   </g>
   <g id="cr97">
    <path d="M 169.92 361.44 L 172.8 361.44 L 172.8 363.6 L 169.92 363.6 z
" clip-path="url(#p1e7e3396a5)" style="fill: #0000ff"/>
   </g>
   <g id="cr98">
    <path d="M 174.24 381.6 L 176.4 381.6 L 176.4 390.24 L 174.24 390.24 z
" clip-path="url(#p1e7e3396a5)" style="fill: #bfbf00"/>
   </g>
   <g id="cr99">
    <path d="M 174.24 367.2 L 176.4 367.2 L 176.4 381.6 L 174.24 381.6 z
" clip-path="url(#p1e7e3396a5)"/>
   </g>
   <g id="cr100">
    <path d="M 174.24 365.76 L 176.4 365.76 L 176.4 367.2 L 174.24 367.2 z
" clip-path="url(#p1e7e3396a5)" style="fill: #ff0000"/>
   </g>
   <g id="cr101">
    <path d="M 174.24 362.88 L 176.4 362.88 L 176.4 365.76 L 174.24 365.76 z
" clip-path="url(#p1e7e3396a5)" style="fill: #0000ff"/>
   </g>
   <g id="cr102">
    <path d="M 178.56 382.32 L 180.72 382.32 L 180.72 390.24 L 178.56 390.24 z
" clip-path="url(#p1e7e3396a5)" style="fill: #bfbf00"/>
   </g>
   <g id="cr103">
    <path d="M 178.56 371.52 L 180.72 371.52 L 180.72 382.32 L 178.56 382.32 z
" clip-path="url(#p1e7e3396a5)"/>
   </g>
   <g id="cr104">
    <path d="M 178.56 370.08 L 180.72 370.08 L 180.72 371.52 L 178.56 371.52 z
" clip-path="url(#p1e7e3396a5)" style="fill: #ff0000"/>
   </g>
   <g id="cr105">
    <path d="M 178.56 367.2 L 180.72 367.2 L 180.72 370.08 L 178.56 370.08 z
" clip-path="url(#p1e7e3396a5)" style="fill: #0000ff"/>
   </g>
   <g id="cr106">
    <path d="M 182.88 381.6 L 185.04 381.6 L 185.04 390.24 L 182.88 390.24 z
" clip-path="url(#p1e7e3396a5)" style="fill: #bfbf00"/>
   </g>
   <g id="cr107">
    <path d="M 182.88 370.08 L 185.04 370.08 L 185.04 381.6 L 182.88 381.6 z
" clip-path="url(#p1e7e3396a5)"/>
   </g>
   <g id="cr108">
    <path d="M 182.88 368.64 L 185.04 368.64 L 185.04 370.08 L 182.88 370.08 z
" clip-path="url(#p1e7e3396a5)" style="fill: #ff0000"/>
   </g>
   <g id="cr109">
    <path d="M 182.88 366.48 L 185.04 366.48 L 185.04 368.64 L 182.88 368.64 z
" clip-path="url(#p1e7e3396a5)" style="fill: #0000ff"/>
   </g>
   <g id="cr110">
    <path d="M 187.2 379.44 L 189.36 379.44 L 189.36 390.24 L 187.2 390.24 z
" clip-path="url(#p1e7e3396a5)" style="fill: #bfbf00"/>
   </g>
   <g id="cr111">
    <path d="M 187.2 366.48 L 189.36 366.48 L 189.36 379.44 L 187.2 379.44 z
" clip-path="url(#p1e7e3396a5)"/>
   </g>
   <g id="cr112">
    <path d="M 187.2 365.04 L 189.36 365.04 L 189.36 366.48 L 187.2 366.48 z
" clip-path="url(#p1e7e3396a5)" style="fill: #ff0000"/>
   </g>
   <g id="cr113">
    <path d="M 187.2 362.16 L 189.36 362.16 L 189.36 365.04 L 187.2 365.04 z
" clip-path="url(#p1e7e3396a5)" style="fill: #0000ff"/>
   </g>
   <g id="cr114">
    <path d="M 190.8 380.16 L 193.68 380.16 L 193.68 390.24 L 190.8 390.24 z
" clip-path="url(#p1e7e3396a5)" style="fill: #bfbf00"/>
   </g>
   <g id="cr115">
    <path d="M 190.8 368.64 L 193.68 368.64 L 193.68 380.16 L 190.8 380.16 z
" clip-path="url(#p1e7e3396a5)"/>
   </g>
   <g id="cr116">
    <path d="M 190.8 367.2 L 193.68 367.2 L 193.68 368.64 L 190.8 368.64 z
" clip-path="url(#p1e7e3396a5)" style="fill: #ff0000"/>
   </g>
   <g id="cr117">
    <path d="M 190.8 363.6 L 193.68 363.6 L 193.68 367.2 L 190.8 367.2 z
" clip-path="url(#p1e7e3396a5)" style="fill: #0000ff"/>
   </g>
   <g id="cr118">
    <path d="M 195.12 382.32 L 197.28 382.32 L 197.28 390.24 L 195.12 390.24 z
" clip-path="url(#p1e7e3396a5)" style="fill: #bfbf00"/>
   </g>
   <g id="cr119">
    <path d="M 195.12 372.96 L 197.28 372.96 L 197.28 382.32 L 195.12 382.32 z
" clip-path="url(#p1e7e3396a5)"/>
   </g>
   <g id="cr120">
    <path d="M 195.12 371.52 L 197.28 371.52 L 197.28 372.96 L 195.12 372.96 z
" clip-path="url(#p1e7e3396a5)" style="fill: #ff0000"/>
   </g>
   <g id="cr121">
    <path d="M 195.12 369.36 L 197.28 369.36 L 197.28 371.52 L 195.12 371.52 z
" clip-path="url(#p1e7e3396a5)" style="fill: #0000ff"/>
   </g>
   <g id="cr122">
    <path d="M 199.44 383.04 L 201.6 383.04 L 201.6 390.24 L 199.44 390.24 z
" clip-path="url(#p1e7e3396a5)" style="fill: #bfbf00"/>
   </g>
   <g id="cr123">
    <path d="M 199.44 375.12 L 201.6 375.12 L 201.6 383.04 L 199.44 383.04 z
" clip-path="url(#p1e7e3396a5)"/>
   </g>
   <g id="cr124">
    <path d="M 199.44 373.68 L 201.6 373.68 L 201.6 375.12 L 199.44 375.12 z
" clip-path="url(#p1e7e3396a5)" style="fill: #ff0000"/>
   </g>
   <g id="cr125">
    <path d="M 199.44 371.52 L 201.6 371.52 L 201.6 373.68 L 199.44 373.68 z
" clip-path="url(#p1e7e3396a5)" style="fill: #0000ff"/>
   </g>
   <g id="cr126">
    <path d="M 203.76 383.76 L 205.92 383.76 L 205.92 390.24 L 203.76 390.24 z
" clip-path="url(#p1e7e3396a5)" style="fill: #bfbf00"/>
   </g>
   <g id="cr127">
    <path d="M 203.76 375.84 L 205.92 375.84 L 205.92 383.76 L 203.76 383.76 z
" clip-path="url(#p1e7e3396a5)"/>
   </g>
   <g id="cr128">
    <path d="M 203.76 374.4 L 205.92 374.4 L 205.92 375.84 L 203.76 375.84 z
" clip-path="url(#p1e7e3396a5)" style="fill: #ff0000"/>
   </g>
   <g id="cr129">
    <path d="M 203.76 371.52 L 205.92 371.52 L 205.92 374.4 L 203.76 374.4 z
" clip-path="url(#p1e7e3396a5)" style="fill: #0000ff"/>
   </g>
   <g id="cr130">
    <path d="M 208.08 383.04 L 210.24 383.04 L 210.24 390.24 L 208.08 390.24 z
" clip-path="url(#p1e7e3396a5)" style="fill: #bfbf00"/>
   </g>
   <g id="cr131">
    <path d="M 208.08 372.96 L 210.24 372.96 L 210.24 383.04 L 208.08 383.04 z
" clip-path="url(#p1e7e3396a5)"/>
   </g>
   <g id="cr132">
    <path d="M 208.08 371.52 L 210.24 371.52 L 210.24 372.96 L 208.08 372.96 z
" clip-path="url(#p1e7e3396a5)" style="fill: #ff0000"/>
   </g>
   <g id="cr133">
    <path d="M 208.08 369.36 L 210.24 369.36 L 210.24 371.52 L 208.08 371.52 z
" clip-path="url(#p1e7e3396a5)" style="fill: #0000ff"/>
   </g>
   <g id="cr134">
    <path d="M 211.68 382.32 L 214.56 382.32 L 214.56 390.24 L 211.68 390.24 z
" clip-path="url(#p1e7e3396a5)" style="fill: #bfbf00"/>
   </g>
   <g id="cr135">
    <path d="M 211.68 371.52 L 214.56 371.52 L 214.56 382.32 L 211.68 382.32 z
" clip-path="url(#p1e7e3396a5)"/>
   </g>
   <g id="cr136">
    <path d="M 211.68 370.08 L 214.56 370.08 L 214.56 371.52 L 211.68 371.52 z
" clip-path="url(#p1e7e3396a5)" style="fill: #ff0000"/>
   </g>
   <g id="cr137">
    <path d="M 211.68 367.92 L 214.56 367.92 L 214.56 370.08 L 211.68 370.08 z
" clip-path="url(#p1e7e3396a5)" style="fill: #0000ff"/>
   </g>
   <g id="cr138">
    <path d="M 216 381.6 L 218.16 381.6 L 218.16 390.24 L 216 390.24 z
" clip-path="url(#p1e7e3396a5)" style="fill: #bfbf00"/>
   </g>
   <g id="cr139">
    <path d="M 216 370.08 L 218.16 370.08 L 218.16 381.6 L 216 381.6 z
" clip-path="url(#p1e7e3396a5)"/>
   </g>
   <g id="cr140">
    <path d="M 216 369.36 L 218.16 369.36 L 218.16 370.08 L 216 370.08 z
" clip-path="url(#p1e7e3396a5)" style="fill: #ff0000"/>
   </g>
   <g id="cr141">
    <path d="M 216 366.48 L 218.16 366.48 L 218.16 369.36 L 216 369.36 z
" clip-path="url(#p1e7e3396a5)" style="fill: #0000ff"/>
   </g>
   <g id="cr142">
    <path d="M 220.32 381.6 L 222.48 381.6 L 222.48 390.24 L 220.32 390.24 z
" clip-path="url(#p1e7e3396a5)" style="fill: #bfbf00"/>
   </g>
   <g id="cr143">
    <path d="M 220.32 369.36 L 222.48 369.36 L 222.48 381.6 L 220.32 381.6 z
" clip-path="url(#p1e7e3396a5)"/>
   </g>
   <g id="cr144">
    <path d="M 220.32 367.92 L 222.48 367.92 L 222.48 369.36 L 220.32 369.36 z
" clip-path="url(#p1e7e3396a5)" style="fill: #ff0000"/>
   </g>
   <g id="cr145">
    <path d="M 220.32 365.76 L 222.48 365.76 L 222.48 367.92 L 220.32 367.92 z
" clip-path="url(#p1e7e3396a5)" style="fill: #0000ff"/>
   </g>
   <g id="cr146">
    <path d="M 224.64 381.6 L 226.8 381.6 L 226.8 390.24 L 224.64 390.24 z
" clip-path="url(#p1e7e3396a5)" style="fill: #bfbf00"/>
   </g>
   <g id="cr147">
    <path d="M 224.64 367.92 L 226.8 367.92 L 226.8 381.6 L 224.64 381.6 z
" clip-path="url(#p1e7e3396a5)"/>
   </g>
   <g id="cr148">
    <path d="M 224.64 366.48 L 226.8 366.48 L 226.8 367.92 L 224.64 367.92 z
" clip-path="url(#p1e7e3396a5)" style="fill: #ff0000"/>
   </g>
   <g id="cr149">
    <path d="M 224.64 364.32 L 226.8 364.32 L 226.8 366.48 L 224.64 366.48 z
" clip-path="url(#p1e7e3396a5)" style="fill: #0000ff"/>
   </g>
   <g id="cr150">
    <path d="M 228.96 380.88 L 231.12 380.88 L 231.12 390.24 L 228.96 390.24 z
" clip-path="url(#p1e7e3396a5)" style="fill: #bfbf00"/>
   </g>
   <g id="cr151">
    <path d="M 228.96 365.76 L 231.12 365.76 L 231.12 380.88 L 228.96 380.88 z
" clip-path="url(#p1e7e3396a5)"/>
   </g>
   <g id="cr152">
    <path d="M 228.96 364.32 L 231.12 364.32 L 231.12 365.76 L 228.96 365.76 z
" clip-path="url(#p1e7e3396a5)" style="fill: #ff0000"/>
   </g>
   <g id="cr153">
    <path d="M 228.96 362.16 L 231.12 362.16 L 231.12 364.32 L 228.96 364.32 z
" clip-path="url(#p1e7e3396a5)" style="fill: #0000ff"/>
   </g>
   <g id="cr154">
    <path d="M 232.56 380.16 L 235.44 380.16 L 235.44 390.24 L 232.56 390.24 z
" clip-path="url(#p1e7e3396a5)" style="fill: #bfbf00"/>
   </g>
   <g id="cr155">
    <path d="M 232.56 363.6 L 235.44 363.6 L 235.44 380.16 L 232.56 380.16 z
" clip-path="url(#p1e7e3396a5)"/>
   </g>
   <g id="cr156">
    <path d="M 232.56 362.16 L 235.44 362.16 L 235.44 363.6 L 232.56 363.6 z
" clip-path="url(#p1e7e3396a5)" style="fill: #ff0000"/>
   </g>
   <g id="cr157">
    <path d="M 232.56 359.28 L 235.44 359.28 L 235.44 362.16 L 232.56 362.16 z
" clip-path="url(#p1e7e3396a5)" style="fill: #0000ff"/>
   </g>
   <g id="cr158">
    <path d="M 236.88 380.88 L 239.04 380.88 L 239.04 390.24 L 236.88 390.24 z
" clip-path="url(#p1e7e3396a5)" style="fill: #bfbf00"/>
   </g>
   <g id="cr159">
    <path d="M 236.88 362.16 L 239.04 362.16 L 239.04 380.88 L 236.88 380.88 z
" clip-path="url(#p1e7e3396a5)"/>
   </g>
   <g id="cr160">
    <path d="M 236.88 360.72 L 239.04 360.72 L 239.04 362.16 L 236.88 362.16 z
" clip-path="url(#p1e7e3396a5)" style="fill: #ff0000"/>
   </g>
   <g id="cr161">
    <path d="M 236.88 357.84 L 239.04 357.84 L 239.04 360.72 L 236.88 360.72 z
" clip-path="url(#p1e7e3396a5)" style="fill: #0000ff"/>
   </g>
   <g id="cr162">
    <path d="M 241.2 380.88 L 243.36 380.88 L 243.36 390.24 L 241.2 390.24 z
" clip-path="url(#p1e7e3396a5)" style="fill: #bfbf00"/>
   </g>
   <g id="cr163">
    <path d="M 241.2 361.44 L 243.36 361.44 L 243.36 380.88 L 241.2 380.88 z
" clip-path="url(#p1e7e3396a5)"/>
   </g>
   <g id="cr164">
    <path d="M 241.2 360 L 243.36 360 L 243.36 361.44 L 241.2 361.44 z
" clip-path="url(#p1e7e3396a5)" style="fill: #ff0000"/>
   </g>
   <g id="cr165">
    <path d="M 241.2 357.12 L 243.36 357.12 L 243.36 360 L 241.2 360 z
" clip-path="url(#p1e7e3396a5)" style="fill: #0000ff"/>
   </g>
   <g id="cr166">
    <path d="M 245.52 380.88 L 247.68 380.88 L 247.68 390.24 L 245.52 390.24 z
" clip-path="url(#p1e7e3396a5)" style="fill: #bfbf00"/>
   </g>
   <g id="cr167">
    <path d="M 245.52 360 L 247.68 360 L 247.68 380.88 L 245.52 380.88 z
" clip-path="url(#p1e7e3396a5)"/>
   </g>
   <g id="cr168">
    <path d="M 245.52 358.56 L 247.68 358.56 L 247.68 360 L 245.52 360 z
" clip-path="url(#p1e7e3396a5)" style="fill: #ff0000"/>
   </g>
   <g id="cr169">
    <path d="M 245.52 355.68 L 247.68 355.68 L 247.68 358.56 L 245.52 358.56 z
" clip-path="url(#p1e7e3396a5)" style="fill: #0000ff"/>
   </g>
   <g id="cr170">
    <path d="M 249.84 380.88 L 252 380.88 L 252 390.24 L 249.84 390.24 z
" clip-path="url(#p1e7e3396a5)" style="fill: #bfbf00"/>
   </g>
   <g id="cr171">
    <path d="M 249.84 360.72 L 252 360.72 L 252 380.88 L 249.84 380.88 z
" clip-path="url(#p1e7e3396a5)"/>
   </g>
   <g id="cr172">
    <path d="M 249.84 359.28 L 252 359.28 L 252 360.72 L 249.84 360.72 z
" clip-path="url(#p1e7e3396a5)" style="fill: #ff0000"/>
   </g>
   <g id="cr173">
    <path d="M 249.84 356.4 L 252 356.4 L 252 359.28 L 249.84 359.28 z
" clip-path="url(#p1e7e3396a5)" style="fill: #0000ff"/>
   </g>
   <g id="cr174">
    <path d="M 253.44 380.16 L 256.32 380.16 L 256.32 390.24 L 253.44 390.24 z
" clip-path="url(#p1e7e3396a5)" style="fill: #bfbf00"/>
   </g>
   <g id="cr175">
    <path d="M 253.44 361.44 L 256.32 361.44 L 256.32 380.16 L 253.44 380.16 z
" clip-path="url(#p1e7e3396a5)"/>
   </g>
   <g id="cr176">
    <path d="M 253.44 360 L 256.32 360 L 256.32 361.44 L 253.44 361.44 z
" clip-path="url(#p1e7e3396a5)" style="fill: #ff0000"/>
   </g>
   <g id="cr177">
    <path d="M 253.44 356.4 L 256.32 356.4 L 256.32 360 L 253.44 360 z
" clip-path="url(#p1e7e3396a5)" style="fill: #0000ff"/>
   </g>
   <g id="cr178">
    <path d="M 257.76 380.88 L 259.92 380.88 L 259.92 390.24 L 257.76 390.24 z
" clip-path="url(#p1e7e3396a5)" style="fill: #bfbf00"/>
   </g>
   <g id="cr179">
    <path d="M 257.76 365.76 L 259.92 365.76 L 259.92 380.88 L 257.76 380.88 z
" clip-path="url(#p1e7e3396a5)"/>
   </g>
   <g id="cr180">
    <path d="M 257.76 364.32 L 259.92 364.32 L 259.92 365.76 L 257.76 365.76 z
" clip-path="url(#p1e7e3396a5)" style="fill: #ff0000"/>
   </g>
   <g id="cr181">
    <path d="M 257.76 360.72 L 259.92 360.72 L 259.92 364.32 L 257.76 364.32 z
" clip-path="url(#p1e7e3396a5)" style="fill: #0000ff"/>
   </g>
   <g id="cr182">
    <path d="M 262.08 382.32 L 264.24 382.32 L 264.24 390.24 L 262.08 390.24 z
" clip-path="url(#p1e7e3396a5)" style="fill: #bfbf00"/>
   </g>
   <g id="cr183">
    <path d="M 262.08 371.52 L 264.24 371.52 L 264.24 382.32 L 262.08 382.32 z
" clip-path="url(#p1e7e3396a5)"/>
   </g>
   <g id="cr184">
    <path d="M 262.08 370.08 L 264.24 370.08 L 264.24 371.52 L 262.08 371.52 z
" clip-path="url(#p1e7e3396a5)" style="fill: #ff0000"/>
   </g>
   <g id="cr185">
    <path d="M 262.08 367.2 L 264.24 367.2 L 264.24 370.08 L 262.08 370.08 z
" clip-path="url(#p1e7e3396a5)" style="fill: #0000ff"/>
   </g>
   <g id="cr186">
    <path d="M 266.4 383.76 L 268.56 383.76 L 268.56 390.24 L 266.4 390.24 z
" clip-path="url(#p1e7e3396a5)" style="fill: #bfbf00"/>
   </g>
   <g id="cr187">
    <path d="M 266.4 375.84 L 268.56 375.84 L 268.56 383.76 L 266.4 383.76 z
" clip-path="url(#p1e7e3396a5)"/>
   </g>
   <g id="cr188">
    <path d="M 266.4 374.4 L 268.56 374.4 L 268.56 375.84 L 266.4 375.84 z
" clip-path="url(#p1e7e3396a5)" style="fill: #ff0000"/>
   </g>
   <g id="cr189">
    <path d="M 266.4 370.8 L 268.56 370.8 L 268.56 374.4 L 266.4 374.4 z
" clip-path="url(#p1e7e3396a5)" style="fill: #0000ff"/>
   </g>
   <g id="cr190">
    <path d="M 270.72 384.48 L 272.88 384.48 L 272.88 390.24 L 270.72 390.24 z
" clip-path="url(#p1e7e3396a5)" style="fill: #bfbf00"/>
   </g>
   <g id="cr191">
    <path d="M 270.72 377.28 L 272.88 377.28 L 272.88 384.48 L 270.72 384.48 z
" clip-path="url(#p1e7e3396a5)"/>
   </g>
   <g id="cr192">
    <path d="M 270.72 375.84 L 272.88 375.84 L 272.88 377.28 L 270.72 377.28 z
" clip-path="url(#p1e7e3396a5)" style="fill: #ff0000"/>
   </g>
   <g id="cr193">
    <path d="M 270.72 371.52 L 272.88 371.52 L 272.88 375.84 L 270.72 375.84 z
" clip-path="url(#p1e7e3396a5)" style="fill: #0000ff"/>
   </g>
   <g id="cr194">
    <path d="M 274.32 384.48 L 277.2 384.48 L 277.2 390.24 L 274.32 390.24 z
" clip-path="url(#p1e7e3396a5)" style="fill: #bfbf00"/>
   </g>
   <g id="cr195">
    <path d="M 274.32 376.56 L 277.2 376.56 L 277.2 384.48 L 274.32 384.48 z
" clip-path="url(#p1e7e3396a5)"/>
   </g>
   <g id="cr196">
    <path d="M 274.32 375.12 L 277.2 375.12 L 277.2 376.56 L 274.32 376.56 z
" clip-path="url(#p1e7e3396a5)" style="fill: #ff0000"/>
   </g>
   <g id="cr197">
    <path d="M 274.32 371.52 L 277.2 371.52 L 277.2 375.12 L 274.32 375.12 z
" clip-path="url(#p1e7e3396a5)" style="fill: #0000ff"/>
   </g>
   <g id="cr198">
    <path d="M 278.64 384.48 L 280.8 384.48 L 280.8 390.24 L 278.64 390.24 z
" clip-path="url(#p1e7e3396a5)" style="fill: #bfbf00"/>
   </g>
   <g id="cr199">
    <path d="M 278.64 376.56 L 280.8 376.56 L 280.8 384.48 L 278.64 384.48 z
" clip-path="url(#p1e7e3396a5)"/>
   </g>
   <g id="cr200">
    <path d="M 278.64 375.12 L 280.8 375.12 L 280.8 376.56 L 278.64 376.56 z
" clip-path="url(#p1e7e3396a5)" style="fill: #ff0000"/>
   </g>
   <g id="cr201">
    <path d="M 278.64 370.8 L 280.8 370.8 L 280.8 375.12 L 278.64 375.12 z
" clip-path="url(#p1e7e3396a5)" style="fill: #0000ff"/>
   </g>
   <g id="cr202">
    <path d="M 282.96 383.76 L 285.12 383.76 L 285.12 390.24 L 282.96 390.24 z
" clip-path="url(#p1e7e3396a5)" style="fill: #bfbf00"/>
   </g>
   <g id="cr203">
    <path d="M 282.96 375.84 L 285.12 375.84 L 285.12 383.76 L 282.96 383.76 z
" clip-path="url(#p1e7e3396a5)"/>
   </g>
   <g id="cr204">
    <path d="M 282.96 374.4 L 285.12 374.4 L 285.12 375.84 L 282.96 375.84 z
" clip-path="url(#p1e7e3396a5)" style="fill: #ff0000"/>
   </g>
   <g id="cr205">
    <path d="M 282.96 370.08 L 285.12 370.08 L 285.12 374.4 L 282.96 374.4 z
" clip-path="url(#p1e7e3396a5)" style="fill: #0000ff"/>
   </g>
   <g id="cr206">
    <path d="M 287.28 383.04 L 289.44 383.04 L 289.44 390.24 L 287.28 390.24 z
" clip-path="url(#p1e7e3396a5)" style="fill: #bfbf00"/>
   </g>
   <g id="cr207">
    <path d="M 287.28 375.84 L 289.44 375.84 L 289.44 383.04 L 287.28 383.04 z
" clip-path="url(#p1e7e3396a5)"/>
   </g>
   <g id="cr208">
    <path d="M 287.28 374.4 L 289.44 374.4 L 289.44 375.84 L 287.28 375.84 z
" clip-path="url(#p1e7e3396a5)" style="fill: #ff0000"/>
   </g>
   <g id="cr209">
    <path d="M 287.28 369.36 L 289.44 369.36 L 289.44 374.4 L 287.28 374.4 z
" clip-path="url(#p1e7e3396a5)" style="fill: #0000ff"/>
   </g>
   <g id="cr210">
    <path d="M 291.6 383.04 L 293.76 383.04 L 293.76 390.24 L 291.6 390.24 z
" clip-path="url(#p1e7e3396a5)" style="fill: #bfbf00"/>
   </g>
   <g id="cr211">
    <path d="M 291.6 374.4 L 293.76 374.4 L 293.76 383.04 L 291.6 383.04 z
" clip-path="url(#p1e7e3396a5)"/>
   </g>
   <g id="cr212">
    <path d="M 291.6 372.96 L 293.76 372.96 L 293.76 374.4 L 291.6 374.4 z
" clip-path="url(#p1e7e3396a5)" style="fill: #ff0000"/>
   </g>
   <g id="cr213">
    <path d="M 291.6 367.92 L 293.76 367.92 L 293.76 372.96 L 291.6 372.96 z
" clip-path="url(#p1e7e3396a5)" style="fill: #0000ff"/>
   </g>
   <g id="cr214">
    <path d="M 295.2 382.32 L 298.08 382.32 L 298.08 390.24 L 295.2 390.24 z
" clip-path="url(#p1e7e3396a5)" style="fill: #bfbf00"/>
   </g>
   <g id="cr215">
    <path d="M 295.2 372.96 L 298.08 372.96 L 298.08 382.32 L 295.2 382.32 z
" clip-path="url(#p1e7e3396a5)"/>
   </g>
   <g id="cr216">
    <path d="M 295.2 371.52 L 298.08 371.52 L 298.08 372.96 L 295.2 372.96 z
" clip-path="url(#p1e7e3396a5)" style="fill: #ff0000"/>
   </g>
   <g id="cr217">
    <path d="M 295.2 366.48 L 298.08 366.48 L 298.08 371.52 L 295.2 371.52 z
" clip-path="url(#p1e7e3396a5)" style="fill: #0000ff"/>
   </g>
   <g id="cr218">
    <path d="M 299.52 381.6 L 301.68 381.6 L 301.68 390.24 L 299.52 390.24 z
" clip-path="url(#p1e7e3396a5)" style="fill: #bfbf00"/>
   </g>
   <g id="cr219">
    <path d="M 299.52 372.96 L 301.68 372.96 L 301.68 381.6 L 299.52 381.6 z
" clip-path="url(#p1e7e3396a5)"/>
   </g>
   <g id="cr220">
    <path d="M 299.52 371.52 L 301.68 371.52 L 301.68 372.96 L 299.52 372.96 z
" clip-path="url(#p1e7e3396a5)" style="fill: #ff0000"/>
   </g>
   <g id="cr221">
    <path d="M 299.52 365.76 L 301.68 365.76 L 301.68 371.52 L 299.52 371.52 z
" clip-path="url(#p1e7e3396a5)" style="fill: #0000ff"/>
   </g>
   <g id="cr222">
    <path d="M 303.84 380.88 L 306 380.88 L 306 390.24 L 303.84 390.24 z
" clip-path="url(#p1e7e3396a5)" style="fill: #bfbf00"/>
   </g>
   <g id="cr223">
    <path d="M 303.84 372.96 L 306 372.96 L 306 380.88 L 303.84 380.88 z
" clip-path="url(#p1e7e3396a5)"/>
   </g>
   <g id="cr224">
    <path d="M 303.84 371.52 L 306 371.52 L 306 372.96 L 303.84 372.96 z
" clip-path="url(#p1e7e3396a5)" style="fill: #ff0000"/>
   </g>
   <g id="cr225">
    <path d="M 303.84 366.48 L 306 366.48 L 306 371.52 L 303.84 371.52 z
" clip-path="url(#p1e7e3396a5)" style="fill: #0000ff"/>
   </g>
   <g id="cr226">
    <path d="M 308.16 380.16 L 310.32 380.16 L 310.32 390.24 L 308.16 390.24 z
" clip-path="url(#p1e7e3396a5)" style="fill: #bfbf00"/>
   </g>
   <g id="cr227">
    <path d="M 308.16 372.96 L 310.32 372.96 L 310.32 380.16 L 308.16 380.16 z
" clip-path="url(#p1e7e3396a5)"/>
   </g>
   <g id="cr228">
    <path d="M 308.16 371.52 L 310.32 371.52 L 310.32 372.96 L 308.16 372.96 z
" clip-path="url(#p1e7e3396a5)" style="fill: #ff0000"/>
   </g>
   <g id="cr229">
    <path d="M 308.16 366.48 L 310.32 366.48 L 310.32 371.52 L 308.16 371.52 z
" clip-path="url(#p1e7e3396a5)" style="fill: #0000ff"/>
   </g>
   <g id="cr230">
    <path d="M 312.48 379.44 L 314.64 379.44 L 314.64 390.24 L 312.48 390.24 z
" clip-path="url(#p1e7e3396a5)" style="fill: #bfbf00"/>
   </g>
   <g id="cr231">
    <path d="M 312.48 372.24 L 314.64 372.24 L 314.64 379.44 L 312.48 379.44 z
" clip-path="url(#p1e7e3396a5)"/>
   </g>
   <g id="cr232">
    <path d="M 312.48 370.8 L 314.64 370.8 L 314.64 372.24 L 312.48 372.24 z
" clip-path="url(#p1e7e3396a5)" style="fill: #ff0000"/>
   </g>
   <g id="cr233">
    <path d="M 312.48 366.48 L 314.64 366.48 L 314.64 370.8 L 312.48 370.8 z
" clip-path="url(#p1e7e3396a5)" style="fill: #0000ff"/>
   </g>
   <g id="cr234">
    <path d="M 316.08 378.72 L 318.96 378.72 L 318.96 390.24 L 316.08 390.24 z
" clip-path="url(#p1e7e3396a5)" style="fill: #bfbf00"/>
   </g>
   <g id="cr235">
    <path d="M 316.08 372.24 L 318.96 372.24 L 318.96 378.72 L 316.08 378.72 z
" clip-path="url(#p1e7e3396a5)"/>
   </g>
   <g id="cr236">
    <path d="M 316.08 370.8 L 318.96 370.8 L 318.96 372.24 L 316.08 372.24 z
" clip-path="url(#p1e7e3396a5)" style="fill: #ff0000"/>
   </g>
   <g id="cr237">
    <path d="M 316.08 366.48 L 318.96 366.48 L 318.96 370.8 L 316.08 370.8 z
" clip-path="url(#p1e7e3396a5)" style="fill: #0000ff"/>
   </g>
   <g id="cr238">
    <path d="M 320.4 378.72 L 322.56 378.72 L 322.56 390.24 L 320.4 390.24 z
" clip-path="url(#p1e7e3396a5)" style="fill: #bfbf00"/>
   </g>
   <g id="cr239">
    <path d="M 320.4 371.52 L 322.56 371.52 L 322.56 378.72 L 320.4 378.72 z
" clip-path="url(#p1e7e3396a5)"/>
   </g>
   <g id="cr240">
    <path d="M 320.4 370.08 L 322.56 370.08 L 322.56 371.52 L 320.4 371.52 z
" clip-path="url(#p1e7e3396a5)" style="fill: #ff0000"/>
   </g>
   <g id="cr241">
    <path d="M 320.4 365.76 L 322.56 365.76 L 322.56 370.08 L 320.4 370.08 z
" clip-path="url(#p1e7e3396a5)" style="fill: #0000ff"/>
   </g>
   <g id="cr242">
    <path d="M 324.72 378 L 326.88 378 L 326.88 390.24 L 324.72 390.24 z
" clip-path="url(#p1e7e3396a5)" style="fill: #bfbf00"/>
   </g>
   <g id="cr243">
    <path d="M 324.72 370.8 L 326.88 370.8 L 326.88 378 L 324.72 378 z
" clip-path="url(#p1e7e3396a5)"/>
   </g>
   <g id="cr244">
    <path d="M 324.72 369.36 L 326.88 369.36 L 326.88 370.8 L 324.72 370.8 z
" clip-path="url(#p1e7e3396a5)" style="fill: #ff0000"/>
   </g>
   <g id="cr245">
    <path d="M 324.72 365.76 L 326.88 365.76 L 326.88 369.36 L 324.72 369.36 z
" clip-path="url(#p1e7e3396a5)" style="fill: #0000ff"/>
   </g>
   <g id="cr246">
    <path d="M 329.04 378 L 331.2 378 L 331.2 390.24 L 329.04 390.24 z
" clip-path="url(#p1e7e3396a5)" style="fill: #bfbf00"/>
   </g>
   <g id="cr247">
    <path d="M 329.04 370.8 L 331.2 370.8 L 331.2 378 L 329.04 378 z
" clip-path="url(#p1e7e3396a5)"/>
   </g>
   <g id="cr248">
    <path d="M 329.04 369.36 L 331.2 369.36 L 331.2 370.8 L 329.04 370.8 z
" clip-path="url(#p1e7e3396a5)" style="fill: #ff0000"/>
   </g>
   <g id="cr249">
    <path d="M 329.04 365.04 L 331.2 365.04 L 331.2 369.36 L 329.04 369.36 z
" clip-path="url(#p1e7e3396a5)" style="fill: #0000ff"/>
   </g>
   <g id="cr250">
    <path d="M 333.36 378 L 335.52 378 L 335.52 390.24 L 333.36 390.24 z
" clip-path="url(#p1e7e3396a5)" style="fill: #bfbf00"/>
   </g>
   <g id="cr251">
    <path d="M 333.36 370.08 L 335.52 370.08 L 335.52 378 L 333.36 378 z
" clip-path="url(#p1e7e3396a5)"/>
   </g>
   <g id="cr252">
    <path d="M 333.36 368.64 L 335.52 368.64 L 335.52 370.08 L 333.36 370.08 z
" clip-path="url(#p1e7e3396a5)" style="fill: #ff0000"/>
   </g>
   <g id="cr253">
    <path d="M 333.36 365.04 L 335.52 365.04 L 335.52 368.64 L 333.36 368.64 z
" clip-path="url(#p1e7e3396a5)" style="fill: #0000ff"/>
   </g>
   <g id="cr254">
    <path d="M 336.96 379.44 L 339.84 379.44 L 339.84 390.24 L 336.96 390.24 z
" clip-path="url(#p1e7e3396a5)" style="fill: #bfbf00"/>
   </g>
   <g id="cr255">
    <path d="M 336.96 370.8 L 339.84 370.8 L 339.84 379.44 L 336.96 379.44 z
" clip-path="url(#p1e7e3396a5)"/>
   </g>
   <g id="cr256">
    <path d="M 336.96 369.36 L 339.84 369.36 L 339.84 370.8 L 336.96 370.8 z
" clip-path="url(#p1e7e3396a5)" style="fill: #ff0000"/>
   </g>
   <g id="cr257">
    <path d="M 336.96 365.04 L 339.84 365.04 L 339.84 369.36 L 336.96 369.36 z
" clip-path="url(#p1e7e3396a5)" style="fill: #0000ff"/>
   </g>
   <g id="cr258">
    <path d="M 341.28 380.16 L 343.44 380.16 L 343.44 390.24 L 341.28 390.24 z
" clip-path="url(#p1e7e3396a5)" style="fill: #bfbf00"/>
   </g>
   <g id="cr259">
    <path d="M 341.28 372.96 L 343.44 372.96 L 343.44 380.16 L 341.28 380.16 z
" clip-path="url(#p1e7e3396a5)"/>
   </g>
   <g id="cr260">
    <path d="M 341.28 371.52 L 343.44 371.52 L 343.44 372.96 L 341.28 372.96 z
" clip-path="url(#p1e7e3396a5)" style="fill: #ff0000"/>
   </g>
   <g id="cr261">
    <path d="M 341.28 365.76 L 343.44 365.76 L 343.44 371.52 L 341.28 371.52 z
" clip-path="url(#p1e7e3396a5)" style="fill: #0000ff"/>
   </g>
   <g id="cr262">
    <path d="M 345.6 380.16 L 347.76 380.16 L 347.76 390.24 L 345.6 390.24 z
" clip-path="url(#p1e7e3396a5)" style="fill: #bfbf00"/>
   </g>
   <g id="cr263">
    <path d="M 345.6 373.68 L 347.76 373.68 L 347.76 380.16 L 345.6 380.16 z
" clip-path="url(#p1e7e3396a5)"/>
   </g>
   <g id="cr264">
    <path d="M 345.6 372.24 L 347.76 372.24 L 347.76 373.68 L 345.6 373.68 z
" clip-path="url(#p1e7e3396a5)" style="fill: #ff0000"/>
   </g>
   <g id="cr265">
    <path d="M 345.6 366.48 L 347.76 366.48 L 347.76 372.24 L 345.6 372.24 z
" clip-path="url(#p1e7e3396a5)" style="fill: #0000ff"/>
   </g>
   <g id="cr266">
    <path d="M 349.92 380.16 L 352.08 380.16 L 352.08 390.24 L 349.92 390.24 z
" clip-path="url(#p1e7e3396a5)" style="fill: #bfbf00"/>
   </g>
   <g id="cr267">
    <path d="M 349.92 373.68 L 352.08 373.68 L 352.08 380.16 L 349.92 380.16 z
" clip-path="url(#p1e7e3396a5)"/>
   </g>
   <g id="cr268">
    <path d="M 349.92 372.24 L 352.08 372.24 L 352.08 373.68 L 349.92 373.68 z
" clip-path="url(#p1e7e3396a5)" style="fill: #ff0000"/>
   </g>
   <g id="cr269">
    <path d="M 349.92 366.48 L 352.08 366.48 L 352.08 372.24 L 349.92 372.24 z
" clip-path="url(#p1e7e3396a5)" style="fill: #0000ff"/>
   </g>
   <g id="cr270">
    <path d="M 354.24 379.44 L 356.4 379.44 L 356.4 390.24 L 354.24 390.24 z
" clip-path="url(#p1e7e3396a5)" style="fill: #bfbf00"/>
   </g>
   <g id="cr271">
    <path d="M 354.24 372.24 L 356.4 372.24 L 356.4 379.44 L 354.24 379.44 z
" clip-path="url(#p1e7e3396a5)"/>
   </g>
   <g id="cr272">
    <path d="M 354.24 371.52 L 356.4 371.52 L 356.4 372.24 L 354.24 372.24 z
" clip-path="url(#p1e7e3396a5)" style="fill: #ff0000"/>
   </g>
   <g id="cr273">
    <path d="M 354.24 364.32 L 356.4 364.32 L 356.4 371.52 L 354.24 371.52 z
" clip-path="url(#p1e7e3396a5)" style="fill: #0000ff"/>
   </g>
   <g id="cr274">
    <path d="M 357.84 378.72 L 360.72 378.72 L 360.72 390.24 L 357.84 390.24 z
" clip-path="url(#p1e7e3396a5)" style="fill: #bfbf00"/>
   </g>
   <g id="cr275">
    <path d="M 357.84 370.8 L 360.72 370.8 L 360.72 378.72 L 357.84 378.72 z
" clip-path="url(#p1e7e3396a5)"/>
   </g>
   <g id="cr276">
    <path d="M 357.84 369.36 L 360.72 369.36 L 360.72 370.8 L 357.84 370.8 z
" clip-path="url(#p1e7e3396a5)" style="fill: #ff0000"/>
   </g>
   <g id="cr277">
    <path d="M 357.84 362.16 L 360.72 362.16 L 360.72 369.36 L 357.84 369.36 z
" clip-path="url(#p1e7e3396a5)" style="fill: #0000ff"/>
   </g>
   <g id="cr278">
    <path d="M 362.16 378 L 364.32 378 L 364.32 390.24 L 362.16 390.24 z
" clip-path="url(#p1e7e3396a5)" style="fill: #bfbf00"/>
   </g>
   <g id="cr279">
    <path d="M 362.16 370.08 L 364.32 370.08 L 364.32 378 L 362.16 378 z
" clip-path="url(#p1e7e3396a5)"/>
   </g>
   <g id="cr280">
    <path d="M 362.16 369.36 L 364.32 369.36 L 364.32 370.08 L 362.16 370.08 z
" clip-path="url(#p1e7e3396a5)" style="fill: #ff0000"/>
   </g>
   <g id="cr281">
    <path d="M 362.16 361.44 L 364.32 361.44 L 364.32 369.36 L 362.16 369.36 z
" clip-path="url(#p1e7e3396a5)" style="fill: #0000ff"/>
   </g>
   <g id="cr282">
    <path d="M 366.48 378.72 L 368.64 378.72 L 368.64 390.24 L 366.48 390.24 z
" clip-path="url(#p1e7e3396a5)" style="fill: #bfbf00"/>
   </g>
   <g id="cr283">
    <path d="M 366.48 370.8 L 368.64 370.8 L 368.64 378.72 L 366.48 378.72 z
" clip-path="url(#p1e7e3396a5)"/>
   </g>
   <g id="cr284">
    <path d="M 366.48 369.36 L 368.64 369.36 L 368.64 370.8 L 366.48 370.8 z
" clip-path="url(#p1e7e3396a5)" style="fill: #ff0000"/>
   </g>
   <g id="cr285">
    <path d="M 366.48 362.16 L 368.64 362.16 L 368.64 369.36 L 366.48 369.36 z
" clip-path="url(#p1e7e3396a5)" style="fill: #0000ff"/>
   </g>
   <g id="cr286">
    <path d="M 370.8 379.44 L 372.96 379.44 L 372.96 390.24 L 370.8 390.24 z
" clip-path="url(#p1e7e3396a5)" style="fill: #bfbf00"/>
   </g>
   <g id="cr287">
    <path d="M 370.8 371.52 L 372.96 371.52 L 372.96 379.44 L 370.8 379.44 z
" clip-path="url(#p1e7e3396a5)"/>
   </g>
   <g id="cr288">
    <path d="M 370.8 370.08 L 372.96 370.08 L 372.96 371.52 L 370.8 371.52 z
" clip-path="url(#p1e7e3396a5)" style="fill: #ff0000"/>
   </g>
   <g id="cr289">
    <path d="M 370.8 362.88 L 372.96 362.88 L 372.96 370.08 L 370.8 370.08 z
" clip-path="url(#p1e7e3396a5)" style="fill: #0000ff"/>
   </g>
   <g id="cr290">
    <path d="M 375.12 378.72 L 377.28 378.72 L 377.28 390.24 L 375.12 390.24 z
" clip-path="url(#p1e7e3396a5)" style="fill: #bfbf00"/>
   </g>
   <g id="cr291">
    <path d="M 375.12 370.08 L 377.28 370.08 L 377.28 378.72 L 375.12 378.72 z
" clip-path="url(#p1e7e3396a5)"/>
   </g>
   <g id="cr292">
    <path d="M 375.12 369.36 L 377.28 369.36 L 377.28 370.08 L 375.12 370.08 z
" clip-path="url(#p1e7e3396a5)" style="fill: #ff0000"/>
   </g>
   <g id="cr293">
    <path d="M 375.12 362.16 L 377.28 362.16 L 377.28 369.36 L 375.12 369.36 z
" clip-path="url(#p1e7e3396a5)" style="fill: #0000ff"/>
   </g>
   <g id="cr294">
    <path d="M 378.72 377.28 L 381.6 377.28 L 381.6 390.24 L 378.72 390.24 z
" clip-path="url(#p1e7e3396a5)" style="fill: #bfbf00"/>
   </g>
   <g id="cr295">
    <path d="M 378.72 368.64 L 381.6 368.64 L 381.6 377.28 L 378.72 377.28 z
" clip-path="url(#p1e7e3396a5)"/>
   </g>
   <g id="cr296">
    <path d="M 378.72 367.92 L 381.6 367.92 L 381.6 368.64 L 378.72 368.64 z
" clip-path="url(#p1e7e3396a5)" style="fill: #ff0000"/>
   </g>
   <g id="cr297">
    <path d="M 378.72 360 L 381.6 360 L 381.6 367.92 L 378.72 367.92 z
" clip-path="url(#p1e7e3396a5)" style="fill: #0000ff"/>
   </g>
   <g id="cr298">
    <path d="M 383.04 376.56 L 385.2 376.56 L 385.2 390.24 L 383.04 390.24 z
" clip-path="url(#p1e7e3396a5)" style="fill: #bfbf00"/>
   </g>
   <g id="cr299">
    <path d="M 383.04 367.2 L 385.2 367.2 L 385.2 376.56 L 383.04 376.56 z
" clip-path="url(#p1e7e3396a5)"/>
   </g>
   <g id="cr300">
    <path d="M 383.04 365.76 L 385.2 365.76 L 385.2 367.2 L 383.04 367.2 z
" clip-path="url(#p1e7e3396a5)" style="fill: #ff0000"/>
   </g>
   <g id="cr301">
    <path d="M 383.04 358.56 L 385.2 358.56 L 385.2 365.76 L 383.04 365.76 z
" clip-path="url(#p1e7e3396a5)" style="fill: #0000ff"/>
   </g>
   <g id="cr302">
    <path d="M 387.36 375.84 L 389.52 375.84 L 389.52 390.24 L 387.36 390.24 z
" clip-path="url(#p1e7e3396a5)" style="fill: #bfbf00"/>
   </g>
   <g id="cr303">
    <path d="M 387.36 365.76 L 389.52 365.76 L 389.52 375.84 L 387.36 375.84 z
" clip-path="url(#p1e7e3396a5)"/>
   </g>
   <g id="cr304">
    <path d="M 387.36 365.04 L 389.52 365.04 L 389.52 365.76 L 387.36 365.76 z
" clip-path="url(#p1e7e3396a5)" style="fill: #ff0000"/>
   </g>
   <g id="cr305">
    <path d="M 387.36 357.84 L 389.52 357.84 L 389.52 365.04 L 387.36 365.04 z
" clip-path="url(#p1e7e3396a5)" style="fill: #0000ff"/>
   </g>
   <g id="cr306">
    <path d="M 391.68 375.12 L 393.84 375.12 L 393.84 390.24 L 391.68 390.24 z
" clip-path="url(#p1e7e3396a5)" style="fill: #bfbf00"/>
   </g>
   <g id="cr307">
    <path d="M 391.68 363.6 L 393.84 363.6 L 393.84 375.12 L 391.68 375.12 z
" clip-path="url(#p1e7e3396a5)"/>
   </g>
   <g id="cr308">
    <path d="M 391.68 362.88 L 393.84 362.88 L 393.84 363.6 L 391.68 363.6 z
" clip-path="url(#p1e7e3396a5)" style="fill: #ff0000"/>
   </g>
   <g id="cr309">
    <path d="M 391.68 354.96 L 393.84 354.96 L 393.84 362.88 L 391.68 362.88 z
" clip-path="url(#p1e7e3396a5)" style="fill: #0000ff"/>
   </g>
   <g id="cr310">
    <path d="M 396 374.4 L 398.16 374.4 L 398.16 390.24 L 396 390.24 z
" clip-path="url(#p1e7e3396a5)" style="fill: #bfbf00"/>
   </g>
   <g id="cr311">
    <path d="M 396 362.88 L 398.16 362.88 L 398.16 374.4 L 396 374.4 z
" clip-path="url(#p1e7e3396a5)"/>
   </g>
   <g id="cr312">
    <path d="M 396 362.16 L 398.16 362.16 L 398.16 362.88 L 396 362.88 z
" clip-path="url(#p1e7e3396a5)" style="fill: #ff0000"/>
   </g>
   <g id="cr313">
    <path d="M 396 354.24 L 398.16 354.24 L 398.16 362.16 L 396 362.16 z
" clip-path="url(#p1e7e3396a5)" style="fill: #0000ff"/>
   </g>
   <g id="cr314">
    <path d="M 399.6 372.24 L 402.48 372.24 L 402.48 390.24 L 399.6 390.24 z
" clip-path="url(#p1e7e3396a5)" style="fill: #bfbf00"/>
   </g>
   <g id="cr315">
    <path d="M 399.6 358.56 L 402.48 358.56 L 402.48 372.24 L 399.6 372.24 z
" clip-path="url(#p1e7e3396a5)"/>
   </g>
   <g id="cr316">
    <path d="M 399.6 357.84 L 402.48 357.84 L 402.48 358.56 L 399.6 358.56 z
" clip-path="url(#p1e7e3396a5)" style="fill: #ff0000"/>
   </g>
   <g id="cr317">
    <path d="M 399.6 349.2 L 402.48 349.2 L 402.48 357.84 L 399.6 357.84 z
" clip-path="url(#p1e7e3396a5)" style="fill: #0000ff"/>
   </g>
   <g id="cr318">
    <path d="M 403.92 370.8 L 406.08 370.8 L 406.08 390.24 L 403.92 390.24 z
" clip-path="url(#p1e7e3396a5)" style="fill: #bfbf00"/>
   </g>
   <g id="cr319">
    <path d="M 403.92 357.12 L 406.08 357.12 L 406.08 370.8 L 403.92 370.8 z
" clip-path="url(#p1e7e3396a5)"/>
   </g>
   <g id="cr320">
    <path d="M 403.92 356.4 L 406.08 356.4 L 406.08 357.12 L 403.92 357.12 z
" clip-path="url(#p1e7e3396a5)" style="fill: #ff0000"/>
   </g>
   <g id="cr321">
    <path d="M 403.92 347.04 L 406.08 347.04 L 406.08 356.4 L 403.92 356.4 z
" clip-path="url(#p1e7e3396a5)" style="fill: #0000ff"/>
   </g>
   <g id="cr322">
    <path d="M 408.24 372.24 L 410.4 372.24 L 410.4 390.24 L 408.24 390.24 z
" clip-path="url(#p1e7e3396a5)" style="fill: #bfbf00"/>
   </g>
   <g id="cr323">
    <path d="M 408.24 361.44 L 410.4 361.44 L 410.4 372.24 L 408.24 372.24 z
" clip-path="url(#p1e7e3396a5)"/>
   </g>
   <g id="cr324">
    <path d="M 408.24 360 L 410.4 360 L 410.4 361.44 L 408.24 361.44 z
" clip-path="url(#p1e7e3396a5)" style="fill: #ff0000"/>
   </g>
   <g id="cr325">
    <path d="M 408.24 352.08 L 410.4 352.08 L 410.4 360 L 408.24 360 z
" clip-path="url(#p1e7e3396a5)" style="fill: #0000ff"/>
   </g>
   <g id="cr326">
    <path d="M 412.56 373.68 L 414.72 373.68 L 414.72 390.24 L 412.56 390.24 z
" clip-path="url(#p1e7e3396a5)" style="fill: #bfbf00"/>
   </g>
   <g id="cr327">
    <path d="M 412.56 364.32 L 414.72 364.32 L 414.72 373.68 L 412.56 373.68 z
" clip-path="url(#p1e7e3396a5)"/>
   </g>
   <g id="cr328">
    <path d="M 412.56 362.88 L 414.72 362.88 L 414.72 364.32 L 412.56 364.32 z
" clip-path="url(#p1e7e3396a5)" style="fill: #ff0000"/>
   </g>
   <g id="cr329">
    <path d="M 412.56 356.4 L 414.72 356.4 L 414.72 362.88 L 412.56 362.88 z
" clip-path="url(#p1e7e3396a5)" style="fill: #0000ff"/>
   </g>
   <g id="cr330">
    <path d="M 416.88 375.84 L 419.04 375.84 L 419.04 390.24 L 416.88 390.24 z
" clip-path="url(#p1e7e3396a5)" style="fill: #bfbf00"/>
   </g>
   <g id="cr331">
    <path d="M 416.88 367.2 L 419.04 367.2 L 419.04 375.84 L 416.88 375.84 z
" clip-path="url(#p1e7e3396a5)"/>
   </g>
   <g id="cr332">
    <path d="M 416.88 365.76 L 419.04 365.76 L 419.04 367.2 L 416.88 367.2 z
" clip-path="url(#p1e7e3396a5)" style="fill: #ff0000"/>
   </g>
   <g id="cr333">
    <path d="M 416.88 360 L 419.04 360 L 419.04 365.76 L 416.88 365.76 z
" clip-path="url(#p1e7e3396a5)" style="fill: #0000ff"/>
   </g>
   <g id="cr334">
    <path d="M 420.48 375.84 L 423.36 375.84 L 423.36 390.24 L 420.48 390.24 z
" clip-path="url(#p1e7e3396a5)" style="fill: #bfbf00"/>
   </g>
   <g id="cr335">
    <path d="M 420.48 365.76 L 423.36 365.76 L 423.36 375.84 L 420.48 375.84 z
" clip-path="url(#p1e7e3396a5)"/>
   </g>
   <g id="cr336">
    <path d="M 420.48 365.04 L 423.36 365.04 L 423.36 365.76 L 420.48 365.76 z
" clip-path="url(#p1e7e3396a5)" style="fill: #ff0000"/>
   </g>
   <g id="cr337">
    <path d="M 420.48 358.56 L 423.36 358.56 L 423.36 365.04 L 420.48 365.04 z
" clip-path="url(#p1e7e3396a5)" style="fill: #0000ff"/>
   </g>
   <g id="cr338">
    <path d="M 424.8 375.84 L 426.96 375.84 L 426.96 390.24 L 424.8 390.24 z
" clip-path="url(#p1e7e3396a5)" style="fill: #bfbf00"/>
   </g>
   <g id="cr339">
    <path d="M 424.8 366.48 L 426.96 366.48 L 426.96 375.84 L 424.8 375.84 z
" clip-path="url(#p1e7e3396a5)"/>
   </g>
   <g id="cr340">
    <path d="M 424.8 365.04 L 426.96 365.04 L 426.96 366.48 L 424.8 366.48 z
" clip-path="url(#p1e7e3396a5)" style="fill: #ff0000"/>
   </g>
   <g id="cr341">
    <path d="M 424.8 359.28 L 426.96 359.28 L 426.96 365.04 L 424.8 365.04 z
" clip-path="url(#p1e7e3396a5)" style="fill: #0000ff"/>
   </g>
   <g id="cr342">
    <path d="M 429.12 375.84 L 431.28 375.84 L 431.28 390.24 L 429.12 390.24 z
" clip-path="url(#p1e7e3396a5)" style="fill: #bfbf00"/>
   </g>
   <g id="cr343">
    <path d="M 429.12 366.48 L 431.28 366.48 L 431.28 375.84 L 429.12 375.84 z
" clip-path="url(#p1e7e3396a5)"/>
   </g>
   <g id="cr344">
    <path d="M 429.12 365.04 L 431.28 365.04 L 431.28 366.48 L 429.12 366.48 z
" clip-path="url(#p1e7e3396a5)" style="fill: #ff0000"/>
   </g>
   <g id="cr345">
    <path d="M 429.12 359.28 L 431.28 359.28 L 431.28 365.04 L 429.12 365.04 z
" clip-path="url(#p1e7e3396a5)" style="fill: #0000ff"/>
   </g>
   <g id="cr346">
    <path d="M 433.44 376.56 L 435.6 376.56 L 435.6 390.24 L 433.44 390.24 z
" clip-path="url(#p1e7e3396a5)" style="fill: #bfbf00"/>
   </g>
   <g id="cr347">
    <path d="M 433.44 367.2 L 435.6 367.2 L 435.6 376.56 L 433.44 376.56 z
" clip-path="url(#p1e7e3396a5)"/>
   </g>
   <g id="cr348">
    <path d="M 433.44 366.48 L 435.6 366.48 L 435.6 367.2 L 433.44 367.2 z
" clip-path="url(#p1e7e3396a5)" style="fill: #ff0000"/>
   </g>
   <g id="cr349">
    <path d="M 433.44 360 L 435.6 360 L 435.6 366.48 L 433.44 366.48 z
" clip-path="url(#p1e7e3396a5)" style="fill: #0000ff"/>
   </g>
   <g id="cr350">
    <path d="M 437.76 377.28 L 439.92 377.28 L 439.92 390.24 L 437.76 390.24 z
" clip-path="url(#p1e7e3396a5)" style="fill: #bfbf00"/>
   </g>
   <g id="cr351">
    <path d="M 437.76 368.64 L 439.92 368.64 L 439.92 377.28 L 437.76 377.28 z
" clip-path="url(#p1e7e3396a5)"/>
   </g>
   <g id="cr352">
    <path d="M 437.76 367.92 L 439.92 367.92 L 439.92 368.64 L 437.76 368.64 z
" clip-path="url(#p1e7e3396a5)" style="fill: #ff0000"/>
   </g>
   <g id="cr353">
    <path d="M 437.76 360.72 L 439.92 360.72 L 439.92 367.92 L 437.76 367.92 z
" clip-path="url(#p1e7e3396a5)" style="fill: #0000ff"/>
   </g>
   <g id="cr354">
    <path d="M 441.36 378 L 444.24 378 L 444.24 390.24 L 441.36 390.24 z
" clip-path="url(#p1e7e3396a5)" style="fill: #bfbf00"/>
   </g>
   <g id="cr355">
    <path d="M 441.36 370.8 L 444.24 370.8 L 444.24 378 L 441.36 378 z
" clip-path="url(#p1e7e3396a5)"/>
   </g>
   <g id="cr356">
    <path d="M 441.36 369.36 L 444.24 369.36 L 444.24 370.8 L 441.36 370.8 z
" clip-path="url(#p1e7e3396a5)" style="fill: #ff0000"/>
   </g>
   <g id="cr357">
    <path d="M 441.36 362.16 L 444.24 362.16 L 444.24 369.36 L 441.36 369.36 z
" clip-path="url(#p1e7e3396a5)" style="fill: #0000ff"/>
   </g>
   <g id="cr358">
    <path d="M 445.68 378.72 L 447.84 378.72 L 447.84 390.24 L 445.68 390.24 z
" clip-path="url(#p1e7e3396a5)" style="fill: #bfbf00"/>
   </g>
   <g id="cr359">
    <path d="M 445.68 370.8 L 447.84 370.8 L 447.84 378.72 L 445.68 378.72 z
" clip-path="url(#p1e7e3396a5)"/>
   </g>
   <g id="cr360">
    <path d="M 445.68 370.08 L 447.84 370.08 L 447.84 370.8 L 445.68 370.8 z
" clip-path="url(#p1e7e3396a5)" style="fill: #ff0000"/>
   </g>
   <g id="cr361">
    <path d="M 445.68 362.88 L 447.84 362.88 L 447.84 370.08 L 445.68 370.08 z
" clip-path="url(#p1e7e3396a5)" style="fill: #0000ff"/>
   </g>
   <g id="cr362">
    <path d="M 450 380.16 L 452.16 380.16 L 452.16 390.24 L 450 390.24 z
" clip-path="url(#p1e7e3396a5)" style="fill: #bfbf00"/>
   </g>
   <g id="cr363">
    <path d="M 450 372.24 L 452.16 372.24 L 452.16 380.16 L 450 380.16 z
" clip-path="url(#p1e7e3396a5)"/>
   </g>
   <g id="cr364">
    <path d="M 450 371.52 L 452.16 371.52 L 452.16 372.24 L 450 372.24 z
" clip-path="url(#p1e7e3396a5)" style="fill: #ff0000"/>
   </g>
   <g id="cr365">
    <path d="M 450 365.04 L 452.16 365.04 L 452.16 371.52 L 450 371.52 z
" clip-path="url(#p1e7e3396a5)" style="fill: #0000ff"/>
   </g>
   <g id="cr366">
    <path d="M 454.32 380.16 L 456.48 380.16 L 456.48 390.24 L 454.32 390.24 z
" clip-path="url(#p1e7e3396a5)" style="fill: #bfbf00"/>
   </g>
   <g id="cr367">
    <path d="M 454.32 371.52 L 456.48 371.52 L 456.48 380.16 L 454.32 380.16 z
" clip-path="url(#p1e7e3396a5)"/>
   </g>
   <g id="cr368">
    <path d="M 454.32 370.08 L 456.48 370.08 L 456.48 371.52 L 454.32 371.52 z
" clip-path="url(#p1e7e3396a5)" style="fill: #ff0000"/>
   </g>
   <g id="cr369">
    <path d="M 454.32 362.16 L 456.48 362.16 L 456.48 370.08 L 454.32 370.08 z
" clip-path="url(#p1e7e3396a5)" style="fill: #0000ff"/>
   </g>
   <g id="cr370">
    <path d="M 458.64 378 L 460.8 378 L 460.8 390.24 L 458.64 390.24 z
" clip-path="url(#p1e7e3396a5)" style="fill: #bfbf00"/>
   </g>
   <g id="cr371">
    <path d="M 458.64 366.48 L 460.8 366.48 L 460.8 378 L 458.64 378 z
" clip-path="url(#p1e7e3396a5)"/>
   </g>
   <g id="cr372">
    <path d="M 458.64 365.76 L 460.8 365.76 L 460.8 366.48 L 458.64 366.48 z
" clip-path="url(#p1e7e3396a5)" style="fill: #ff0000"/>
   </g>
   <g id="cr373">
    <path d="M 458.64 355.68 L 460.8 355.68 L 460.8 365.76 L 458.64 365.76 z
" clip-path="url(#p1e7e3396a5)" style="fill: #0000ff"/>
   </g>
   <g id="cr374">
    <path d="M 462.24 371.52 L 465.12 371.52 L 465.12 390.24 L 462.24 390.24 z
" clip-path="url(#p1e7e3396a5)" style="fill: #bfbf00"/>
   </g>
   <g id="cr375">
    <path d="M 462.24 352.8 L 465.12 352.8 L 465.12 371.52 L 462.24 371.52 z
" clip-path="url(#p1e7e3396a5)"/>
   </g>
   <g id="cr376">
    <path d="M 462.24 352.08 L 465.12 352.08 L 465.12 352.8 L 462.24 352.8 z
" clip-path="url(#p1e7e3396a5)" style="fill: #ff0000"/>
   </g>
   <g id="cr377">
    <path d="M 462.24 337.68 L 465.12 337.68 L 465.12 352.08 L 462.24 352.08 z
" clip-path="url(#p1e7e3396a5)" style="fill: #0000ff"/>
   </g>
   <g id="cr378">
    <path d="M 466.56 369.36 L 468.72 369.36 L 468.72 390.24 L 466.56 390.24 z
" clip-path="url(#p1e7e3396a5)" style="fill: #bfbf00"/>
   </g>
   <g id="cr379">
    <path d="M 466.56 349.2 L 468.72 349.2 L 468.72 369.36 L 466.56 369.36 z
" clip-path="url(#p1e7e3396a5)"/>
   </g>
   <g id="cr380">
    <path d="M 466.56 347.76 L 468.72 347.76 L 468.72 349.2 L 466.56 349.2 z
" clip-path="url(#p1e7e3396a5)" style="fill: #ff0000"/>
   </g>
   <g id="cr381">
    <path d="M 466.56 331.92 L 468.72 331.92 L 468.72 347.76 L 466.56 347.76 z
" clip-path="url(#p1e7e3396a5)" style="fill: #0000ff"/>
   </g>
   <g id="cr382">
    <path d="M 470.88 372.24 L 473.04 372.24 L 473.04 390.24 L 470.88 390.24 z
" clip-path="url(#p1e7e3396a5)" style="fill: #bfbf00"/>
   </g>
   <g id="cr383">
    <path d="M 470.88 354.96 L 473.04 354.96 L 473.04 372.24 L 470.88 372.24 z
" clip-path="url(#p1e7e3396a5)"/>
   </g>
   <g id="cr384">
    <path d="M 470.88 354.24 L 473.04 354.24 L 473.04 354.96 L 470.88 354.96 z
" clip-path="url(#p1e7e3396a5)" style="fill: #ff0000"/>
   </g>
   <g id="cr385">
    <path d="M 470.88 341.28 L 473.04 341.28 L 473.04 354.24 L 470.88 354.24 z
" clip-path="url(#p1e7e3396a5)" style="fill: #0000ff"/>
   </g>
   <g id="cr386">
    <path d="M 475.2 375.84 L 477.36 375.84 L 477.36 390.24 L 475.2 390.24 z
" clip-path="url(#p1e7e3396a5)" style="fill: #bfbf00"/>
   </g>
   <g id="cr387">
    <path d="M 475.2 361.44 L 477.36 361.44 L 477.36 375.84 L 475.2 375.84 z
" clip-path="url(#p1e7e3396a5)"/>
   </g>
   <g id="cr388">
    <path d="M 475.2 360.72 L 477.36 360.72 L 477.36 361.44 L 475.2 361.44 z
" clip-path="url(#p1e7e3396a5)" style="fill: #ff0000"/>
   </g>
   <g id="cr389">
    <path d="M 475.2 351.36 L 477.36 351.36 L 477.36 360.72 L 475.2 360.72 z
" clip-path="url(#p1e7e3396a5)" style="fill: #0000ff"/>
   </g>
   <g id="cr390">
    <path d="M 479.52 375.12 L 481.68 375.12 L 481.68 390.24 L 479.52 390.24 z
" clip-path="url(#p1e7e3396a5)" style="fill: #bfbf00"/>
   </g>
   <g id="cr391">
    <path d="M 479.52 362.16 L 481.68 362.16 L 481.68 375.12 L 479.52 375.12 z
" clip-path="url(#p1e7e3396a5)"/>
   </g>
   <g id="cr392">
    <path d="M 479.52 361.44 L 481.68 361.44 L 481.68 362.16 L 479.52 362.16 z
" clip-path="url(#p1e7e3396a5)" style="fill: #ff0000"/>
   </g>
   <g id="cr393">
    <path d="M 479.52 351.36 L 481.68 351.36 L 481.68 361.44 L 479.52 361.44 z
" clip-path="url(#p1e7e3396a5)" style="fill: #0000ff"/>
   </g>
   <g id="cr394">
    <path d="M 483.12 378 L 486 378 L 486 390.24 L 483.12 390.24 z
" clip-path="url(#p1e7e3396a5)" style="fill: #bfbf00"/>
   </g>
   <g id="cr395">
    <path d="M 483.12 363.6 L 486 363.6 L 486 378 L 483.12 378 z
" clip-path="url(#p1e7e3396a5)"/>
   </g>
   <g id="cr396">
    <path d="M 483.12 362.16 L 486 362.16 L 486 363.6 L 483.12 363.6 z
" clip-path="url(#p1e7e3396a5)" style="fill: #ff0000"/>
   </g>
   <g id="cr397">
    <path d="M 483.12 352.08 L 486 352.08 L 486 362.16 L 483.12 362.16 z
" clip-path="url(#p1e7e3396a5)" style="fill: #0000ff"/>
   </g>
   <g id="cr398">
    <path d="M 487.44 376.56 L 489.6 376.56 L 489.6 390.24 L 487.44 390.24 z
" clip-path="url(#p1e7e3396a5)" style="fill: #bfbf00"/>
   </g>
   <g id="cr399">
    <path d="M 487.44 362.16 L 489.6 362.16 L 489.6 376.56 L 487.44 376.56 z
" clip-path="url(#p1e7e3396a5)"/>
   </g>
   <g id="cr400">
    <path d="M 487.44 360.72 L 489.6 360.72 L 489.6 362.16 L 487.44 362.16 z
" clip-path="url(#p1e7e3396a5)" style="fill: #ff0000"/>
   </g>
   <g id="cr401">
    <path d="M 487.44 350.64 L 489.6 350.64 L 489.6 360.72 L 487.44 360.72 z
" clip-path="url(#p1e7e3396a5)" style="fill: #0000ff"/>
   </g>
   <g id="cr402">
    <path d="M 491.76 375.84 L 493.92 375.84 L 493.92 390.24 L 491.76 390.24 z
" clip-path="url(#p1e7e3396a5)" style="fill: #bfbf00"/>
   </g>
   <g id="cr403">
    <path d="M 491.76 362.88 L 493.92 362.88 L 493.92 375.84 L 491.76 375.84 z
" clip-path="url(#p1e7e3396a5)"/>
   </g>
   <g id="cr404">
    <path d="M 491.76 362.16 L 493.92 362.16 L 493.92 362.88 L 491.76 362.88 z
" clip-path="url(#p1e7e3396a5)" style="fill: #ff0000"/>
   </g>
   <g id="cr405">
    <path d="M 491.76 350.64 L 493.92 350.64 L 493.92 362.16 L 491.76 362.16 z
" clip-path="url(#p1e7e3396a5)" style="fill: #0000ff"/>
   </g>
   <g id="cr406">
    <path d="M 496.08 376.56 L 498.24 376.56 L 498.24 390.24 L 496.08 390.24 z
" clip-path="url(#p1e7e3396a5)" style="fill: #bfbf00"/>
   </g>
   <g id="cr407">
    <path d="M 496.08 364.32 L 498.24 364.32 L 498.24 376.56 L 496.08 376.56 z
" clip-path="url(#p1e7e3396a5)"/>
   </g>
   <g id="cr408">
    <path d="M 496.08 363.6 L 498.24 363.6 L 498.24 364.32 L 496.08 364.32 z
" clip-path="url(#p1e7e3396a5)" style="fill: #ff0000"/>
   </g>
   <g id="cr409">
    <path d="M 496.08 352.08 L 498.24 352.08 L 498.24 363.6 L 496.08 363.6 z
" clip-path="url(#p1e7e3396a5)" style="fill: #0000ff"/>
   </g>
   <g id="cr410">
    <path d="M 500.4 375.84 L 502.56 375.84 L 502.56 390.24 L 500.4 390.24 z
" clip-path="url(#p1e7e3396a5)" style="fill: #bfbf00"/>
   </g>
   <g id="cr411">
    <path d="M 500.4 362.88 L 502.56 362.88 L 502.56 375.84 L 500.4 375.84 z
" clip-path="url(#p1e7e3396a5)"/>
   </g>
   <g id="cr412">
    <path d="M 500.4 361.44 L 502.56 361.44 L 502.56 362.88 L 500.4 362.88 z
" clip-path="url(#p1e7e3396a5)" style="fill: #ff0000"/>
   </g>
   <g id="cr413">
    <path d="M 500.4 349.2 L 502.56 349.2 L 502.56 361.44 L 500.4 361.44 z
" clip-path="url(#p1e7e3396a5)" style="fill: #0000ff"/>
   </g>
   <g id="cr414">
    <path d="M 504 378 L 506.88 378 L 506.88 390.24 L 504 390.24 z
" clip-path="url(#p1e7e3396a5)" style="fill: #bfbf00"/>
   </g>
   <g id="cr415">
    <path d="M 504 370.08 L 506.88 370.08 L 506.88 378 L 504 378 z
" clip-path="url(#p1e7e3396a5)"/>
   </g>
   <g id="cr416">
    <path d="M 504 368.64 L 506.88 368.64 L 506.88 370.08 L 504 370.08 z
" clip-path="url(#p1e7e3396a5)" style="fill: #ff0000"/>
   </g>
   <g id="cr417">
    <path d="M 504 359.28 L 506.88 359.28 L 506.88 368.64 L 504 368.64 z
" clip-path="url(#p1e7e3396a5)" style="fill: #0000ff"/>
   </g>
   <g id="cr418">
    <path d="M 508.32 379.44 L 510.48 379.44 L 510.48 390.24 L 508.32 390.24 z
" clip-path="url(#p1e7e3396a5)" style="fill: #bfbf00"/>
   </g>
   <g id="cr419">
    <path d="M 508.32 372.96 L 510.48 372.96 L 510.48 379.44 L 508.32 379.44 z
" clip-path="url(#p1e7e3396a5)"/>
   </g>
   <g id="cr420">
    <path d="M 508.32 371.52 L 510.48 371.52 L 510.48 372.96 L 508.32 372.96 z
" clip-path="url(#p1e7e3396a5)" style="fill: #ff0000"/>
   </g>
   <g id="cr421">
    <path d="M 508.32 364.32 L 510.48 364.32 L 510.48 371.52 L 508.32 371.52 z
" clip-path="url(#p1e7e3396a5)" style="fill: #0000ff"/>
   </g>
   <g id="cr422">
    <path d="M 512.64 380.16 L 514.8 380.16 L 514.8 390.24 L 512.64 390.24 z
" clip-path="url(#p1e7e3396a5)" style="fill: #bfbf00"/>
   </g>
   <g id="cr423">
    <path d="M 512.64 373.68 L 514.8 373.68 L 514.8 380.16 L 512.64 380.16 z
" clip-path="url(#p1e7e3396a5)"/>
   </g>
   <g id="cr424">
    <path d="M 512.64 372.96 L 514.8 372.96 L 514.8 373.68 L 512.64 373.68 z
" clip-path="url(#p1e7e3396a5)" style="fill: #ff0000"/>
   </g>
   <g id="cr425">
    <path d="M 512.64 366.48 L 514.8 366.48 L 514.8 372.96 L 512.64 372.96 z
" clip-path="url(#p1e7e3396a5)" style="fill: #0000ff"/>
   </g>
   <g id="cr426">
    <path d="M 516.96 382.32 L 519.12 382.32 L 519.12 390.24 L 516.96 390.24 z
" clip-path="url(#p1e7e3396a5)" style="fill: #bfbf00"/>
   </g>
   <g id="cr427">
    <path d="M 516.96 375.84 L 519.12 375.84 L 519.12 382.32 L 516.96 382.32 z
" clip-path="url(#p1e7e3396a5)"/>
   </g>
   <g id="cr428">
    <path d="M 516.96 375.12 L 519.12 375.12 L 519.12 375.84 L 516.96 375.84 z
" clip-path="url(#p1e7e3396a5)" style="fill: #ff0000"/>
   </g>
   <g id="cr429">
    <path d="M 516.96 369.36 L 519.12 369.36 L 519.12 375.12 L 516.96 375.12 z
" clip-path="url(#p1e7e3396a5)" style="fill: #0000ff"/>
   </g>
   <g id="cr430">
    <path d="M 521.28 383.76 L 523.44 383.76 L 523.44 390.24 L 521.28 390.24 z
" clip-path="url(#p1e7e3396a5)" style="fill: #bfbf00"/>
   </g>
   <g id="cr431">
    <path d="M 521.28 378 L 523.44 378 L 523.44 383.76 L 521.28 383.76 z
" clip-path="url(#p1e7e3396a5)"/>
   </g>
   <g id="cr432">
    <path d="M 521.28 377.28 L 523.44 377.28 L 523.44 378 L 521.28 378 z
" clip-path="url(#p1e7e3396a5)" style="fill: #ff0000"/>
   </g>
   <g id="cr433">
    <path d="M 521.28 372.24 L 523.44 372.24 L 523.44 377.28 L 521.28 377.28 z
" clip-path="url(#p1e7e3396a5)" style="fill: #0000ff"/>
   </g>
   <g id="cr434">
    <path d="M 524.88 383.76 L 527.76 383.76 L 527.76 390.24 L 524.88 390.24 z
" clip-path="url(#p1e7e3396a5)" style="fill: #bfbf00"/>
   </g>
   <g id="cr435">
    <path d="M 524.88 378 L 527.76 378 L 527.76 383.76 L 524.88 383.76 z
" clip-path="url(#p1e7e3396a5)"/>
   </g>
   <g id="cr436">
    <path d="M 524.88 377.28 L 527.76 377.28 L 527.76 378 L 524.88 378 z
" clip-path="url(#p1e7e3396a5)" style="fill: #ff0000"/>
   </g>
   <g id="cr437">
    <path d="M 524.88 372.96 L 527.76 372.96 L 527.76 377.28 L 524.88 377.28 z
" clip-path="url(#p1e7e3396a5)" style="fill: #0000ff"/>
   </g>
   <g id="cr438">
    <path d="M 529.2 383.76 L 531.36 383.76 L 531.36 390.24 L 529.2 390.24 z
" clip-path="url(#p1e7e3396a5)" style="fill: #bfbf00"/>
   </g>
   <g id="cr439">
    <path d="M 529.2 378 L 531.36 378 L 531.36 383.76 L 529.2 383.76 z
" clip-path="url(#p1e7e3396a5)"/>
   </g>
   <g id="cr440">
    <path d="M 529.2 377.28 L 531.36 377.28 L 531.36 378 L 529.2 378 z
" clip-path="url(#p1e7e3396a5)" style="fill: #ff0000"/>
   </g>
   <g id="cr441">
    <path d="M 529.2 372.96 L 531.36 372.96 L 531.36 377.28 L 529.2 377.28 z
" clip-path="url(#p1e7e3396a5)" style="fill: #0000ff"/>
   </g>
   <g id="cr442">
    <path d="M 533.52 383.04 L 535.68 383.04 L 535.68 390.24 L 533.52 390.24 z
" clip-path="url(#p1e7e3396a5)" style="fill: #bfbf00"/>
   </g>
   <g id="cr443">
    <path d="M 533.52 376.56 L 535.68 376.56 L 535.68 383.04 L 533.52 383.04 z
" clip-path="url(#p1e7e3396a5)"/>
   </g>
   <g id="cr444">
    <path d="M 533.52 375.84 L 535.68 375.84 L 535.68 376.56 L 533.52 376.56 z
" clip-path="url(#p1e7e3396a5)" style="fill: #ff0000"/>
   </g>
   <g id="cr445">
    <path d="M 533.52 372.24 L 535.68 372.24 L 535.68 375.84 L 533.52 375.84 z
" clip-path="url(#p1e7e3396a5)" style="fill: #0000ff"/>
   </g>
   <g id="cr446">
    <path d="M 537.84 382.32 L 540 382.32 L 540 390.24 L 537.84 390.24 z
" clip-path="url(#p1e7e3396a5)" style="fill: #bfbf00"/>
   </g>
   <g id="cr447">
    <path d="M 537.84 375.84 L 540 375.84 L 540 382.32 L 537.84 382.32 z
" clip-path="url(#p1e7e3396a5)"/>
   </g>
   <g id="cr448">
    <path d="M 537.84 374.4 L 540 374.4 L 540 375.84 L 537.84 375.84 z
" clip-path="url(#p1e7e3396a5)" style="fill: #ff0000"/>
   </g>
   <g id="cr449">
    <path d="M 537.84 371.52 L 540 371.52 L 540 374.4 L 537.84 374.4 z
" clip-path="url(#p1e7e3396a5)" style="fill: #0000ff"/>
   </g>
   <g id="cr450">
    <path d="M 542.16 380.88 L 544.32 380.88 L 544.32 390.24 L 542.16 390.24 z
" clip-path="url(#p1e7e3396a5)" style="fill: #bfbf00"/>
   </g>
   <g id="cr451">
    <path d="M 542.16 373.68 L 544.32 373.68 L 544.32 380.88 L 542.16 380.88 z
" clip-path="url(#p1e7e3396a5)"/>
   </g>
   <g id="cr452">
    <path d="M 542.16 372.96 L 544.32 372.96 L 544.32 373.68 L 542.16 373.68 z
" clip-path="url(#p1e7e3396a5)" style="fill: #ff0000"/>
   </g>
   <g id="cr453">
    <path d="M 542.16 370.08 L 544.32 370.08 L 544.32 372.96 L 542.16 372.96 z
" clip-path="url(#p1e7e3396a5)" style="fill: #0000ff"/>
   </g>
   <g id="cr454">
    <path d="M 545.76 380.16 L 548.64 380.16 L 548.64 390.24 L 545.76 390.24 z
" clip-path="url(#p1e7e3396a5)" style="fill: #bfbf00"/>
   </g>
   <g id="cr455">
    <path d="M 545.76 372.96 L 548.64 372.96 L 548.64 380.16 L 545.76 380.16 z
" clip-path="url(#p1e7e3396a5)"/>
   </g>
   <g id="cr456">
    <path d="M 545.76 371.52 L 548.64 371.52 L 548.64 372.96 L 545.76 372.96 z
" clip-path="url(#p1e7e3396a5)" style="fill: #ff0000"/>
   </g>
   <g id="cr457">
    <path d="M 545.76 369.36 L 548.64 369.36 L 548.64 371.52 L 545.76 371.52 z
" clip-path="url(#p1e7e3396a5)" style="fill: #0000ff"/>
   </g>
   <g id="cr458">
    <path d="M 550.08 380.16 L 552.24 380.16 L 552.24 390.24 L 550.08 390.24 z
" clip-path="url(#p1e7e3396a5)" style="fill: #bfbf00"/>
   </g>
   <g id="cr459">
    <path d="M 550.08 372.24 L 552.24 372.24 L 552.24 380.16 L 550.08 380.16 z
" clip-path="url(#p1e7e3396a5)"/>
   </g>
   <g id="cr460">
    <path d="M 550.08 370.8 L 552.24 370.8 L 552.24 372.24 L 550.08 372.24 z
" clip-path="url(#p1e7e3396a5)" style="fill: #ff0000"/>
   </g>
   <g id="cr461">
    <path d="M 550.08 367.92 L 552.24 367.92 L 552.24 370.8 L 550.08 370.8 z
" clip-path="url(#p1e7e3396a5)" style="fill: #0000ff"/>
   </g>
   <g id="cr462">
    <path d="M 554.4 380.16 L 556.56 380.16 L 556.56 390.24 L 554.4 390.24 z
" clip-path="url(#p1e7e3396a5)" style="fill: #bfbf00"/>
   </g>
   <g id="cr463">
    <path d="M 554.4 371.52 L 556.56 371.52 L 556.56 380.16 L 554.4 380.16 z
" clip-path="url(#p1e7e3396a5)"/>
   </g>
   <g id="cr464">
    <path d="M 554.4 370.08 L 556.56 370.08 L 556.56 371.52 L 554.4 371.52 z
" clip-path="url(#p1e7e3396a5)" style="fill: #ff0000"/>
   </g>
   <g id="cr465">
    <path d="M 554.4 366.48 L 556.56 366.48 L 556.56 370.08 L 554.4 370.08 z
" clip-path="url(#p1e7e3396a5)" style="fill: #0000ff"/>
   </g>
   <g id="cr466">
    <path d="M 558.72 381.6 L 560.88 381.6 L 560.88 390.24 L 558.72 390.24 z
" clip-path="url(#p1e7e3396a5)" style="fill: #bfbf00"/>
   </g>
   <g id="cr467">
    <path d="M 558.72 371.52 L 560.88 371.52 L 560.88 381.6 L 558.72 381.6 z
" clip-path="url(#p1e7e3396a5)"/>
   </g>
   <g id="cr468">
    <path d="M 558.72 369.36 L 560.88 369.36 L 560.88 371.52 L 558.72 371.52 z
" clip-path="url(#p1e7e3396a5)" style="fill: #ff0000"/>
   </g>
   <g id="cr469">
    <path d="M 558.72 365.76 L 560.88 365.76 L 560.88 369.36 L 558.72 369.36 z
" clip-path="url(#p1e7e3396a5)" style="fill: #0000ff"/>
   </g>
   <g id="cr470">
    <path d="M 563.04 382.32 L 565.2 382.32 L 565.2 390.24 L 563.04 390.24 z
" clip-path="url(#p1e7e3396a5)" style="fill: #bfbf00"/>
   </g>
   <g id="cr471">
    <path d="M 563.04 372.24 L 565.2 372.24 L 565.2 382.32 L 563.04 382.32 z
" clip-path="url(#p1e7e3396a5)"/>
   </g>
   <g id="cr472">
    <path d="M 563.04 368.64 L 565.2 368.64 L 565.2 372.24 L 563.04 372.24 z
" clip-path="url(#p1e7e3396a5)" style="fill: #ff0000"/>
   </g>
   <g id="cr473">
    <path d="M 563.04 366.48 L 565.2 366.48 L 565.2 368.64 L 563.04 368.64 z
" clip-path="url(#p1e7e3396a5)" style="fill: #0000ff"/>
   </g>
   <g id="cr474">
    <path d="M 566.64 383.04 L 569.52 383.04 L 569.52 390.24 L 566.64 390.24 z
" clip-path="url(#p1e7e3396a5)" style="fill: #bfbf00"/>
   </g>
   <g id="cr475">
    <path d="M 566.64 372.96 L 569.52 372.96 L 569.52 383.04 L 566.64 383.04 z
" clip-path="url(#p1e7e3396a5)"/>
   </g>
   <g id="cr476">
    <path d="M 566.64 369.36 L 569.52 369.36 L 569.52 372.96 L 566.64 372.96 z
" clip-path="url(#p1e7e3396a5)" style="fill: #ff0000"/>
   </g>
   <g id="cr477">
    <path d="M 566.64 367.2 L 569.52 367.2 L 569.52 369.36 L 566.64 369.36 z
" clip-path="url(#p1e7e3396a5)" style="fill: #0000ff"/>
   </g>
   <g id="cr478">
    <path d="M 570.96 383.76 L 573.12 383.76 L 573.12 390.24 L 570.96 390.24 z
" clip-path="url(#p1e7e3396a5)" style="fill: #bfbf00"/>
   </g>
   <g id="cr479">
    <path d="M 570.96 373.68 L 573.12 373.68 L 573.12 383.76 L 570.96 383.76 z
" clip-path="url(#p1e7e3396a5)"/>
   </g>
   <g id="cr480">
    <path d="M 570.96 369.36 L 573.12 369.36 L 573.12 373.68 L 570.96 373.68 z
" clip-path="url(#p1e7e3396a5)" style="fill: #ff0000"/>
   </g>
   <g id="cr481">
    <path d="M 570.96 367.2 L 573.12 367.2 L 573.12 369.36 L 570.96 369.36 z
" clip-path="url(#p1e7e3396a5)" style="fill: #0000ff"/>
   </g>
   <g id="cr482">
    <path d="M 575.28 383.76 L 577.44 383.76 L 577.44 390.24 L 575.28 390.24 z
" clip-path="url(#p1e7e3396a5)" style="fill: #bfbf00"/>
   </g>
   <g id="cr483">
    <path d="M 575.28 373.68 L 577.44 373.68 L 577.44 383.76 L 575.28 383.76 z
" clip-path="url(#p1e7e3396a5)"/>
   </g>
   <g id="cr484">
    <path d="M 575.28 369.36 L 577.44 369.36 L 577.44 373.68 L 575.28 373.68 z
" clip-path="url(#p1e7e3396a5)" style="fill: #ff0000"/>
   </g>
   <g id="cr485">
    <path d="M 575.28 367.92 L 577.44 367.92 L 577.44 369.36 L 575.28 369.36 z
" clip-path="url(#p1e7e3396a5)" style="fill: #0000ff"/>
   </g>
   <g id="cr486">
    <path d="M 579.6 383.04 L 581.76 383.04 L 581.76 390.24 L 579.6 390.24 z
" clip-path="url(#p1e7e3396a5)" style="fill: #bfbf00"/>
   </g>
   <g id="cr487">
    <path d="M 579.6 372.96 L 581.76 372.96 L 581.76 383.04 L 579.6 383.04 z
" clip-path="url(#p1e7e3396a5)"/>
   </g>
   <g id="cr488">
    <path d="M 579.6 369.36 L 581.76 369.36 L 581.76 372.96 L 579.6 372.96 z
" clip-path="url(#p1e7e3396a5)" style="fill: #ff0000"/>
   </g>
   <g id="cr489">
    <path d="M 579.6 367.2 L 581.76 367.2 L 581.76 369.36 L 579.6 369.36 z
" clip-path="url(#p1e7e3396a5)" style="fill: #0000ff"/>
   </g>
   <g id="cr490">
    <path d="M 583.92 382.32 L 586.08 382.32 L 586.08 390.24 L 583.92 390.24 z
" clip-path="url(#p1e7e3396a5)" style="fill: #bfbf00"/>
   </g>
   <g id="cr491">
    <path d="M 583.92 372.24 L 586.08 372.24 L 586.08 382.32 L 583.92 382.32 z
" clip-path="url(#p1e7e3396a5)"/>
   </g>
   <g id="cr492">
    <path d="M 583.92 369.36 L 586.08 369.36 L 586.08 372.24 L 583.92 372.24 z
" clip-path="url(#p1e7e3396a5)" style="fill: #ff0000"/>
   </g>
   <g id="cr493">
    <path d="M 583.92 367.2 L 586.08 367.2 L 586.08 369.36 L 583.92 369.36 z
" clip-path="url(#p1e7e3396a5)" style="fill: #0000ff"/>
   </g>
   <g id="cr494">
    <path d="M 587.52 381.6 L 590.4 381.6 L 590.4 390.24 L 587.52 390.24 z
" clip-path="url(#p1e7e3396a5)" style="fill: #bfbf00"/>
   </g>
   <g id="cr495">
    <path d="M 587.52 372.24 L 590.4 372.24 L 590.4 381.6 L 587.52 381.6 z
" clip-path="url(#p1e7e3396a5)"/>
   </g>
   <g id="cr496">
    <path d="M 587.52 368.64 L 590.4 368.64 L 590.4 372.24 L 587.52 372.24 z
" clip-path="url(#p1e7e3396a5)" style="fill: #ff0000"/>
   </g>
   <g id="cr497">
    <path d="M 587.52 366.48 L 590.4 366.48 L 590.4 368.64 L 587.52 368.64 z
" clip-path="url(#p1e7e3396a5)" style="fill: #0000ff"/>
   </g>
   <g id="patch_22">
    <path d="M 88.2 390.6 L 88.2 329.4 
" style="fill: none; stroke: #2b2b2b; stroke-width: 0.72; stroke-linejoin: miter; stroke-linecap: square"/>
   </g>
   <g id="patch_23">
    <path d="M 589.32 390.6 L 589.32 329.4 
" style="fill: none; stroke: #2b2b2b; stroke-width: 0.72; stroke-linejoin: miter; stroke-linecap: square"/>
   </g>
   <g id="patch_24">
    <path d="M 88.2 390.6 L 589.32 390.6 
" style="fill: none; stroke: #2b2b2b; stroke-width: 0.72; stroke-linejoin: miter; stroke-linecap: square"/>
   </g>
   <g id="patch_25">
    <path d="M 88.2 329.4 L 589.32 329.4 
" style="fill: none; stroke: #2b2b2b; stroke-width: 0.72; stroke-linejoin: miter; stroke-linecap: square"/>
   </g>
   <g id="matplotlib.axis_5"/>
   <g id="matplotlib.axis_6">
    <g id="ytick_6">
     <g id="line2d_30">
      <path d="M 88.2 390.6 L 589.32 390.6 
" clip-path="url(#p1e7e3396a5)" style="fill: none; stroke-dasharray: 0.8,1.32; stroke-dashoffset: 0; stroke: #b0b0b0; stroke-width: 0.8"/>
     </g>
     <g id="line2d_31"/>
     <g id="text_42">
      <text style="font-size: 10px; font-family: 'DejaVu Sans', 'Liberation Sans', sans-serif; text-anchor: end" x="82.2" y="394.399219" transform="rotate(-0 82.2 394.399219)">0.00</text>
     </g>
    </g>
    <g id="ytick_7">
     <g id="line2d_32">
      <path d="M 88.2 368.28 L 589.32 368.28 
" clip-path="url(#p1e7e3396a5)" style="fill: none; stroke-dasharray: 0.8,1.32; stroke-dashoffset: 0; stroke: #b0b0b0; stroke-width: 0.8"/>
     </g>
     <g id="line2d_33"/>
     <g id="text_43">
      <text style="font-size: 10px; font-family: 'DejaVu Sans', 'Liberation Sans', sans-serif; text-anchor: end" x="82.2" y="372.079219" transform="rotate(-0 82.2 372.079219)">0.05</text>
     </g>
    </g>
    <g id="ytick_8">
     <g id="line2d_34">
      <path d="M 88.2 345.24 L 589.32 345.24 
" clip-path="url(#p1e7e3396a5)" style="fill: none; stroke-dasharray: 0.8,1.32; stroke-dashoffset: 0; stroke: #b0b0b0; stroke-width: 0.8"/>
     </g>
     <g id="line2d_35"/>
     <g id="text_44">
      <text style="font-size: 10px; font-family: 'DejaVu Sans', 'Liberation Sans', sans-serif; text-anchor: end" x="82.2" y="349.039219" transform="rotate(-0 82.2 349.039219)">0.10</text>
     </g>
    </g>
   </g>
  </g>
  <g id="axes_4">
   <g id="patch_26">
    <path d="M 88.2 466.92 L 589.32 466.92 L 589.32 405.72 L 88.2 405.72 z
" style="fill: #ffffff"/>
   </g>
   <g id="cr498">
    <path d="M 470.16 408.24 L 482.4 408.24 L 482.4 466.56 L 470.16 466.56 z
" clip-path="url(#pa5d78089c2)" style="fill: #008000"/>
   </g>
   <g id="cr499">
    <path d="M 483.12 459.36 L 494.64 459.36 L 494.64 466.56 L 483.12 466.56 z
" clip-path="url(#pa5d78089c2)" style="fill: #008000"/>
   </g>
   <g id="cr500">
    <path d="M 495.36 465.84 L 506.88 465.84 L 506.88 466.56 L 495.36 466.56 z
" clip-path="url(#pa5d78089c2)" style="fill: #008000"/>
   </g>
   <g id="patch_27">
    <path d="M 88.2 466.92 L 88.2 405.72 
" style="fill: none; stroke: #2b2b2b; stroke-width: 0.72; stroke-linejoin: miter; stroke-linecap: square"/>
   </g>
   <g id="patch_28">
    <path d="M 589.32 466.92 L 589.32 405.72 
" style="fill: none; stroke: #2b2b2b; stroke-width: 0.72; stroke-linejoin: miter; stroke-linecap: square"/>
   </g>
   <g id="patch_29">
    <path d="M 88.2 466.92 L 589.32 466.92 
" style="fill: none; stroke: #2b2b2b; stroke-width: 0.72; stroke-linejoin: miter; stroke-linecap: square"/>
   </g>
   <g id="patch_30">
    <path d="M 88.2 405.72 L 589.32 405.72 
" style="fill: none; stroke: #2b2b2b; stroke-width: 0.72; stroke-linejoin: miter; stroke-linecap: square"/>
   </g>
   <g id="matplotlib.axis_7">
    <g id="xtick_23">
     <g id="line2d_36">
      
      <g>
       <path d="M 0 0 L 0 -4.5 " transform="translate(88.2000 466.9200)" style="stroke: #000000; stroke-width: 0.72"/>
      </g>
     </g>
     <g id="line2d_37">
      <g>
       <path d="M 0 0 L 0 4.5 " transform="translate(88.2000 405.7200)" style="stroke: #000000; stroke-width: 0.72"/>
      </g>
     </g>
     <g id="text_45">
      <text style="font-size: 10px; font-family: 'DejaVu Sans', 'Liberation Sans', sans-serif; text-anchor: middle" x="88.2" y="480.918438" transform="rotate(-0 88.2 480.918438)">12z</text>
     </g>
    </g>
    <g id="xtick_24">
     <g id="line2d_38">
      <g>
       <path d="M 0 0 L 0 -4.5 " transform="translate(138.6000 466.9200)" style="stroke: #000000; stroke-width: 0.72"/>
      </g>
     </g>
     <g id="line2d_39">
      <g>
       <path d="M 0 0 L 0 4.5 " transform="translate(138.6000 405.7200)" style="stroke: #000000; stroke-width: 0.72"/>
      </g>
     </g>
     <g id="text_46">
      <text style="font-size: 10px; font-family: 'DejaVu Sans', 'Liberation Sans', sans-serif; text-anchor: middle" x="138.312" y="480.918438" transform="rotate(-0 138.312 480.918438)">00z</text>
     </g>
    </g>
    <g id="xtick_25">
     <g id="line2d_40">
      <g>
       <path d="M 0 0 L 0 -4.5 " transform="translate(188.2800 466.9200)" style="stroke: #000000; stroke-width: 0.72"/>
      </g>
     </g>
     <g id="line2d_41">
      <g>
       <path d="M 0 0 L 0 4.5 " transform="translate(188.2800 405.7200)" style="stroke: #000000; stroke-width: 0.72"/>
      </g>
     </g>
     <g id="text_47">
      <text style="font-size: 10px; font-family: 'DejaVu Sans', 'Liberation Sans', sans-serif; text-anchor: middle" x="188.424" y="480.918438" transform="rotate(-0 188.424 480.918438)">12z</text>
     </g>
    </g>
    <g id="xtick_26">
     <g id="line2d_42">
      <g>
       <path d="M 0 0 L 0 -4.5 " transform="translate(238.6800 466.9200)" style="stroke: #000000; stroke-width: 0.72"/>
      </g>
     </g>
     <g id="line2d_43">
      <g>
       <path d="M 0 0 L 0 4.5 " transform="translate(238.6800 405.7200)" style="stroke: #000000; stroke-width: 0.72"/>
      </g>
     </g>
     <g id="text_48">
      <text style="font-size: 10px; font-family: 'DejaVu Sans', 'Liberation Sans', sans-serif; text-anchor: middle" x="238.536" y="480.918438" transform="rotate(-0 238.536 480.918438)">00z</text>
     </g>
    </g>
    <g id="xtick_27">
     <g id="line2d_44">
      <g>
       <path d="M 0 0 L 0 -4.5 " transform="translate(288.3600 466.9200)" style="stroke: #000000; stroke-width: 0.72"/>
      </g>
     </g>
     <g id="line2d_45">
      <g>
       <path d="M 0 0 L 0 4.5 " transform="translate(288.3600 405.7200)" style="stroke: #000000; stroke-width: 0.72"/>
      </g>
     </g>
     <g id="text_49">
      <text style="font-size: 10px; font-family: 'DejaVu Sans', 'Liberation Sans', sans-serif; text-anchor: middle" x="288.648" y="480.918438" transform="rotate(-0 288.648 480.918438)">12z</text>
     </g>
    </g>
    <g id="xtick_28">
     <g id="line2d_46">
      <g>
       <path d="M 0 0 L 0 -4.5 " transform="translate(338.7600 466.9200)" style="stroke: #000000; stroke-width: 0.72"/>
      </g>
     </g>
     <g id="line2d_47">
      <g>
       <path d="M 0 0 L 0 4.5 " transform="translate(338.7600 405.7200)" style="stroke: #000000; stroke-width: 0.72"/>
      </g>
     </g>
     <g id="text_50">
      <text style="font-size: 10px; font-family: 'DejaVu Sans', 'Liberation Sans', sans-serif; text-anchor: middle" x="338.76" y="480.918438" transform="rotate(-0 338.76 480.918438)">00z</text>
     </g>
    </g>
    <g id="xtick_29">
     <g id="line2d_48">
      <g>
       <path d="M 0 0 L 0 -4.5 " transform="translate(389.1600 466.9200)" style="stroke: #000000; stroke-width: 0.72"/>
      </g>
     </g>
     <g id="line2d_49">
      <g>
       <path d="M 0 0 L 0 4.5 " transform="translate(389.1600 405.7200)" style="stroke: #000000; stroke-width: 0.72"/>
      </g>
     </g>
     <g id="text_51">
      <text style="font-size: 10px; font-family: 'DejaVu Sans', 'Liberation Sans', sans-serif; text-anchor: middle" x="388.872" y="480.918438" transform="rotate(-0 388.872 480.918438)">12z</text>
     </g>
    </g>
    <g id="xtick_30">
     <g id="line2d_50">
      <g>
       <path d="M 0 0 L 0 -4.5 " transform="translate(438.8400 466.9200)" style="stroke: #000000; stroke-width: 0.72"/>
      </g>
     </g>
     <g id="line2d_51">
      <g>
       <path d="M 0 0 L 0 4.5 " transform="translate(438.8400 405.7200)" style="stroke: #000000; stroke-width: 0.72"/>
      </g>
     </g>
     <g id="text_52">
      <text style="font-size: 10px; font-family: 'DejaVu Sans', 'Liberation Sans', sans-serif; text-anchor: middle" x="438.984" y="480.918438" transform="rotate(-0 438.984 480.918438)">00z</text>
     </g>
    </g>
    <g id="xtick_31">
     <g id="line2d_52">
      <g>
       <path d="M 0 0 L 0 -4.5 " transform="translate(489.2400 466.9200)" style="stroke: #000000; stroke-width: 0.72"/>
      </g>
     </g>
     <g id="line2d_53">
      <g>
       <path d="M 0 0 L 0 4.5 " transform="translate(489.2400 405.7200)" style="stroke: #000000; stroke-width: 0.72"/>
      </g>
     </g>
     <g id="text_53">
      <text style="font-size: 10px; font-family: 'DejaVu Sans', 'Liberation Sans', sans-serif; text-anchor: middle" x="489.096" y="480.918438" transform="rotate(-0 489.096 480.918438)">12z</text>
     </g>
    </g>
    <g id="xtick_32">
     <g id="line2d_54">
      <g>
       <path d="M 0 0 L 0 -4.5 " transform="translate(538.9200 466.9200)" style="stroke: #000000; stroke-width: 0.72"/>
      </g>
     </g>
     <g id="line2d_55">
      <g>
       <path d="M 0 0 L 0 4.5 " transform="translate(538.9200 405.7200)" style="stroke: #000000; stroke-width: 0.72"/>
      </g>
     </g>
     <g id="text_54">
      <text style="font-size: 10px; font-family: 'DejaVu Sans', 'Liberation Sans', sans-serif; text-anchor: middle" x="539.208" y="480.918438" transform="rotate(-0 539.208 480.918438)">00z</text>
     </g>
    </g>
    <g id="xtick_33">
     <g id="line2d_56">
      <g>
       <path d="M 0 0 L 0 -4.5 " transform="translate(589.3200 466.9200)" style="stroke: #000000; stroke-width: 0.72"/>
      </g>
     </g>
     <g id="line2d_57">
      <g>
       <path d="M 0 0 L 0 4.5 " transform="translate(589.3200 405.7200)" style="stroke: #000000; stroke-width: 0.72"/>
      </g>
     </g>
     <g id="text_55">
      <text style="font-size: 10px; font-family: 'DejaVu Sans', 'Liberation Sans', sans-serif; text-anchor: middle" x="589.32" y="480.918438" transform="rotate(-0 589.32 480.918438)">12z</text>
     </g>
    </g>
   </g>
   <g id="matplotlib.axis_8">
    <g id="ytick_9">
     <g id="line2d_58">
      <path d="M 88.2 466.92 L 589.32 466.92 
" clip-path="url(#pa5d78089c2)" style="fill: none; stroke-dasharray: 0.8,1.32; stroke-dashoffset: 0; stroke: #b0b0b0; stroke-width: 0.8"/>
     </g>
     <g id="line2d_59">
      
      <g>
       <path d="M 0 0 L 4.5 0 " transform="translate(88.2000 466.9200)" style="stroke: #000000; stroke-width: 0.72"/>
      </g>
     </g>
     <g id="text_56">
      <text style="font-size: 10px; font-family: 'DejaVu Sans', 'Liberation Sans', sans-serif; text-anchor: end" x="82.2" y="470.719219" transform="rotate(-0 82.2 470.719219)">0.000</text>
     </g>
    </g>
    <g id="ytick_10">
     <g id="line2d_60">
      <path d="M 88.2 449.64 L 589.32 449.64 
" clip-path="url(#pa5d78089c2)" style="fill: none; stroke-dasharray: 0.8,1.32; stroke-dashoffset: 0; stroke: #b0b0b0; stroke-width: 0.8"/>
     </g>
     <g id="line2d_61">
      <g>
       <path d="M 0 0 L 4.5 0 " transform="translate(88.2000 449.6400)" style="stroke: #000000; stroke-width: 0.72"/>
      </g>
     </g>
     <g id="text_57">
      <text style="font-size: 10px; font-family: 'DejaVu Sans', 'Liberation Sans', sans-serif; text-anchor: end" x="82.2" y="453.439219" transform="rotate(-0 82.2 453.439219)">0.025</text>
     </g>
    </g>
    <g id="ytick_11">
     <g id="line2d_62">
      <path d="M 88.2 433.08 L 589.32 433.08 
" clip-path="url(#pa5d78089c2)" style="fill: none; stroke-dasharray: 0.8,1.32; stroke-dashoffset: 0; stroke: #b0b0b0; stroke-width: 0.8"/>
     </g>
     <g id="line2d_63">
      <g>
       <path d="M 0 0 L 4.5 0 " transform="translate(88.2000 433.0800)" style="stroke: #000000; stroke-width: 0.72"/>
      </g>
     </g>
     <g id="text_58">
      <text style="font-size: 10px; font-family: 'DejaVu Sans', 'Liberation Sans', sans-serif; text-anchor: end" x="82.2" y="436.879219" transform="rotate(-0 82.2 436.879219)">0.050</text>
     </g>
    </g>
    <g id="ytick_12">
     <g id="line2d_64">
      <path d="M 88.2 415.8 L 589.32 415.8 
" clip-path="url(#pa5d78089c2)" style="fill: none; stroke-dasharray: 0.8,1.32; stroke-dashoffset: 0; stroke: #b0b0b0; stroke-width: 0.8"/>
     </g>
     <g id="line2d_65">
      <g>
       <path d="M 0 0 L 4.5 0 " transform="translate(88.2000 415.8000)" style="stroke: #000000; stroke-width: 0.72"/>
      </g>
     </g>
     <g id="text_59">
      <text style="font-size: 10px; font-family: 'DejaVu Sans', 'Liberation Sans', sans-serif; text-anchor: end" x="82.2" y="419.599219" transform="rotate(-0 82.2 419.599219)">0.075</text>
     </g>
    </g>
   </g>
  </g>
  <g id="axes_5">
   <g id="patch_31">
    <path d="M 597.96 299.88 L 609.48 299.88 L 609.48 71.64 L 597.96 71.64 z
" style="fill: #ffffff"/>
   </g>
   <g id="cr7">
    <path d="M 597.96 299.88 L 609.48 299.88 L 609.48 266.622171 L 597.96 266.622171 z
" clip-path="url(#p1f5422c84c)" style="fill: #fee9df"/>
   </g>
   <g id="cr8">
    <path d="M 597.96 267.274286 L 609.48 267.274286 L 609.48 234.016457 L 597.96 234.016457 z
" clip-path="url(#p1f5422c84c)" style="fill: #fdc6b0"/>
   </g>
   <g id="cr9">
    <path d="M 597.96 234.668571 L 609.48 234.668571 L 609.48 201.410743 L 597.96 201.410743 z
" clip-path="url(#p1f5422c84c)" style="fill: #fc9879"/>
   </g>
   <g id="cr10">
    <path d="M 597.96 202.062857 L 609.48 202.062857 L 609.48 168.805029 L 597.96 168.805029 z
" clip-path="url(#p1f5422c84c)" style="fill: #fb694a"/>
   </g>
   <g id="cr11">
    <path d="M 597.96 169.457143 L 609.48 169.457143 L 609.48 136.199314 L 597.96 136.199314 z
" clip-path="url(#p1f5422c84c)" style="fill: #ea362a"/>
   </g>
   <g id="cr12">
    <path d="M 597.96 136.851429 L 609.48 136.851429 L 609.48 103.5936 L 597.96 103.5936 z
" clip-path="url(#p1f5422c84c)" style="fill: #bf151b"/>
   </g>
   <g id="cr13">
    <path d="M 597.96 104.245714 L 609.48 104.245714 L 609.48 71.64 L 597.96 71.64 z
" clip-path="url(#p1f5422c84c)" style="fill: #8a0812"/>
   </g>
   <g id="matplotlib.axis_9"/>
   <g id="matplotlib.axis_10">
    <g id="ytick_13">
     <g id="line2d_66">
      <g>
       <path d="M 0 0 L 4.5 0 " transform="translate(609.4800 299.8800)" style="stroke: #000000; stroke-width: 0.72"/>
      </g>
     </g>
     <g id="text_60">
      <text style="font-size: 10px; font-family: 'DejaVu Sans', 'Liberation Sans', sans-serif; text-anchor: start" x="619.98" y="303.679219" transform="rotate(-0 619.98 303.679219)">0</text>
     </g>
    </g>
    <g id="ytick_14">
     <g id="line2d_67">
      <g>
       <path d="M 0 0 L 4.5 0 " transform="translate(609.4800 267.4800)" style="stroke: #000000; stroke-width: 0.72"/>
      </g>
     </g>
     <g id="text_61">
      <text style="font-size: 10px; font-family: 'DejaVu Sans', 'Liberation Sans', sans-serif; text-anchor: start" x="619.98" y="271.073504" transform="rotate(-0 619.98 271.073504)">0.0008</text>
     </g>
    </g>
    <g id="ytick_15">
     <g id="line2d_68">
      <g>
       <path d="M 0 0 L 4.5 0 " transform="translate(609.4800 234.3600)" style="stroke: #000000; stroke-width: 0.72"/>
      </g>
     </g>
     <g id="text_62">
      <text style="font-size: 10px; font-family: 'DejaVu Sans', 'Liberation Sans', sans-serif; text-anchor: start" x="619.98" y="238.46779" transform="rotate(-0 619.98 238.46779)">0.0016</text>
     </g>
    </g>
    <g id="ytick_16">
     <g id="line2d_69">
      <g>
       <path d="M 0 0 L 4.5 0 " transform="translate(609.4800 201.9600)" style="stroke: #000000; stroke-width: 0.72"/>
      </g>
     </g>
     <g id="text_63">
      <text style="font-size: 10px; font-family: 'DejaVu Sans', 'Liberation Sans', sans-serif; text-anchor: start" x="619.98" y="205.862076" transform="rotate(-0 619.98 205.862076)">0.0024</text>
     </g>
    </g>
    <g id="ytick_17">
     <g id="line2d_70">
      <g>
       <path d="M 0 0 L 4.5 0 " transform="translate(609.4800 169.5600)" style="stroke: #000000; stroke-width: 0.72"/>
      </g>
     </g>
     <g id="text_64">
      <text style="font-size: 10px; font-family: 'DejaVu Sans', 'Liberation Sans', sans-serif; text-anchor: start" x="619.98" y="173.256362" transform="rotate(-0 619.98 173.256362)">0.0032</text>
     </g>
    </g>
    <g id="ytick_18">
     <g id="line2d_71">
      <g>
       <path d="M 0 0 L 4.5 0 " transform="translate(609.4800 137.1600)" style="stroke: #000000; stroke-width: 0.72"/>
      </g>
     </g>
     <g id="text_65">
      <text style="font-size: 10px; font-family: 'DejaVu Sans', 'Liberation Sans', sans-serif; text-anchor: start" x="619.98" y="140.650647" transform="rotate(-0 619.98 140.650647)">0.004</text>
     </g>
    </g>
    <g id="ytick_19">
     <g id="line2d_72">
      <g>
       <path d="M 0 0 L 4.5 0 " transform="translate(609.4800 104.0400)" style="stroke: #000000; stroke-width: 0.72"/>
      </g>
     </g>
     <g id="text_66">
      <text style="font-size: 10px; font-family: 'DejaVu Sans', 'Liberation Sans', sans-serif; text-anchor: start" x="619.98" y="108.044933" transform="rotate(-0 619.98 108.044933)">0.0048</text>
     </g>
    </g>
    <g id="ytick_20">
     <g id="line2d_73">
      <g>
       <path d="M 0 0 L 4.5 0 " transform="translate(609.4800 71.6400)" style="stroke: #000000; stroke-width: 0.72"/>
      </g>
     </g>
     <g id="text_67">
      <text style="font-size: 10px; font-family: 'DejaVu Sans', 'Liberation Sans', sans-serif; text-anchor: start" x="619.98" y="75.439219" transform="rotate(-0 619.98 75.439219)">0.0056</text>
     </g>
    </g>
   </g>
   <g id="patch_32">
    <path d="M 597.96 299.88 L 597.96 71.64 
" style="fill: none; stroke: #2b2b2b; stroke-width: 0.72; stroke-linejoin: miter; stroke-linecap: square"/>
   </g>
   <g id="patch_33">
    <path d="M 609.48 299.88 L 609.48 71.64 
" style="fill: none; stroke: #2b2b2b; stroke-width: 0.72; stroke-linejoin: miter; stroke-linecap: square"/>
   </g>
   <g id="patch_34">
    <path d="M 597.96 299.88 L 609.48 299.88 
" style="fill: none; stroke: #2b2b2b; stroke-width: 0.72; stroke-linejoin: miter; stroke-linecap: square"/>
   </g>
   <g id="patch_35">
    <path d="M 597.96 71.64 L 609.48 71.64 
" style="fill: none; stroke: #2b2b2b; stroke-width: 0.72; stroke-linejoin: miter; stroke-linecap: square"/>
   </g>
  </g>
  <g id="axes_6">
   <g id="matplotlib.axis_11">
    <g id="ytick_21">
     <g id="line2d_74">
      <g>
       <path d="M 0 0 L -4.5 0 " transform="translate(589.3200 466.9200)" style="stroke: #000000; stroke-width: 0.72"/>
      </g>
     </g>
     <g id="text_68">
      <text style="font-size: 10px; font-family: 'DejaVu Sans', 'Liberation Sans', sans-serif; text-anchor: start" x="595.32" y="470.719219" transform="rotate(-0 595.32 470.719219)">0</text>
     </g>
    </g>
    <g id="ytick_22">
     <g id="line2d_75">
      <g>
       <path d="M 0 0 L -4.5 0 " transform="translate(589.3200 444.6000)" style="stroke: #000000; stroke-width: 0.72"/>
      </g>
     </g>
     <g id="text_69">
      <text style="font-size: 10px; font-family: 'DejaVu Sans', 'Liberation Sans', sans-serif; text-anchor: start" x="595.32" y="448.399219" transform="rotate(-0 595.32 448.399219)">2</text>
     </g>
    </g>
    <g id="ytick_23">
     <g id="line2d_76">
      <g>
       <path d="M 0 0 L -4.5 0 " transform="translate(589.3200 423.0000)" style="stroke: #000000; stroke-width: 0.72"/>
      </g>
     </g>
     <g id="text_70">
      <text style="font-size: 10px; font-family: 'DejaVu Sans', 'Liberation Sans', sans-serif; text-anchor: start" x="595.32" y="426.799219" transform="rotate(-0 595.32 426.799219)">4</text>
     </g>
    </g>
   </g>
   <g id="line2d_77">
    <path d="M 87.768 444.423529 L 91.944 438.494118 L 96.12 428.894118 L 100.296 435.670588 L 104.472 443.858824 L 108.648 454.023529 L 112.824 453.741176 L 117 449.788235 L 121.176 448.094118 L 125.352 448.094118 L 129.528 451.482353 L 133.704 454.588235 L 137.88 448.8 L 142.056 448.376471 L 146.232 447.247059 L 150.408 446.117647 L 154.584 445.552941 L 158.76 445.129412 L 162.936 444.564706 L 167.112 444.423529 L 171.288 444.282353 L 175.464 444.282353 L 179.64 444.423529 L 183.816 445.835294 L 187.992 447.388235 L 192.168 449.505882 L 196.344 438.494118 L 200.52 441.035294 L 204.696 433.270588 L 208.872 434.258824 L 213.048 437.788235 L 217.224 439.482353 L 221.4 439.482353 L 225.576 437.364706 L 229.752 437.364706 L 233.928 438.776471 L 238.104 439.058824 L 242.28 437.788235 L 246.456 437.082353 L 250.632 438.494118 L 254.808 441.035294 L 258.984 441.6 L 263.16 440.894118 L 267.336 442.729412 L 271.512 446.541176 L 275.688 447.247059 L 279.864 445.835294 L 284.04 445.129412 L 288.216 444.423529 L 292.392 447.670588 L 296.568 450.776471 L 300.744 442.023529 L 304.92 426.776471 L 309.096 431.435294 L 313.272 434.541176 L 317.448 434.541176 L 321.624 436.376471 L 325.8 437.505882 L 329.976 443.717647 L 334.152 447.105882 L 338.328 433.835294 L 342.504 436.517647 L 346.68 437.788235 L 350.856 439.905882 L 355.032 444.423529 L 359.208 448.094118 L 363.384 449.082353 L 367.56 449.223529 L 371.736 449.647059 L 375.912 449.364706 L 380.088 448.376471 L 384.264 446.964706 L 388.44 445.835294 L 392.616 448.658824 L 396.792 443.435294 L 400.968 433.270588 L 405.144 424.376471 L 409.32 425.788235 L 413.496 424.376471 L 417.672 424.658824 L 421.848 426.917647 L 426.024 428.188235 L 430.2 430.305882 L 434.376 427.905882 L 438.552 423.670588 L 442.728 428.611765 L 446.904 428.894118 L 451.08 435.670588 L 455.256 442.023529 L 459.432 446.4 L 463.608 448.376471 L 467.784 448.376471 L 471.96 450.917647 L 476.136 449.082353 L 480.312 445.976471 L 484.488 447.247059 L 488.664 444.847059 L 492.84 437.788235 L 497.016 427.2 L 501.192 418.729412 L 505.368 407.858824 L 509.544 408.141176 L 513.72 411.670588 L 517.896 413.082353 L 522.072 419.435294 L 526.248 427.905882 L 530.424 446.258824 L 534.6 452.188235 L 538.776 447.247059 L 542.952 446.541176 L 547.128 446.258824 L 551.304 438.917647 L 555.48 437.082353 L 559.656 445.552941 L 563.832 450.494118 L 568.008 449.082353 L 572.184 446.541176 L 576.36 446.258824 L 580.536 443.717647 L 584.712 441.458824 
" clip-path="url(#pe20357d5ac)" style="fill: none; stroke: #000000; stroke-width: 0.5; stroke-linecap: square"/>
   </g>
   <g id="patch_36">
    <path d="M 88.2 466.92 L 88.2 405.72 
" style="fill: none; stroke: #2b2b2b; stroke-width: 0.72; stroke-linejoin: miter; stroke-linecap: square"/>
   </g>
   <g id="patch_37">
    <path d="M 589.32 466.92 L 589.32 405.72 
" style="fill: none; stroke: #2b2b2b; stroke-width: 0.72; stroke-linejoin: miter; stroke-linecap: square"/>
   </g>
   <g id="patch_38">
    <path d="M 88.2 466.92 L 589.32 466.92 
" style="fill: none; stroke: #2b2b2b; stroke-width: 0.72; stroke-linejoin: miter; stroke-linecap: square"/>
   </g>
   <g id="patch_39">
    <path d="M 88.2 405.72 L 589.32 405.72 
" style="fill: none; stroke: #2b2b2b; stroke-width: 0.72; stroke-linejoin: miter; stroke-linecap: square"/>
   </g>
  </g>
  <g id="text_71">
   <text style="font-size: 10px; font-family: 'DejaVu Sans', 'Liberation Sans', sans-serif; text-anchor: middle" x="73.008" y="34.759219" transform="rotate(-0 73.008 34.759219)">High</text>
  </g>
  <g id="text_72">
   <text style="font-size: 10px; font-family: 'DejaVu Sans', 'Liberation Sans', sans-serif; text-anchor: middle" x="73.008" y="50.239219" transform="rotate(-0 73.008 50.239219)">Mid</text>
  </g>
  <g id="text_73">
   <text style="font-size: 10px; font-family: 'DejaVu Sans', 'Liberation Sans', sans-serif; text-anchor: middle" x="73.008" y="65.719219" transform="rotate(-0 73.008 65.719219)">Low</text>
  </g>
  <g id="text_74">
   <text style="font-size: 10px; font-family: 'DejaVu Sans', 'Liberation Sans', sans-serif; text-anchor: middle" x="138.312" y="492.158438" transform="rotate(-0 138.312 492.158438)">Tue 4 Nov</text>
  </g>
  <g id="text_75">
   <text style="font-size: 10px; font-family: 'DejaVu Sans', 'Liberation Sans', sans-serif; text-anchor: middle" x="238.536" y="492.158438" transform="rotate(-0 238.536 492.158438)">Wed 5 Nov</text>
  </g>
  <g id="text_76">
   <text style="font-size: 10px; font-family: 'DejaVu Sans', 'Liberation Sans', sans-serif; text-anchor: middle" x="338.76" y="492.158438" transform="rotate(-0 338.76 492.158438)">Thu 6 Nov</text>
  </g>
  <g id="text_77">
   <text style="font-size: 10px; font-family: 'DejaVu Sans', 'Liberation Sans', sans-serif; text-anchor: middle" x="438.984" y="492.158438" transform="rotate(-0 438.984 492.158438)">Fri 7 Nov</text>
  </g>
  <g id="text_78">
   <text style="font-size: 10px; font-family: 'DejaVu Sans', 'Liberation Sans', sans-serif; text-anchor: middle" x="539.208" y="492.158438" transform="rotate(-0 539.208 492.158438)">Sat 8 Nov</text>
  </g>
  <g id="text_79">
   <text style="font-size: 10px; font-family: 'DejaVu Sans', 'Liberation Sans', sans-serif; text-anchor: middle" x="138.312" y="502.814437" transform="rotate(-0 138.312 502.814437)">2025</text>
  </g>
  <g id="text_80">
   <text style="font-size: 11px; font-family: 'DejaVu Sans', 'Liberation Sans', sans-serif; text-anchor: middle" textLength="433.5" lengthAdjust="spacing" x="329.76" y="515.52" transform="rotate(-0 329.76 515.52)">Lat = 29.90, Lon = -95.33, Location = Aldine, Fcst_Init = 2025-11-03 12:00:00</text>
  </g>
 </g>
 <defs>
  <clipPath id="pad1b31eeb8">
   <rect x="88.2" y="23.4" width="501.12" height="46.08"/>
  </clipPath>
  <clipPath id="p995d3564c0">
   <rect x="88.2" y="69.48" width="501.12" height="229.68"/>
  </clipPath>
  <clipPath id="p1e7e3396a5">
   <rect x="88.2" y="329.4" width="501.12" height="61.2"/>
  </clipPath>
  <clipPath id="pa5d78089c2">
   <rect x="88.2" y="405.72" width="501.12" height="61.2"/>
  </clipPath>
  <clipPath id="p1f5422c84c">
   <rect x="597.96" y="71.64" width="11.52" height="228.24"/>
  </clipPath>
  <clipPath id="pe20357d5ac">
   <rect x="88.2" y="405.72" width="501.12" height="61.2"/>
  </clipPath>
 </defs>
</svg>

</body></html>
